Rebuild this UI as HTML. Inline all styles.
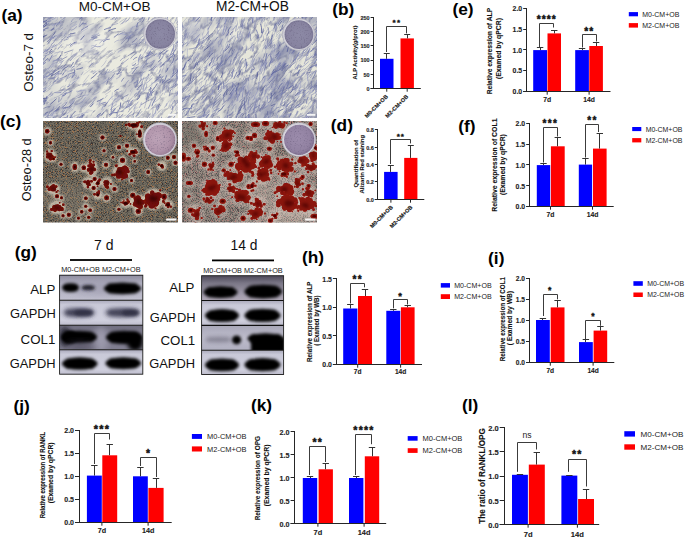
<!DOCTYPE html>
<html><head><meta charset="utf-8"><style>
html,body{margin:0;padding:0;background:#fff;}
svg{display:block;}
text{font-family:"Liberation Sans", sans-serif;}
</style></head><body>
<svg width="685" height="538" viewBox="0 0 685 538">

<rect width="685" height="538" fill="#fff"/>
<defs>
<clipPath id="clip_aL"><rect x="43" y="17" width="135" height="101"/></clipPath>
<clipPath id="clip_aR"><rect x="182" y="17" width="135" height="101"/></clipPath>
<clipPath id="clip_cL"><rect x="43" y="121" width="135" height="101.6"/></clipPath>
<clipPath id="clip_cR"><rect x="182" y="121" width="135" height="101.6"/></clipPath>
<filter id="fibA1" x="0" y="0" width="1" height="1" color-interpolation-filters="sRGB">
<feTurbulence type="turbulence" baseFrequency="0.05 0.11" numOctaves="4" seed="3"/>
<feColorMatrix type="matrix" values="0 0 0 0 0.486 0 0 0 0 0.502 0 0 0 0 0.620 -3.6 0 0 0 0.95"/>
</filter>
<filter id="fibA2" x="0" y="0" width="1" height="1" color-interpolation-filters="sRGB">
<feTurbulence type="turbulence" baseFrequency="0.08 0.16" numOctaves="3" seed="9"/>
<feColorMatrix type="matrix" values="0 0 0 0 0.424 0 0 0 0 0.447 0 0 0 0 0.596 -4 0 0 0 0.75"/>
</filter>
<filter id="fibB1" x="0" y="0" width="1" height="1" color-interpolation-filters="sRGB">
<feTurbulence type="turbulence" baseFrequency="0.05 0.11" numOctaves="4" seed="5"/>
<feColorMatrix type="matrix" values="0 0 0 0 0.486 0 0 0 0 0.502 0 0 0 0 0.620 -3.6 0 0 0 1.1"/>
</filter>
<filter id="fibB2" x="0" y="0" width="1" height="1" color-interpolation-filters="sRGB">
<feTurbulence type="turbulence" baseFrequency="0.08 0.16" numOctaves="3" seed="15"/>
<feColorMatrix type="matrix" values="0 0 0 0 0.424 0 0 0 0 0.447 0 0 0 0 0.596 -4 0 0 0 0.95"/>
</filter>
<filter id="fineA" x="0" y="0" width="1" height="1" color-interpolation-filters="sRGB">
<feTurbulence type="fractalNoise" baseFrequency="0.35" numOctaves="2" seed="41"/>
<feColorMatrix type="matrix" values="0 0 0 0 0.478 0 0 0 0 0.502 0 0 0 0 0.651 2.2 0 0 0 -0.85"/>
</filter>
<filter id="dspk" x="0" y="0" width="1" height="1" color-interpolation-filters="sRGB">
<feTurbulence type="fractalNoise" baseFrequency="0.7" numOctaves="2" seed="77"/>
<feColorMatrix type="matrix" values="0 0 0 0 0.32 0 0 0 0 0.28 0 0 0 0 0.40 1.3 0 0 0 -0.72"/>
<feComposite operator="in" in2="SourceGraphic"/>
</filter>
<filter id="washA" x="0" y="0" width="1" height="1" color-interpolation-filters="sRGB">
<feTurbulence type="fractalNoise" baseFrequency="0.03 0.06" numOctaves="3" seed="4"/>
<feColorMatrix type="matrix" values="0 0 0 0 0.557 0 0 0 0 0.573 0 0 0 0 0.682 2.2 0 0 0 -1.15"/>
</filter>
<filter id="washB" x="0" y="0" width="1" height="1" color-interpolation-filters="sRGB">
<feTurbulence type="fractalNoise" baseFrequency="0.03 0.06" numOctaves="3" seed="6"/>
<feColorMatrix type="matrix" values="0 0 0 0 0.557 0 0 0 0 0.573 0 0 0 0 0.682 2.2 0 0 0 -0.95"/>
</filter>
<filter id="fbl" x="-5%" y="-5%" width="110%" height="110%"><feGaussianBlur stdDeviation="0.4"/></filter>
<filter id="fineB" x="0" y="0" width="1" height="1" color-interpolation-filters="sRGB">
<feTurbulence type="fractalNoise" baseFrequency="0.35" numOctaves="2" seed="43"/>
<feColorMatrix type="matrix" values="0 0 0 0 0.478 0 0 0 0 0.502 0 0 0 0 0.651 2.2 0 0 0 -0.75"/>
</filter>
<filter id="speckL" x="0" y="0" width="1" height="1" color-interpolation-filters="sRGB">
<feTurbulence type="fractalNoise" baseFrequency="1.2" numOctaves="3" seed="21" result="t"/>
<feColorMatrix in="t" type="matrix" values="1 0 0 0 0 1 0 0 0 0 1 0 0 0 0 0 0 0 0 1" result="g"/>
<feComponentTransfer in="g">
<feFuncR type="table" tableValues="0.220 0.222 0.223 0.225 0.227 0.228 0.230 0.290 0.333 0.372 0.410 0.435 0.467 0.520 0.620 0.633 0.647 0.660 0.673 0.687 0.700"/>
<feFuncG type="table" tableValues="0.200 0.202 0.203 0.205 0.207 0.208 0.210 0.270 0.320 0.359 0.390 0.415 0.437 0.450 0.450 0.453 0.457 0.460 0.463 0.467 0.470"/>
<feFuncB type="table" tableValues="0.200 0.200 0.200 0.200 0.200 0.200 0.200 0.250 0.293 0.325 0.350 0.369 0.380 0.367 0.300 0.297 0.293 0.290 0.287 0.283 0.280"/>
</feComponentTransfer>
<feGaussianBlur stdDeviation="0.5"/>
</filter>
<filter id="speckR" x="0" y="0" width="1" height="1" color-interpolation-filters="sRGB">
<feTurbulence type="fractalNoise" baseFrequency="1.2" numOctaves="3" seed="31" result="t"/>
<feColorMatrix in="t" type="matrix" values="1 0 0 0 0 1 0 0 0 0 1 0 0 0 0 0 0 0 0 1" result="g"/>
<feComponentTransfer in="g">
<feFuncR type="table" tableValues="0.300 0.302 0.303 0.305 0.307 0.308 0.310 0.360 0.417 0.470 0.520 0.557 0.600 0.650 0.700 0.703 0.707 0.710 0.713 0.717 0.720"/>
<feFuncG type="table" tableValues="0.270 0.272 0.273 0.275 0.277 0.278 0.280 0.330 0.387 0.440 0.490 0.528 0.553 0.550 0.500 0.492 0.483 0.475 0.467 0.458 0.450"/>
<feFuncB type="table" tableValues="0.280 0.282 0.283 0.285 0.287 0.288 0.290 0.330 0.373 0.416 0.460 0.491 0.517 0.522 0.480 0.473 0.467 0.460 0.453 0.447 0.440"/>
</feComponentTransfer>
<feGaussianBlur stdDeviation="0.5"/>
</filter>
<filter id="blob" x="-50%" y="-50%" width="200%" height="200%"><feGaussianBlur stdDeviation="0.6"/></filter>
<filter id="blobR" x="-50%" y="-50%" width="200%" height="200%"><feMorphology operator="dilate" radius="0.4"/><feGaussianBlur stdDeviation="0.7"/></filter>
<filter id="blob2" x="-50%" y="-50%" width="200%" height="200%"><feGaussianBlur stdDeviation="1.8"/></filter>
<filter id="hal" x="-50%" y="-50%" width="200%" height="200%"><feGaussianBlur stdDeviation="1.0"/></filter>
<filter id="blob3" x="-50%" y="-50%" width="200%" height="200%"><feGaussianBlur stdDeviation="5"/></filter>
<radialGradient id="dishA" cx="0.5" cy="0.5" r="0.5"><stop offset="0" stop-color="#8d8aa6"/><stop offset="0.85" stop-color="#8783a0"/><stop offset="1" stop-color="#7a7694"/></radialGradient>
<radialGradient id="dishC" cx="0.4" cy="0.45" r="0.6"><stop offset="0" stop-color="#bea4b8"/><stop offset="0.7" stop-color="#b094aa"/><stop offset="1" stop-color="#9c8098"/></radialGradient>
<radialGradient id="dishD" cx="0.45" cy="0.45" r="0.6"><stop offset="0" stop-color="#9c8cac"/><stop offset="0.7" stop-color="#9282a2"/><stop offset="1" stop-color="#7e6e8e"/></radialGradient>

</defs>
<g clip-path="url(#clip_aL)">
<rect x="43" y="17" width="135" height="101" fill="#eaeadf"/>
<g transform="rotate(-40 110.5 67.5)"><rect x="0.5" y="-42.5" width="220" height="220" filter="url(#washA)"/>
<rect x="0.5" y="-42.5" width="220" height="220" filter="url(#fibA1)"/>
</g></g>
<g clip-path="url(#clip_aL)">
<ellipse cx="54" cy="28" rx="14" ry="12" fill="#6c7298" opacity="0.35" filter="url(#blob3)"/>
<ellipse cx="48" cy="70" rx="8" ry="25" fill="#7a80a2" opacity="0.25" filter="url(#blob3)"/>
<ellipse cx="88" cy="42" rx="22" ry="14" fill="#f2f2ec" opacity="0.45" filter="url(#blob3)"/>
<ellipse cx="130" cy="86" rx="7" ry="7" fill="#5e6490" opacity="0.4" filter="url(#blob3)"/>
<ellipse cx="66" cy="104" rx="20" ry="12" fill="#7a80a2" opacity="0.2" filter="url(#blob3)"/>
</g>
<g clip-path="url(#clip_aL)"><g fill="none" stroke-linecap="round" filter="url(#fbl)"><path stroke="#505894" stroke-width="0.5" stroke-opacity="0.25" d="M169.0 90.1Q169 88 171.0 87.6M89.1 51.0Q92 51 95.6 48.5M93.2 92.3Q95 91 95.1 89.4M41.8 80.1Q46 79 48.9 75.6M151.0 20.2Q153 20 155.7 18.2M45.4 55.8Q50 55 52.3 53.2M91.2 67.2Q94 66 95.6 66.9M137.1 66.9Q138 66 138.8 63.1"/><path stroke="#505894" stroke-width="0.5" stroke-opacity="0.5" d="M52.3 71.3Q54 71 55.7 69.7M44.4 92.4Q48 91 51.0 88.4M142.8 40.4Q144 39 144.9 38.2M105.6 94.3Q108 93 110.7 90.8M72.5 77.1Q72 75 73.4 72.7M166.6 81.2Q168 80 168.3 78.6M161.8 72.1Q162 70 163.6 67.7M49.7 83.5Q51 82 51.7 80.9M126.4 38.8Q128 39 130.8 37.6M161.2 31.6Q163 27 164.2 24.5M54.5 97.9Q58 97 62.0 94.2M156.0 17.9Q156 17 157.3 13.8M39.4 38.6Q42 38 43.0 37.1M120.4 118.8Q122 116 126.0 114.9M41.5 43.3Q42 42 44.1 40.4M52.2 30.4Q54 27 55.5 23.4M66.3 36.9Q66 37 68.8 34.9M116.8 68.1Q121 67 123.6 63.6M135.4 51.2Q135 48 137.1 43.8M153.0 49.6Q155 47 158.6 43.1M179.8 74.5Q181 73 183.5 70.2M119.8 22.1Q124 19 126.8 17.9M93.9 83.9Q95 84 98.7 80.9M137.9 84.8Q140 82 141.8 78.7M133.8 73.5Q138 73 141.3 72.6M159.2 71.9Q159 71 161.1 68.0M119.4 76.2Q120 75 121.2 73.2M64.2 63.4Q66 62 68.7 58.5M75.2 78.1Q77 78 76.4 75.0M110.6 113.2Q111 110 114.1 108.1M56.5 26.6Q59 26 59.8 22.8M177.0 29.6Q181 28 182.2 27.6M158.3 111.9Q161 110 162.3 109.3M108.9 16.7Q112 15 113.4 14.0M83.6 82.2Q86 79 89.0 75.1M143.9 112.6Q146 110 146.7 108.2M175.6 47.9Q176 46 178.2 43.2M166.9 47.2Q170 44 170.5 41.6M127.3 101.6Q128 99 128.8 97.7M146.1 57.5Q149 55 151.8 52.5M60.4 23.7Q61 21 62.9 21.2M69.6 102.6Q74 101 76.6 98.4M60.0 89.0Q61 87 63.5 86.1M49.7 119.2Q55 118 57.6 115.7M174.6 76.6Q177 75 177.7 72.1M72.5 100.4Q74 100 75.3 97.9"/><path stroke="#505894" stroke-width="0.5" stroke-opacity="0.75" d="M136.6 116.3Q139 115 142.0 111.4M155.0 97.1Q156 94 157.8 92.4M51.3 53.6Q53 52 54.3 51.3M110.4 109.6Q113 106 116.2 104.5M78.7 97.3Q82 96 84.9 94.9M160.3 96.3Q163 94 163.1 93.2M80.8 116.0Q83 115 84.9 113.7M37.7 47.7Q41 47 44.8 45.2M113.8 122.7Q116 120 119.8 116.3M139.2 39.9Q141 37 144.3 35.2M121.3 43.9Q125 39 127.6 37.5M130.0 123.8Q133 121 133.6 116.4M167.2 61.6Q168 61 169.5 58.1M90.6 122.0Q93 122 95.8 119.9M172.4 108.5Q175 106 177.6 102.1M163.7 66.1Q164 65 165.0 63.0M155.6 94.4Q156 92 157.1 90.3M174.2 87.3Q177 86 179.6 83.1M163.1 27.9Q165 26 165.9 23.2M165.1 53.7Q167 52 167.0 50.3M181.1 67.3Q181 65 182.4 62.7M128.2 112.0Q129 111 130.0 109.3M162.6 64.7Q165 62 169.4 59.6M116.0 113.1Q120 111 123.1 111.3M46.5 119.2Q48 114 50.1 111.3M150.2 48.1Q151 45 151.5 40.6M66.5 45.3Q69 46 70.9 43.4M108.3 53.1Q111 51 112.2 50.4M59.3 15.7Q63 14 64.0 11.5M65.6 81.2Q67 78 68.6 75.4M136.8 84.9Q139 83 141.6 79.1M76.7 67.0Q78 65 80.7 64.1M174.9 46.9Q175 45 177.0 43.7M89.4 91.6Q91 90 92.4 87.9"/><path stroke="#505894" stroke-width="1.0" stroke-opacity="0.25" d="M139.2 74.5Q141 70 143.7 67.3M145.6 102.2Q147 101 146.8 98.1M120.0 40.3Q123 39 125.7 36.5M85.0 94.0Q86 91 86.0 90.8M144.5 84.6Q145 83 146.7 80.1M140.2 22.2Q142 20 142.8 16.2M177.1 38.5Q179 37 179.8 33.6M153.4 98.1Q155 97 154.9 93.0M178.7 59.2Q180 55 182.2 51.4M99.5 74.6Q103 72 104.8 67.9M113.4 110.3Q116 107 120.1 104.9M77.4 97.8Q79 98 80.9 96.4M40.5 62.3Q43 59 44.4 58.1M152.8 33.4Q156 32 160.3 28.8M106.8 72.3Q110 72 109.9 69.9"/><path stroke="#505894" stroke-width="1.0" stroke-opacity="0.5" d="M169.8 65.9Q172 63 172.4 61.9M57.8 69.1Q61 67 62.3 65.9M101.7 115.4Q103 114 103.7 112.3M100.8 115.4Q103 113 106.2 110.3M90.8 15.4Q94 15 96.5 13.3M130.0 109.4Q133 106 135.4 104.1M62.1 40.0Q63 39 66.2 36.4M151.0 109.3Q155 106 156.4 104.0M55.1 111.2Q56 110 58.5 109.3M64.2 40.3Q65 40 68.3 38.8M158.4 25.9Q162 26 165.0 23.3M56.4 25.6Q58 23 59.9 22.2M132.3 42.4Q135 41 136.8 38.3M141.3 104.7Q146 102 148.8 100.1M159.5 58.3Q161 55 159.9 53.0M146.7 40.1Q149 35 149.2 31.6M128.1 55.8Q132 53 133.6 52.0M106.7 84.5Q108 80 109.0 77.6M160.0 83.1Q161 78 163.3 76.0M138.5 59.3Q139 57 140.5 54.7M146.2 78.5Q149 76 148.7 74.2M109.4 79.5Q113 77 114.6 73.6M168.1 83.2Q168 82 170.5 81.3M41.9 60.6Q44 59 46.0 55.8M49.8 40.6Q50 39 52.4 37.5M130.9 54.3Q133 53 134.3 52.1M171.5 121.3Q174 121 173.5 118.5M91.6 37.8Q95 37 99.8 35.0M167.3 43.9Q168 41 170.0 40.0M128.6 104.9Q130 104 131.3 103.2M166.4 57.2Q170 56 172.9 53.2M169.3 95.6Q170 93 170.4 90.3M70.0 105.6Q72 103 74.5 100.9M68.9 34.9Q71 34 74.4 33.0M174.0 16.6Q176 15 176.8 13.8M60.6 17.9Q62 16 63.5 14.9M59.4 61.1Q64 58 66.9 56.7M175.0 105.6Q176 103 174.6 100.4M154.9 81.5Q158 79 160.8 76.0M43.8 108.3Q46 107 49.1 106.5M147.0 120.5Q147 117 149.6 114.5M70.4 33.6Q72 34 75.3 33.1M128.0 40.7Q129 37 130.2 36.0M172.8 41.1Q173 38 175.3 36.9M56.2 111.4Q57 109 59.7 106.2M138.4 60.9Q140 59 143.0 57.5M79.5 26.8Q81 25 83.4 22.2M121.3 98.9Q125 96 128.1 94.6M51.8 75.3Q53 73 55.1 70.0M80.8 95.1Q82 93 82.3 92.3M64.5 52.8Q67 52 72.3 50.1M142.2 22.1Q144 21 144.6 17.9M39.4 81.6Q42 79 44.0 75.0M63.3 115.4Q66 114 66.4 112.0M77.2 119.5Q82 118 84.7 115.0M130.8 58.2Q133 55 136.4 53.2"/><path stroke="#505894" stroke-width="1.0" stroke-opacity="0.75" d="M44.9 26.3Q47 25 46.6 22.8M137.0 89.7Q139 86 142.3 84.2M97.3 101.4Q99 101 103.2 98.5M104.8 106.3Q106 104 107.3 102.5M176.7 43.2Q179 40 181.5 36.8M44.0 104.5Q46 100 46.9 96.5M144.8 57.1Q148 55 148.5 55.0M145.4 29.4Q148 26 148.8 21.9M159.6 54.0Q163 51 165.5 49.6M157.6 110.1Q158 107 159.4 104.5M56.9 59.5Q60 58 60.8 55.3M79.2 50.1Q80 49 82.0 48.9M165.7 72.0Q168 71 167.8 68.2M168.6 26.8Q168 24 170.1 21.5M117.7 74.3Q120 71 120.7 69.6M70.3 118.0Q72 114 75.2 111.3M51.3 30.1Q53 28 54.1 28.8M119.6 108.9Q121 106 120.7 102.9M157.9 77.8Q159 77 160.2 74.5M151.0 95.5Q151 93 153.3 91.3M38.8 30.9Q41 28 45.0 25.9M42.2 26.6Q44 25 46.1 23.3M51.7 75.7Q54 75 59.2 71.1M171.6 39.4Q171 36 173.0 32.9M80.7 39.9Q83 37 84.2 35.8M76.8 69.3Q79 69 82.5 67.8M167.4 42.1Q168 40 168.4 38.3M41.4 22.6Q44 22 46.9 20.2M96.9 116.6Q97 115 100.3 113.5M62.7 108.1Q67 108 69.4 106.8M66.4 118.8Q67 118 67.7 115.6M152.0 21.1Q156 19 159.1 17.5M52.9 35.3Q54 35 55.2 32.1M156.2 34.3Q159 32 162.1 31.2M160.5 67.0Q161 66 163.8 64.1M91.1 78.5Q95 76 97.3 73.0M137.3 123.4Q137 120 138.1 118.6M61.8 70.7Q64 68 68.0 66.4M152.4 90.4Q156 86 157.2 83.8M39.8 98.5Q44 99 48.1 97.9M41.0 37.8Q45 36 46.9 35.0M118.5 119.1Q120 117 122.9 114.5M155.8 23.9Q158 20 160.3 18.1M74.2 73.5Q75 72 74.7 69.9M108.3 31.1Q112 29 115.5 28.4M78.2 118.7Q80 117 82.8 115.4M49.4 52.3Q50 50 51.7 49.2M50.5 104.2Q53 102 56.3 98.9M59.9 119.7Q62 118 65.5 117.7M41.8 37.7Q44 37 44.6 35.9M136.7 26.8Q137 24 138.1 22.5M44.8 114.8Q45 113 47.8 112.0"/><path stroke="#5e66a0" stroke-width="0.5" stroke-opacity="0.25" d="M70.6 36.7Q76 35 79.0 33.8M140.8 23.6Q143 20 145.0 17.6M98.3 121.5Q100 120 103.1 119.3M40.4 105.6Q43 106 46.2 105.8M42.4 55.0Q43 55 46.2 52.3M152.6 97.9Q155 96 158.6 93.7M159.3 58.7Q161 57 160.6 55.2M92.3 105.0Q94 105 95.0 102.0M131.0 55.6Q135 53 138.5 51.0M112.7 99.7Q115 97 119.2 93.7M60.6 41.9Q63 40 67.5 37.4M78.3 44.0Q82 42 84.9 41.7M159.0 115.7Q162 113 164.3 108.6M170.9 55.2Q171 50 173.3 47.4M55.1 63.8Q58 60 61.7 58.0M162.1 99.0Q164 98 166.6 96.7"/><path stroke="#5e66a0" stroke-width="0.5" stroke-opacity="0.5" d="M176.8 23.4Q178 23 178.2 20.3M173.9 96.7Q176 92 178.1 90.6M48.1 125.0Q51 123 52.5 118.8M126.1 32.9Q129 33 131.7 31.6M157.9 115.8Q160 113 163.2 110.1M90.9 115.7Q92 113 93.9 110.8M173.9 52.9Q176 49 176.4 45.6M78.7 120.9Q81 116 82.2 113.4M107.2 90.4Q111 88 113.9 86.1M142.4 89.6Q144 85 146.1 82.6M96.3 59.1Q98 56 101.0 53.0M158.8 34.8Q160 31 160.6 29.5M164.4 119.6Q165 119 167.4 118.7M72.4 121.9Q75 121 77.4 118.2M165.6 71.2Q167 67 167.1 64.4M154.9 23.1Q157 23 158.3 20.1M113.5 72.5Q118 71 121.2 68.9M168.9 32.7Q171 32 170.7 29.4M113.7 24.4Q116 22 117.2 21.7M127.3 73.9Q131 73 133.2 69.0M150.0 67.2Q153 64 155.1 60.1M133.4 109.4Q136 108 136.3 107.0M43.6 86.7Q44 84 47.0 83.0M63.6 69.2Q67 66 70.2 64.3M62.9 89.5Q64 88 65.6 85.1M39.2 95.5Q41 93 44.2 91.7M142.8 86.7Q145 84 145.4 78.8M150.9 24.8Q154 20 155.1 17.7M76.0 16.7Q77 16 79.1 16.1M51.8 118.6Q54 117 55.2 116.9M47.1 26.9Q51 25 52.7 22.9M78.0 91.4Q82 92 83.9 90.7M61.6 105.3Q64 103 65.6 102.5M85.5 26.8Q89 25 93.4 23.4M169.4 35.7Q172 33 172.6 29.4"/><path stroke="#5e66a0" stroke-width="0.5" stroke-opacity="0.75" d="M176.9 103.2Q178 99 180.4 96.8M54.7 75.8Q58 73 60.1 71.6M143.2 66.6Q146 64 148.4 63.1M146.2 88.1Q147 86 146.7 84.3M171.2 109.8Q172 109 173.3 106.0M178.5 69.4Q182 66 183.2 62.6M43.6 55.9Q45 56 48.9 54.3M39.0 117.5Q41 117 42.1 115.3M67.4 78.5Q70 78 70.9 75.8M108.9 18.0Q111 16 111.5 15.5M67.8 120.0Q71 117 71.2 114.1M48.6 89.0Q51 86 53.1 84.3M125.4 101.8Q130 101 132.3 97.7M132.0 68.9Q135 66 138.7 63.9M164.9 39.2Q165 36 166.1 32.4M111.2 25.1Q114 25 117.8 23.4M117.5 35.0Q121 34 124.6 31.8M147.8 94.2Q148 93 149.2 90.9M47.6 50.4Q50 49 49.5 47.9M132.4 44.4Q136 44 137.1 42.5M57.8 80.0Q58 76 58.4 73.4M62.0 111.7Q63 108 65.7 106.9M98.7 28.2Q100 26 102.1 25.9M59.1 44.6Q62 43 62.0 39.4M166.0 70.5Q168 70 169.1 67.1M140.9 79.1Q141 76 140.7 74.2M156.1 23.9Q159 20 159.9 15.9M44.5 26.7Q46 26 49.2 23.3M114.9 94.9Q118 92 121.5 90.9M160.9 66.0Q164 63 166.7 60.4M91.3 106.3Q93 104 93.3 102.1M147.3 55.7Q150 53 151.5 49.0M163.8 90.0Q164 87 164.4 85.0M105.0 97.8Q107 96 107.1 95.6M140.8 84.2Q143 81 144.0 77.1M97.9 16.6Q101 16 103.3 12.9M81.3 74.7Q83 73 83.1 72.0M120.8 24.1Q125 21 126.5 18.3M167.6 43.3Q170 40 170.7 38.1M159.4 65.0Q161 64 161.4 62.6M76.6 104.7Q81 103 82.6 101.6M153.4 83.1Q156 81 158.0 76.5M95.0 40.7Q99 39 102.8 40.1M132.6 116.1Q134 114 134.9 110.2M74.7 64.9Q76 61 78.4 58.9"/><path stroke="#5e66a0" stroke-width="1.0" stroke-opacity="0.25" d="M43.7 17.8Q48 18 50.2 15.2M142.7 79.2Q147 77 149.9 74.2M70.0 24.6Q73 22 75.3 21.7M123.1 93.5Q126 92 126.3 88.9M76.8 60.5Q79 58 80.6 56.1M167.2 45.0Q169 42 170.2 36.5M135.2 119.5Q137 115 138.8 113.0M118.7 35.0Q120 34 122.4 32.7M61.6 96.7Q63 94 65.9 92.5M99.8 72.3Q103 70 103.4 69.3"/><path stroke="#5e66a0" stroke-width="1.0" stroke-opacity="0.5" d="M172.0 120.3Q172 119 174.4 118.4M89.2 106.3Q93 102 94.9 99.6M58.6 101.9Q59 100 59.1 97.3M149.0 70.8Q153 69 154.8 66.2M168.8 59.7Q169 58 170.8 56.8M62.8 92.9Q67 90 69.4 88.6M139.1 20.2Q142 19 143.3 16.6M53.2 61.2Q56 61 61.5 58.4M170.5 90.4Q173 89 176.9 84.7M151.8 19.5Q154 18 155.8 16.8M142.0 19.1Q145 16 147.6 14.6M171.6 87.5Q174 87 176.0 84.4M151.0 45.4Q154 45 154.7 43.0M44.9 21.8Q47 19 51.7 16.9M42.1 92.7Q45 91 45.8 87.7M147.8 24.8Q150 23 152.7 18.9M49.6 94.6Q50 94 51.8 91.8M47.4 44.2Q49 42 51.5 39.3M135.7 116.4Q139 114 140.5 109.7M105.3 74.2Q106 71 107.7 69.3M68.1 87.0Q72 84 74.4 81.6M158.8 26.1Q158 25 160.2 21.2M148.4 90.1Q150 89 151.5 88.4M121.6 111.2Q124 111 124.5 108.6M53.2 82.6Q56 81 58.4 77.8M156.0 38.0Q158 37 158.4 34.4M158.4 61.7Q160 60 160.8 59.2M94.0 54.3Q97 54 98.4 52.8M174.6 62.3Q174 60 176.6 59.6M60.1 118.0Q62 116 64.7 113.2M40.2 66.2Q43 64 45.3 62.8M136.2 17.0Q139 14 141.5 10.8M138.0 96.8Q140 95 142.5 91.0M158.6 108.5Q159 107 161.0 105.0M139.3 43.6Q141 42 143.3 39.5M158.5 62.2Q161 60 163.4 55.8M60.3 78.7Q63 78 67.0 75.4M50.7 30.4Q53 30 54.1 27.8M135.1 97.4Q138 95 139.1 91.6M89.5 66.7Q91 64 93.4 62.8M168.1 117.7Q171 114 172.1 111.3M126.9 122.3Q130 120 130.9 119.8M67.5 86.8Q69 87 69.6 84.7M165.6 45.5Q169 44 170.5 41.9M131.5 68.9Q136 68 138.5 66.8M93.1 73.7Q94 74 95.9 71.5M63.3 18.4Q66 16 70.9 14.7"/><path stroke="#5e66a0" stroke-width="1.0" stroke-opacity="0.75" d="M43.2 30.1Q46 28 48.1 27.7M151.9 105.9Q152 104 155.1 99.2M66.2 15.9Q68 15 71.7 14.3M70.5 67.2Q72 65 73.4 62.3M109.2 114.6Q112 112 116.7 112.4M132.3 73.5Q134 71 136.9 67.5M70.4 45.4Q72 44 74.8 42.3M150.8 93.1Q149 90 150.5 87.3M165.8 36.0Q167 34 167.7 32.2M62.5 75.0Q64 72 66.1 70.3M173.0 54.6Q173 52 175.2 49.8M148.2 97.4Q150 93 152.4 90.4M171.5 77.2Q174 75 177.3 71.6M69.5 106.5Q71 105 73.5 102.8M114.2 37.2Q116 36 118.2 33.7M81.2 119.4Q83 116 83.3 114.6M162.6 82.5Q166 80 166.6 75.7M52.8 38.7Q54 37 54.9 35.8M146.7 56.5Q148 56 149.2 54.1M36.6 107.0Q40 106 42.1 103.0M114.6 91.2Q117 89 118.2 89.1M79.4 19.2Q83 17 85.5 13.6M39.3 103.6Q42 101 46.1 100.5M71.8 77.9Q74 75 74.8 73.8M97.3 123.5Q101 120 103.8 117.6M42.8 91.5Q45 92 46.0 89.9M132.6 65.4Q135 66 135.6 63.6M172.8 62.5Q174 57 174.7 54.6M62.5 96.0Q65 95 65.6 94.4M163.6 83.8Q166 81 170.2 79.1M104.4 29.5Q108 28 110.6 27.5M90.4 106.8Q92 105 93.1 103.9M170.9 36.7Q171 34 173.3 30.5M167.9 60.0Q172 57 173.4 54.7M137.3 99.7Q140 98 140.0 95.4"/><path stroke="#6e74aa" stroke-width="0.5" stroke-opacity="0.25" d="M136.6 32.4Q140 32 142.7 29.1M161.8 83.2Q165 82 165.9 80.3M135.7 32.9Q138 30 139.0 27.7M175.9 33.6Q178 31 179.7 28.3M147.1 48.3Q148 45 148.6 41.0M73.0 80.3Q74 80 75.5 77.7M40.7 54.1Q43 53 45.0 49.3M59.1 102.0Q61 101 62.3 97.9M47.1 118.1Q49 116 51.5 114.4M61.0 121.6Q63 122 63.9 120.0M153.5 92.2Q155 92 154.6 88.7"/><path stroke="#6e74aa" stroke-width="0.5" stroke-opacity="0.5" d="M181.1 66.2Q182 64 181.9 61.1M178.9 17.0Q179 13 181.4 9.5M69.0 101.4Q71 100 73.9 97.8M45.6 40.4Q50 38 53.1 35.7M169.3 43.6Q172 41 175.1 37.2M52.3 114.6Q55 112 58.2 108.3M162.4 58.4Q163 54 165.8 50.8M43.0 102.9Q45 101 47.7 99.2M62.1 109.3Q65 108 66.0 106.9M77.4 92.4Q78 92 80.6 90.2M122.0 31.5Q124 31 124.5 29.6M46.3 113.7Q51 111 53.3 109.7M138.2 33.6Q141 29 144.5 27.3M55.9 21.1Q58 20 57.6 17.1M43.5 29.8Q47 28 48.5 28.6M46.6 83.3Q47 82 49.0 80.1M118.2 71.8Q119 69 121.7 67.7M51.0 67.6Q53 66 53.3 64.7M117.9 99.9Q121 96 122.4 94.2M89.1 66.3Q91 66 91.9 62.8M119.0 76.3Q121 75 121.0 73.5M155.3 115.4Q157 113 160.1 111.2M143.2 31.6Q145 28 145.9 26.3M121.8 23.8Q122 23 125.1 21.2M75.1 56.3Q77 56 77.1 53.2M159.7 41.0Q163 41 166.1 38.4M130.5 102.0Q134 101 135.1 98.9M158.7 42.6Q160 39 160.9 37.8M170.9 95.0Q172 92 173.1 89.1M157.5 67.3Q160 64 161.0 60.3M142.1 56.4Q144 54 145.3 50.8M66.1 114.1Q69 112 73.0 109.3M170.1 78.9Q170 77 171.3 74.4M82.7 86.7Q83 86 84.8 83.0M144.8 52.4Q147 49 149.6 45.1M83.7 74.6Q88 71 90.3 69.5M153.8 73.8Q157 72 157.7 68.9M135.7 112.6Q137 110 138.3 109.8M122.0 106.4Q123 106 123.4 103.4M62.4 112.4Q64 111 64.8 110.3M83.5 109.2Q86 106 88.4 104.3M39.4 23.4Q44 21 47.1 18.7M134.4 95.0Q138 92 140.8 89.1M152.0 70.2Q153 68 156.3 64.4M67.9 60.2Q71 56 74.3 53.8M64.9 55.9Q67 53 67.6 53.2M130.0 105.6Q132 103 132.0 100.5M42.9 60.4Q45 59 46.2 56.9M95.3 64.3Q99 63 100.3 59.8M130.3 91.5Q130 90 132.3 88.4M103.2 43.2Q104 42 105.8 39.6M92.1 123.8Q94 121 97.1 119.2M58.4 63.6Q61 61 63.3 58.4M48.0 17.7Q50 15 52.3 14.9M142.8 50.1Q143 48 145.3 45.9M142.8 92.1Q145 91 147.8 87.2M110.9 80.9Q112 78 112.6 75.6M96.4 119.1Q99 117 102.2 113.9M149.9 91.5Q152 90 151.2 87.8M176.0 84.7Q176 81 178.0 79.2"/><path stroke="#6e74aa" stroke-width="0.5" stroke-opacity="0.75" d="M102.5 74.8Q104 75 106.6 72.4M46.6 25.0Q49 24 49.1 22.0M70.7 57.4Q73 55 76.0 53.5M110.6 19.4Q115 19 117.7 18.4M53.0 64.2Q55 63 57.1 61.9M152.5 115.3Q153 110 153.1 107.3M165.7 92.6Q166 90 166.9 84.8M72.1 117.4Q76 115 79.6 114.3M56.2 119.5Q60 118 60.7 117.2M45.8 121.1Q47 119 49.6 117.1M83.5 104.7Q87 102 89.6 98.6M173.2 24.3Q175 21 176.5 19.9M94.6 18.8Q97 17 97.0 16.9M178.9 72.4Q182 69 183.4 64.8M60.7 94.3Q64 94 65.4 93.7M178.0 93.5Q178 91 179.0 89.1M69.9 47.1Q72 46 73.2 44.8M113.9 100.7Q117 99 119.4 95.9M76.1 96.8Q80 95 81.9 93.0M77.0 61.6Q80 62 80.6 60.0M46.0 98.2Q48 95 51.5 93.8M116.3 101.9Q118 101 120.5 98.4M153.6 102.6Q157 101 160.2 97.8M114.8 119.6Q117 116 119.9 114.8M91.8 35.8Q95 35 96.4 34.0M87.7 86.7Q90 83 93.8 80.4M102.3 103.9Q103 102 105.9 102.2M146.0 64.2Q146 59 147.9 56.7M144.5 107.9Q145 106 146.1 102.3M79.3 25.3Q81 21 82.1 18.5M129.5 83.0Q133 82 133.4 78.9M73.5 107.0Q75 106 77.1 103.5M54.7 53.1Q58 52 62.1 51.6M171.6 58.2Q172 57 173.7 53.9M161.9 92.3Q163 90 163.5 86.4M172.9 36.5Q173 35 175.7 32.6M176.7 27.5Q182 27 184.4 23.3M131.8 81.2Q133 80 133.9 77.6M179.4 104.0Q179 101 179.5 99.1M50.9 58.3Q53 56 55.9 55.4M39.9 74.7Q42 71 45.3 69.5M49.7 72.3Q52 71 52.7 69.6M105.4 18.9Q108 18 109.4 16.1"/><path stroke="#6e74aa" stroke-width="1.0" stroke-opacity="0.25" d="M154.7 25.8Q156 23 154.6 20.6M59.9 36.5Q63 35 66.8 31.1M61.0 115.4Q63 113 63.3 112.2M154.7 82.6Q157 80 160.1 78.9M173.8 73.2Q176 72 176.8 68.6M166.9 24.3Q168 21 170.8 19.5M151.1 64.5Q152 62 153.0 61.1M41.2 54.1Q42 51 44.1 49.2M100.8 58.2Q104 56 107.1 54.3M154.1 34.5Q157 33 157.9 32.2M175.9 50.7Q177 49 177.9 48.4"/><path stroke="#6e74aa" stroke-width="1.0" stroke-opacity="0.5" d="M150.2 67.5Q152 65 154.3 60.6M173.8 36.1Q175 33 175.4 29.2M61.4 91.0Q63 89 65.3 88.2M71.3 21.8Q72 20 73.6 18.7M127.8 116.4Q131 115 133.8 113.8M176.6 60.2Q178 59 178.3 56.4M134.9 30.7Q135 30 138.0 29.1M41.7 88.8Q43 84 45.6 81.3M97.8 76.6Q99 75 100.2 74.2M62.0 114.3Q63 112 64.7 110.0M164.7 107.3Q166 106 166.8 103.6M147.0 21.7Q148 21 149.5 17.7M157.8 73.9Q160 72 160.7 69.7M48.1 69.3Q51 65 53.8 62.5M120.3 60.7Q122 58 124.5 57.4M51.2 111.4Q54 108 54.0 106.7M64.0 36.0Q65 33 66.5 32.7M121.9 63.7Q126 61 128.4 58.8M65.2 119.0Q68 119 72.6 117.2M156.7 108.0Q157 107 158.7 105.6M71.2 30.3Q74 30 76.7 26.7M144.9 90.0Q145 87 146.4 86.9M125.4 84.7Q126 83 128.4 80.5M148.2 54.9Q149 52 150.7 51.5M125.8 21.9Q129 20 130.0 17.5M168.1 90.8Q168 89 168.7 87.4M148.3 19.5Q150 16 150.1 11.0M175.5 43.2Q178 42 180.0 41.1M57.7 68.0Q61 65 62.4 61.4M145.7 61.3Q148 58 149.6 57.5M64.9 109.0Q67 108 67.2 106.7M141.5 88.3Q142 86 142.4 81.8M40.2 67.5Q43 64 45.6 62.3M162.9 35.0Q165 32 165.3 31.4M37.9 74.5Q39 72 43.2 69.6M46.2 52.3Q48 48 51.5 45.3M147.5 121.4Q149 119 150.0 116.7M37.4 98.1Q39 94 41.9 91.3M172.8 86.3Q174 84 176.1 81.0M145.7 95.9Q148 94 148.4 92.7M126.5 119.8Q128 118 128.4 116.9M48.4 50.0Q52 46 54.5 44.6M175.5 85.2Q176 81 177.5 76.5"/><path stroke="#6e74aa" stroke-width="1.0" stroke-opacity="0.75" d="M155.7 122.7Q157 120 156.6 118.1M37.7 19.0Q41 18 43.4 15.4M45.7 22.5Q49 21 50.9 20.8M37.0 25.1Q40 24 43.7 21.4M41.7 64.6Q45 61 47.6 58.4M116.8 116.2Q117 112 118.3 110.5M148.5 56.0Q151 54 152.8 53.3M66.9 37.8Q70 36 70.5 35.8M155.7 80.7Q158 78 162.1 76.8M39.2 53.9Q42 50 42.7 47.1M47.1 41.9Q50 39 52.3 36.3M121.6 81.2Q122 80 123.8 78.0M116.5 74.1Q118 74 121.5 72.3M172.7 119.2Q174 117 175.2 115.7M133.4 59.5Q134 58 136.9 57.2M126.0 107.9Q130 106 131.8 104.7M111.7 122.9Q114 120 115.0 117.5M172.5 50.1Q174 48 174.0 44.3M173.0 73.6Q174 73 173.7 69.8M110.7 114.2Q112 112 115.1 108.6M135.5 87.4Q137 85 138.0 80.5M176.4 77.0Q177 74 177.6 69.8M103.3 41.5Q106 39 109.4 39.1M163.1 54.5Q165 52 168.1 50.5M61.9 68.3Q64 67 65.5 64.7M46.4 119.1Q48 117 48.7 116.8M81.4 30.1Q84 28 87.7 26.5M71.6 68.1Q72 67 74.4 66.0M134.5 95.3Q135 95 136.6 92.9M49.1 61.2Q51 57 52.3 55.1M39.2 48.3Q39 46 41.3 45.8M148.2 108.5Q149 107 150.1 104.7M81.5 56.7Q83 55 84.6 53.7M82.2 23.7Q85 23 86.4 23.9M96.7 119.3Q99 116 100.4 113.6M61.4 122.1Q65 122 66.6 118.7M49.4 75.0Q53 73 56.6 70.3M42.6 119.7Q45 118 48.7 115.1M49.8 121.7Q53 118 54.7 115.7M65.1 93.7Q69 93 72.1 90.7M112.1 18.9Q116 16 119.5 14.2M175.1 34.7Q176 33 176.7 32.1M61.9 107.7Q66 105 67.1 102.1M146.3 100.3Q147 98 147.9 94.1M172.1 77.1Q173 75 173.5 72.8M49.7 53.1Q50 51 53.1 50.9M68.6 74.3Q72 73 74.4 72.2M92.7 39.7Q95 38 96.5 37.1M162.3 83.2Q163 81 162.9 79.3M44.0 77.7Q49 76 51.6 73.4M159.7 119.8Q161 118 161.6 117.4M49.9 18.3Q51 15 53.9 14.8M83.2 122.4Q85 121 90.0 120.6M37.1 102.3Q40 100 44.5 99.9M172.7 110.2Q173 108 172.8 106.1M180.0 34.3Q181 33 181.6 30.0M50.1 115.3Q52 113 56.4 109.8"/><path stroke="#8086b4" stroke-width="0.5" stroke-opacity="0.25" d="M97.2 47.3Q101 46 103.8 45.0M177.5 108.7Q179 106 180.7 102.5M172.6 92.7Q174 90 175.1 87.9M62.1 96.8Q65 94 65.8 91.8M141.2 71.9Q144 70 146.0 66.1M177.4 36.6Q178 33 180.6 28.5M71.8 110.5Q73 110 74.5 107.4M48.7 100.8Q51 100 54.6 98.2M152.6 93.3Q155 91 157.4 89.1M89.9 120.8Q93 119 93.5 116.8M169.1 70.5Q173 67 176.2 65.5M39.8 41.5Q42 40 46.0 38.2M142.9 94.6Q145 93 147.2 89.6"/><path stroke="#8086b4" stroke-width="0.5" stroke-opacity="0.5" d="M44.0 16.4Q48 14 50.3 10.1M70.9 55.8Q72 52 73.3 49.2M135.7 122.8Q136 121 139.0 117.9M139.5 22.1Q140 20 142.5 18.1M55.9 56.5Q57 53 60.0 50.8M41.3 62.3Q45 61 47.3 59.1M161.3 116.9Q163 113 163.0 110.7M94.5 91.8Q95 89 98.3 88.5M155.3 113.4Q157 109 156.4 105.6M73.9 59.2Q76 57 79.4 55.4M84.9 61.7Q87 61 89.6 61.3M140.4 80.7Q143 79 146.6 77.6M111.0 73.0Q114 72 117.8 69.6M149.2 86.5Q152 84 152.9 83.2M147.3 79.8Q149 76 151.5 72.4M65.2 79.7Q67 77 69.1 73.4M44.3 51.0Q47 52 47.9 51.1M125.5 100.0Q126 97 127.7 95.1M117.6 97.9Q119 96 119.2 92.8M152.0 41.4Q153 41 154.2 39.4M140.8 80.8Q141 76 142.1 72.9M55.5 111.2Q58 109 60.2 107.5M178.0 105.7Q180 102 181.2 99.9M172.7 18.1Q173 17 173.3 14.9M136.0 114.7Q140 112 141.6 108.8M156.5 107.7Q157 105 157.8 104.3M92.7 37.1Q96 36 98.2 32.5M137.5 48.3Q139 44 140.0 41.2M169.4 82.0Q172 80 174.2 78.6M131.7 63.8Q133 63 136.2 60.7M151.5 83.4Q155 82 160.0 80.8M148.6 87.0Q151 85 154.3 82.1M40.9 27.7Q43 26 47.7 23.5M149.6 58.0Q150 57 151.6 55.2M176.4 38.5Q177 34 177.8 32.5M142.7 71.6Q144 70 144.2 66.3M53.2 84.1Q54 82 55.4 80.5M170.8 87.4Q172 82 174.8 79.9"/><path stroke="#8086b4" stroke-width="0.5" stroke-opacity="0.75" d="M72.8 76.8Q74 75 75.6 75.2M156.7 121.5Q157 120 158.3 116.5M168.9 59.1Q170 57 171.6 54.3M91.3 46.0Q93 45 94.3 45.5M40.1 92.0Q41 89 44.4 87.9M154.5 21.8Q157 20 156.9 19.7M57.2 36.6Q61 34 62.8 31.6M51.8 62.8Q54 60 57.1 59.2M69.4 110.6Q71 109 71.9 108.5M129.0 34.1Q131 30 132.8 26.6M93.0 95.0Q97 94 99.1 92.0M110.4 80.0Q112 79 114.2 76.4M58.4 119.5Q60 117 63.0 114.2M124.3 106.5Q127 105 126.5 102.8M174.4 74.0Q174 72 175.8 71.2M152.6 118.5Q151 117 150.4 113.3M38.3 15.2Q39 14 41.5 11.9M36.1 78.6Q39 77 42.1 76.1M61.4 18.3Q64 15 64.0 13.2M54.5 81.5Q57 80 59.9 78.8M163.5 24.0Q165 22 165.4 18.6M101.6 66.6Q104 65 106.2 60.6M154.8 41.2Q158 38 158.9 36.4M73.7 25.0Q76 23 76.6 21.4M50.4 39.5Q52 38 52.6 37.4M149.2 79.4Q150 77 152.0 74.8M158.2 43.1Q162 40 163.7 36.9M159.8 67.8Q160 66 161.4 62.6M167.5 86.9Q168 84 169.5 83.8M63.7 49.1Q65 47 66.5 46.6M155.6 22.9Q157 21 157.8 20.5M145.0 69.3Q149 68 150.9 64.6M92.9 118.4Q96 118 98.2 115.8M52.1 37.7Q55 37 57.1 35.3M46.1 73.8Q48 73 49.4 70.7M166.3 88.6Q169 86 169.7 85.4"/><path stroke="#8086b4" stroke-width="1.0" stroke-opacity="0.25" d="M162.9 123.0Q164 119 166.5 116.6M55.8 36.4Q58 35 59.3 34.0M148.9 40.0Q150 37 151.4 36.2M59.8 113.0Q63 113 63.4 110.8M97.5 88.0Q100 85 101.9 83.3M151.6 30.6Q153 30 153.4 27.6M55.2 30.5Q57 29 58.3 28.3M78.3 26.3Q80 24 84.9 23.8M48.3 20.6Q51 18 52.6 16.9M68.6 84.7Q70 83 70.9 81.1M71.2 76.7Q73 75 73.8 75.2M166.1 28.9Q168 27 169.4 24.1M109.5 26.7Q111 27 112.6 25.7M38.0 103.9Q40 102 42.5 97.8M45.0 49.7Q47 48 49.2 45.2M47.9 31.3Q50 30 51.4 29.7M56.2 106.3Q57 104 61.1 102.9"/><path stroke="#8086b4" stroke-width="1.0" stroke-opacity="0.5" d="M60.2 62.5Q63 61 63.8 60.5M96.1 83.8Q99 82 99.0 81.3M57.4 81.9Q60 81 62.5 77.9M89.0 40.4Q93 38 96.9 37.8M153.1 115.6Q154 113 155.0 113.1M47.0 77.0Q49 76 49.9 73.1M91.6 37.5Q95 36 98.8 33.6M176.4 48.6Q177 48 178.1 44.2M165.4 30.0Q167 25 166.7 22.7M55.5 47.1Q59 43 60.5 41.5M146.6 58.2Q149 54 150.1 51.3M145.9 98.8Q148 98 148.8 94.6M176.4 22.9Q180 19 182.7 17.4M91.2 48.5Q95 47 96.4 44.3M112.1 112.3Q114 110 115.1 108.6M44.0 71.7Q46 70 48.1 68.0M37.3 24.8Q40 22 44.0 19.1M111.6 104.0Q113 102 115.4 98.4M151.3 118.9Q151 118 153.7 116.1M52.5 78.6Q56 75 58.1 73.5M137.8 18.1Q140 14 141.1 11.7M58.6 101.8Q61 101 62.0 97.6M136.8 27.3Q137 26 137.5 24.2M160.2 24.4Q161 20 161.4 16.1M59.7 29.6Q60 30 62.8 27.6M177.2 95.0Q178 92 179.7 89.3M91.6 72.3Q94 72 95.1 70.6M178.3 50.6Q181 49 185.4 45.5M63.4 96.4Q65 95 66.7 92.3M174.1 72.4Q175 71 177.1 68.1M149.8 63.3Q151 63 153.9 60.3M98.8 105.3Q100 103 100.4 100.0M146.1 80.6Q146 79 148.3 77.9M139.3 21.8Q141 20 140.9 19.1M116.5 78.8Q119 78 121.8 74.7M121.8 71.4Q125 68 127.4 66.1M172.0 51.3Q175 50 176.2 49.1M167.4 33.9Q170 30 173.7 28.1M136.7 118.5Q141 117 142.4 113.8M142.8 42.2Q143 40 144.5 39.3M107.2 73.1Q112 72 114.1 69.5M58.7 22.8Q60 20 63.1 19.1M99.6 43.0Q102 40 106.8 38.2M68.1 110.3Q70 109 70.9 107.1M145.0 59.1Q147 56 148.3 50.9"/><path stroke="#8086b4" stroke-width="1.0" stroke-opacity="0.75" d="M111.2 111.9Q111 108 112.8 103.4M153.9 101.2Q155 100 155.6 97.5M125.6 108.4Q128 105 129.3 100.7M176.1 95.8Q178 92 179.5 89.0M45.0 54.1Q48 54 48.3 51.5M166.5 30.2Q166 30 168.3 27.1M74.4 44.0Q75 42 76.6 41.9M100.0 104.2Q102 103 105.3 102.4M48.2 78.8Q53 79 56.2 76.8M39.9 82.1Q43 78 45.8 75.5M70.4 60.7Q74 56 76.1 54.3M152.2 49.2Q156 48 159.3 44.2M170.3 54.8Q172 51 173.9 48.2M127.7 105.8Q131 103 133.0 100.0M166.6 49.0Q169 46 171.9 44.0M49.4 118.2Q52 116 53.3 113.8M126.2 38.1Q130 36 132.9 34.2M52.0 47.6Q55 46 56.4 44.9M180.2 51.4Q181 51 182.5 48.6M40.4 54.8Q44 53 46.2 49.3M109.6 116.3Q113 114 115.1 109.1M126.4 116.7Q128 115 131.9 111.5M41.0 31.0Q44 31 44.6 30.6M45.0 15.6Q48 14 49.7 12.6M54.9 92.6Q58 93 60.9 92.5M44.8 51.6Q48 50 47.9 49.4M50.0 96.5Q51 95 52.8 94.6M149.9 55.1Q149 55 149.9 51.7M146.6 35.7Q151 35 154.5 31.5M57.4 73.8Q59 74 61.2 73.6M115.1 20.0Q116 18 116.8 17.3M57.9 49.1Q59 47 61.5 45.1M51.1 44.8Q54 43 55.9 38.8M154.1 55.9Q155 54 156.7 53.7M134.2 83.0Q137 83 138.4 79.9M165.4 43.4Q167 40 168.9 39.2M145.1 43.5Q146 40 148.5 36.8M153.1 70.5Q154 68 156.3 66.6M166.9 19.8Q168 15 169.3 11.3M162.7 31.8Q163 27 163.0 24.9"/><path stroke="#969bc2" stroke-width="0.5" stroke-opacity="0.25" d="M57.0 116.6Q58 116 60.0 115.1M165.8 34.4Q167 33 166.8 31.4M138.1 42.6Q139 41 139.2 39.2M174.4 107.9Q176 106 178.3 104.5M139.3 97.1Q141 95 143.7 93.5M47.6 63.7Q48 60 51.0 58.4M92.5 100.4Q95 98 95.8 96.0M170.8 80.9Q174 79 173.9 77.2M51.7 19.4Q54 18 54.2 14.7M159.7 18.4Q159 16 159.2 14.3M59.7 92.1Q61 92 63.9 90.0"/><path stroke="#969bc2" stroke-width="0.5" stroke-opacity="0.5" d="M57.9 28.7Q61 27 62.5 23.5M133.6 44.1Q136 43 138.0 41.2M175.2 44.1Q177 41 179.1 36.8M93.2 73.8Q96 71 100.0 69.4M175.7 42.4Q176 41 177.2 36.8M68.2 15.5Q69 14 70.0 12.8M131.5 22.9Q134 20 135.9 19.0M65.5 109.6Q67 108 71.0 107.7M178.5 22.5Q180 21 179.9 19.3M118.8 120.8Q120 119 121.2 116.5M47.1 106.8Q48 104 51.2 102.8M90.5 50.0Q93 49 93.6 47.7M86.1 42.4Q89 42 91.9 40.6M150.6 57.5Q150 56 152.2 53.6M177.2 34.0Q177 30 177.4 28.7M149.5 96.2Q151 95 151.0 93.3M170.1 116.7Q171 115 174.3 114.0M72.9 76.0Q75 74 74.7 72.2M155.0 66.6Q156 65 157.2 64.2M114.4 99.7Q119 97 121.0 94.4M169.3 82.7Q171 81 171.4 77.3M172.1 112.9Q174 111 177.6 107.2M142.7 34.1Q146 33 148.2 30.1M115.7 105.2Q116 102 118.0 97.3M145.3 72.1Q146 71 146.9 68.4M152.3 50.4Q155 47 155.7 44.2M37.9 17.0Q41 16 43.4 13.7M96.7 122.3Q99 120 101.0 118.0M127.1 38.6Q128 37 128.5 35.0M129.9 96.0Q131 94 132.6 89.8M58.0 119.8Q60 118 60.4 117.3M45.8 101.2Q47 98 48.4 95.3M156.8 56.2Q158 53 158.6 51.8M74.2 118.5Q75 116 74.7 114.8M158.9 58.3Q160 56 161.4 53.2M155.7 84.4Q157 82 159.1 78.8M60.2 45.5Q62 44 63.2 43.7M41.1 89.3Q44 90 48.3 88.3M122.8 98.3Q123 97 125.0 95.5M65.5 114.8Q69 113 69.8 111.6M56.7 41.1Q59 40 62.9 37.3M54.4 61.1Q57 60 59.4 60.5M65.1 101.8Q67 101 69.2 97.7M167.3 29.8Q169 26 169.8 23.4"/><path stroke="#969bc2" stroke-width="0.5" stroke-opacity="0.75" d="M177.1 110.3Q179 108 178.0 106.6M122.3 23.5Q125 21 128.3 19.9M133.9 86.7Q135 85 137.2 84.8M98.5 16.6Q103 16 105.9 15.9M86.1 111.3Q89 111 92.1 110.7M151.7 86.6Q152 86 152.0 82.1M46.9 17.8Q47 17 50.4 14.4M39.6 71.1Q43 69 43.9 66.7M109.7 53.9Q112 52 112.5 52.3M93.4 66.5Q95 63 98.2 62.3M164.3 94.6Q164 92 165.9 91.4M81.4 32.0Q85 30 87.8 28.3M119.7 109.7Q120 107 122.5 105.9M160.5 93.1Q160 91 160.7 89.0M96.8 104.8Q99 102 101.7 100.3M41.9 61.4Q42 61 44.9 58.9M43.6 75.6Q46 72 49.7 70.2M100.0 113.6Q102 112 104.0 109.0M133.7 110.5Q136 108 137.5 107.7M103.3 79.5Q106 79 106.9 77.0M118.4 110.8Q122 108 123.2 104.7M50.8 70.8Q52 71 53.5 68.9M55.8 107.9Q57 105 61.3 103.1M39.8 55.4Q44 54 46.2 49.9M137.3 123.1Q139 122 139.2 118.7M168.9 106.5Q170 102 171.9 99.2M177.9 80.6Q178 78 176.7 75.7M57.0 73.6Q60 71 63.0 67.9M82.3 85.7Q84 83 87.3 80.5M112.1 99.4Q112 95 112.4 92.7M85.8 111.7Q88 109 89.1 109.5M83.6 85.9Q85 84 85.8 82.9M178.3 30.5Q177 27 178.5 22.8M156.1 66.9Q158 65 160.9 62.2M177.2 88.2Q178 85 181.3 82.7M167.3 70.4Q171 66 173.3 63.8M121.8 125.3Q124 122 125.7 117.3M153.5 117.2Q154 115 156.3 112.0"/><path stroke="#969bc2" stroke-width="1.0" stroke-opacity="0.25" d="M40.1 29.7Q41 28 43.2 25.5M147.7 40.7Q149 40 149.8 38.1M58.8 34.2Q61 34 62.8 33.3M51.4 86.0Q55 84 58.6 81.2M175.0 47.4Q176 43 178.0 40.2M75.5 96.5Q77 94 80.2 92.7M168.7 64.4Q169 64 170.9 61.6M43.8 102.9Q45 101 47.6 101.4M156.8 87.4Q158 87 157.8 84.4M148.0 54.3Q148 51 150.8 47.9M43.9 76.8Q46 74 48.6 69.2M54.6 38.2Q55 37 57.2 36.2M172.4 97.1Q175 95 175.8 90.9M149.7 45.9Q152 45 153.6 43.5M121.4 42.5Q121 41 122.8 39.7"/><path stroke="#969bc2" stroke-width="1.0" stroke-opacity="0.5" d="M129.1 108.6Q129 107 130.0 104.2M67.2 72.0Q70 71 74.8 68.6M169.3 79.3Q171 78 171.5 76.1M47.6 19.7Q50 18 50.6 17.2M173.0 98.7Q174 98 175.4 94.8M163.9 49.2Q165 47 166.9 47.5M70.1 27.8Q73 26 76.4 24.5M74.0 79.9Q76 78 79.1 77.8M141.5 40.9Q144 38 145.4 36.4M72.5 83.1Q77 81 79.0 77.4M130.6 118.8Q132 118 133.6 115.9M130.3 29.0Q133 27 136.9 25.2M51.1 67.6Q54 65 57.5 63.0M166.2 63.2Q168 60 168.9 59.2M178.6 30.6Q181 29 184.1 24.9M108.3 106.3Q113 104 115.7 101.3M165.3 18.1Q169 15 169.8 12.6M174.6 80.5Q177 76 179.6 74.0M51.5 117.4Q54 115 55.7 112.0M172.7 81.4Q175 79 175.1 79.0M82.4 96.6Q84 95 88.7 94.7M39.2 117.5Q43 116 47.0 114.1M46.0 14.3Q50 14 53.8 14.4M76.4 91.4Q78 92 81.4 90.0M98.5 17.3Q102 17 106.5 14.4M171.7 88.2Q174 86 173.9 82.9M64.0 122.3Q66 118 67.5 115.2M77.5 120.3Q81 117 82.9 113.3M148.9 94.7Q152 91 154.1 87.5M115.6 119.3Q116 117 119.6 114.3M80.6 114.0Q85 112 88.0 112.3M156.8 88.0Q159 85 160.3 80.5M114.5 42.2Q117 40 118.6 40.1M158.1 34.0Q160 32 159.8 29.5M152.0 116.9Q153 115 154.2 114.1M60.4 17.6Q63 16 65.3 12.9M137.4 93.9Q139 93 139.8 91.4M166.3 105.8Q167 103 169.2 100.9M151.8 40.7Q154 37 154.6 32.5M43.1 88.8Q48 88 50.6 84.5M80.4 106.8Q82 106 83.1 105.0M48.9 44.0Q49 42 51.7 38.4M176.3 111.4Q175 109 176.4 106.0M166.7 56.7Q168 56 168.6 53.9M60.0 81.2Q61 80 63.2 78.3M44.9 114.9Q50 116 52.7 115.5"/><path stroke="#969bc2" stroke-width="1.0" stroke-opacity="0.75" d="M150.1 95.4Q152 95 151.6 91.8M52.3 25.2Q57 23 60.9 23.8M102.8 83.3Q105 82 108.0 79.6M150.1 103.9Q151 101 152.9 99.3M101.7 109.5Q102 106 104.8 105.3M139.3 107.7Q141 106 141.4 102.8M170.1 108.1Q172 104 173.7 101.4M106.7 103.6Q108 101 112.1 96.5M140.8 67.5Q143 66 143.6 63.9M141.1 76.0Q142 73 144.2 71.8M160.1 48.3Q160 47 160.6 45.0M83.3 100.5Q84 99 85.5 97.2M52.3 19.7Q56 19 57.0 16.0M55.1 75.5Q57 74 60.2 71.0M155.2 112.8Q156 109 157.8 105.2M80.5 90.6Q83 90 85.3 90.0M49.7 16.6Q51 18 54.0 16.6M120.4 33.6Q124 34 126.2 34.6M166.5 122.9Q167 120 169.1 117.7M70.1 103.9Q72 101 74.2 101.0M93.0 99.0Q93 99 96.2 96.6M146.5 83.1Q148 82 152.2 78.2M138.1 90.0Q139 89 140.6 86.1M138.3 60.4Q140 58 142.3 55.9M94.9 46.4Q98 47 100.2 46.5M175.7 20.4Q177 17 177.1 16.3M77.4 119.2Q78 117 79.6 116.1M158.0 56.5Q159 53 160.5 51.5M44.9 79.5Q48 77 49.7 74.5M134.0 108.8Q135 105 138.1 102.0M143.7 91.2Q143 88 144.1 85.0M138.2 62.4Q138 59 140.7 54.8M118.0 52.3Q119 51 122.1 49.6"/></g></g>
<g clip-path="url(#clip_aR)">
<rect x="182" y="17" width="135" height="101" fill="#e6e6da"/>
<g transform="rotate(-55 249.5 67.5)"><rect x="139.5" y="-42.5" width="220" height="220" filter="url(#washB)"/>
<rect x="139.5" y="-42.5" width="220" height="220" filter="url(#fibB1)"/>
</g></g>
<g clip-path="url(#clip_aR)">
<ellipse cx="192" cy="30" rx="12" ry="12" fill="#f0f0ea" opacity="0.35" filter="url(#blob3)"/>
<ellipse cx="228" cy="30" rx="14" ry="10" fill="#f0f0ea" opacity="0.3" filter="url(#blob3)"/>
<ellipse cx="248" cy="98" rx="12" ry="18" fill="#62689a" opacity="0.3" filter="url(#blob3)"/>
<ellipse cx="278" cy="84" rx="12" ry="14" fill="#666c9a" opacity="0.25" filter="url(#blob3)"/>
</g>
<g clip-path="url(#clip_aR)"><g fill="none" stroke-linecap="round" filter="url(#fbl)"><path stroke="#505894" stroke-width="0.5" stroke-opacity="0.25" d="M275.5 32.4Q276 32 277.3 30.0M271.8 95.9Q273 93 275.0 89.4M221.5 67.9Q222 67 223.0 64.6M216.3 111.2Q218 109 219.5 106.2M178.0 108.2Q180 104 183.2 101.6M218.3 27.5Q220 25 219.5 23.4M273.7 78.7Q274 74 275.2 70.8M302.4 46.4Q304 45 304.5 43.6M288.7 109.5Q291 109 291.0 107.0M237.6 76.8Q238 74 238.3 73.2M186.4 118.4Q189 117 189.9 115.2M309.8 50.6Q312 47 312.3 45.4M201.2 45.7Q204 42 203.7 41.1M187.9 42.6Q191 40 194.7 40.3M275.9 71.6Q278 68 280.5 64.6"/><path stroke="#505894" stroke-width="0.5" stroke-opacity="0.5" d="M271.9 34.8Q272 33 274.4 29.4M292.4 83.9Q293 81 291.9 80.0M266.5 119.0Q269 118 272.8 115.8M193.5 69.0Q196 66 198.9 64.2M271.6 44.1Q272 41 274.3 39.1M272.2 115.9Q274 115 273.8 112.7M214.6 63.3Q216 61 217.9 57.8M215.9 111.1Q218 107 219.2 102.9M262.1 21.3Q264 18 265.4 14.2M231.8 39.3Q232 37 233.4 35.8M311.3 44.2Q312 43 312.7 40.8M287.5 22.2Q288 19 290.4 16.3M202.1 79.1Q203 76 203.7 74.2M187.7 16.2Q191 15 192.8 12.8M189.3 43.3Q191 40 192.6 36.7M251.3 111.2Q253 109 256.8 106.6M203.6 51.6Q205 48 206.7 45.6M265.7 26.8Q269 24 270.8 21.5M184.8 36.6Q185 34 186.0 30.1M187.9 94.8Q191 94 191.3 90.6M240.6 31.9Q241 30 241.3 26.0M255.2 81.1Q257 78 257.9 73.5M223.8 97.0Q227 95 228.0 93.5M304.9 109.0Q305 108 308.0 105.9M198.8 31.0Q201 29 201.1 25.5M279.8 38.3Q282 35 282.8 31.1M260.7 24.6Q261 21 263.9 17.3M268.5 46.9Q271 43 272.3 38.7M274.6 102.0Q276 101 277.6 98.0M220.9 83.8Q223 80 222.5 75.8M264.5 116.5Q267 114 269.8 110.6M231.8 32.9Q233 30 235.1 26.7M313.5 54.4Q316 52 318.0 48.4M288.0 89.1Q288 86 288.8 84.1M225.3 64.5Q226 63 227.2 59.6M178.1 72.7Q181 69 181.7 65.7M302.8 87.7Q305 87 305.3 83.8M259.8 90.1Q261 86 263.3 83.3M206.9 52.2Q209 52 210.1 51.0M266.6 48.9Q270 48 271.7 45.9M319.4 28.2Q320 27 321.9 25.0M295.2 15.4Q296 12 295.7 11.3M195.9 91.4Q197 89 197.1 87.5M211.3 120.4Q213 117 214.3 113.1M299.1 88.7Q303 87 305.5 82.6M239.1 80.8Q240 79 240.8 77.9M257.0 80.0Q258 76 257.9 71.5M196.4 82.3Q199 80 201.4 78.0M287.0 106.8Q291 106 293.5 103.7M262.1 61.4Q264 57 264.4 53.5M271.3 54.7Q273 53 272.3 51.5M183.9 109.0Q186 107 188.1 107.3M314.3 48.1Q317 47 317.5 45.3M209.9 124.0Q211 122 213.6 119.2M237.8 56.5Q238 55 240.7 53.4M280.9 105.7Q285 106 288.4 104.0M192.1 63.4Q193 60 193.8 57.2M204.4 113.4Q207 113 209.0 109.6M182.0 68.8Q185 69 185.7 66.5M262.4 109.7Q263 106 266.0 103.7M217.6 87.2Q220 84 220.0 80.1M242.2 115.9Q245 113 246.8 109.7M252.8 99.9Q256 98 258.5 95.1M219.0 88.2Q222 86 226.3 85.0M309.7 115.6Q311 115 312.3 112.1M290.2 110.7Q291 107 292.5 104.5M313.3 90.7Q315 89 318.5 85.9M248.4 19.8Q251 18 250.5 15.4"/><path stroke="#505894" stroke-width="0.5" stroke-opacity="0.75" d="M290.0 102.6Q292 101 294.6 100.0M244.9 81.4Q245 79 246.7 74.9M279.9 108.2Q282 105 282.4 101.7M245.7 102.1Q247 99 248.4 96.3M282.3 37.5Q282 35 284.4 33.7M259.5 95.5Q259 93 260.2 92.4M254.4 54.2Q257 53 257.2 50.0M272.4 92.1Q274 89 277.3 87.7M231.5 110.3Q233 106 235.3 104.2M284.7 121.7Q286 120 288.4 119.1M296.3 25.1Q298 24 300.3 21.3M261.0 66.5Q262 63 263.5 60.4M286.9 85.3Q287 84 287.9 80.1M178.5 71.8Q179 69 180.8 67.0M297.4 59.5Q301 57 302.3 54.7M209.2 47.0Q211 45 213.6 40.9M222.5 56.6Q223 54 223.8 50.4M224.0 64.7Q225 63 225.6 59.7M310.5 77.7Q313 73 315.5 70.2M284.4 39.0Q286 36 286.5 32.8M313.7 40.6Q316 38 316.9 32.8M256.5 78.6Q257 76 257.3 72.3M238.0 97.4Q240 96 239.5 92.3M275.1 71.8Q274 69 275.6 66.2M242.4 82.8Q245 80 246.2 78.4M196.1 77.8Q199 76 200.8 71.6M184.5 44.6Q186 42 187.2 42.5M260.7 91.4Q263 88 265.5 85.5M275.6 69.6Q277 67 279.6 62.7M239.0 71.7Q239 69 240.8 66.9M313.6 25.7Q315 25 317.3 23.7M193.5 19.1Q194 15 194.7 12.3M316.2 107.7Q317 104 319.2 102.4M205.1 44.7Q208 41 209.2 37.0M180.2 63.6Q183 62 182.9 61.7M248.1 49.8Q250 48 253.7 44.3M207.7 79.9Q209 79 210.2 75.4M177.5 92.7Q180 92 181.7 88.6M296.0 124.8Q297 122 299.5 119.1M205.0 86.7Q206 85 207.7 84.6M278.1 49.2Q279 48 279.2 45.7M215.3 71.0Q217 67 218.2 64.8M263.0 57.8Q265 57 264.8 54.3M232.5 45.3Q234 41 236.1 37.1M279.3 45.8Q278 41 278.9 38.0M201.1 108.6Q201 106 204.0 104.4M183.3 122.4Q185 120 188.0 119.1"/><path stroke="#505894" stroke-width="1.0" stroke-opacity="0.25" d="M265.3 54.2Q266 50 266.2 45.9M220.5 84.5Q223 84 223.9 81.2M210.6 60.5Q213 59 214.0 56.8M225.5 31.0Q226 28 228.2 27.1M271.7 89.3Q272 87 273.7 86.8M235.7 57.9Q238 56 240.0 51.1M208.0 80.8Q209 77 211.0 74.5M215.2 65.5Q216 64 217.5 63.4M203.9 115.5Q207 113 209.7 110.3M315.3 95.6Q317 92 319.0 90.1M221.4 58.4Q222 56 221.8 54.5M294.6 67.4Q296 64 297.4 60.9M207.1 47.8Q210 46 212.2 43.3M314.2 86.3Q316 82 317.5 79.0M254.0 59.4Q256 56 258.9 52.6M210.3 76.1Q212 71 212.6 67.9M190.7 76.7Q191 75 192.3 73.0M225.7 44.8Q228 40 227.8 37.7M277.8 61.9Q280 58 280.6 53.6"/><path stroke="#505894" stroke-width="1.0" stroke-opacity="0.5" d="M303.4 102.4Q304 100 304.9 99.2M235.6 58.0Q236 55 238.2 52.0M296.1 108.1Q299 106 299.9 106.4M302.3 18.6Q302 16 304.4 15.2M300.2 77.4Q302 75 304.8 72.9M305.9 115.6Q306 115 309.1 112.3M250.2 72.8Q251 72 252.7 69.3M307.3 113.8Q310 113 312.7 111.6M291.4 54.0Q293 52 294.0 50.9M255.8 112.7Q258 110 259.8 104.9M280.8 95.3Q283 93 285.3 92.1M218.7 23.7Q220 19 221.5 15.3M295.4 107.6Q299 104 300.9 101.9M281.8 70.3Q282 68 284.6 64.0M295.0 74.3Q298 73 300.2 69.4M312.5 92.1Q314 89 316.6 85.3M178.0 39.5Q181 37 181.8 35.7M238.1 77.4Q239 74 241.5 69.5M306.9 72.9Q310 72 314.4 71.8M186.3 46.1Q187 45 188.3 43.3M267.6 114.9Q267 114 267.6 111.4M261.0 37.4Q262 34 263.8 30.6M263.8 48.3Q264 47 265.7 45.4M287.4 25.7Q288 24 290.5 20.8M275.4 57.6Q277 56 278.3 53.8M271.1 87.9Q272 84 274.2 80.7M189.0 49.1Q192 49 196.2 47.6M231.0 95.9Q232 94 232.0 93.1M248.5 80.8Q248 79 249.7 75.3M241.4 50.3Q243 48 242.5 46.8M176.9 48.5Q180 47 183.3 44.9M245.6 70.7Q247 66 246.9 62.3M207.2 48.2Q208 46 210.4 44.0M226.5 94.6Q227 90 227.2 86.3M180.5 115.4Q183 113 184.7 109.9M241.9 26.3Q243 23 244.3 19.7M273.9 20.1Q274 16 274.3 11.3M188.4 85.6Q191 83 194.7 79.3M229.0 115.5Q232 115 233.4 113.0M259.6 83.1Q262 81 264.4 76.0M232.1 54.1Q231 52 232.5 50.2M301.2 25.2Q303 23 302.8 22.1M308.3 74.6Q310 72 310.9 69.8M260.0 91.3Q264 89 265.4 85.1M231.2 72.9Q233 72 233.4 69.6M194.6 75.2Q197 72 199.9 69.2M227.1 113.6Q227 113 228.6 109.8M250.9 40.7Q250 37 250.4 34.7M279.1 69.5Q282 67 284.8 63.4M228.8 52.9Q230 50 232.4 46.7M248.2 29.8Q248 26 247.6 22.9M248.6 112.4Q251 108 253.4 104.8M267.1 35.4Q268 33 269.0 31.7M239.0 108.0Q241 105 242.2 103.3M301.7 21.0Q303 17 303.9 12.9M244.5 120.6Q246 117 246.0 112.9M264.0 21.3Q265 19 265.0 14.6M188.2 60.7Q191 58 192.4 55.7M211.0 20.4Q212 18 212.3 14.4M207.2 46.1Q209 43 210.6 40.3M222.2 104.5Q225 102 226.3 100.4M220.5 65.2Q222 61 222.1 57.6M248.0 104.2Q248 101 249.4 97.4M268.8 33.5Q269 30 267.9 27.3M305.3 122.9Q306 121 309.0 116.5M270.8 62.6Q272 59 270.7 56.1M290.2 31.1Q293 30 294.6 29.7"/><path stroke="#505894" stroke-width="1.0" stroke-opacity="0.75" d="M209.7 65.9Q209 63 210.6 62.5M224.9 51.2Q227 49 229.4 46.7M286.5 46.8Q287 44 289.0 39.8M271.1 99.1Q271 97 271.5 93.3M236.1 117.9Q237 115 239.2 110.4M190.3 80.9Q191 76 191.0 73.7M232.0 14.9Q232 12 231.8 11.5M257.2 76.3Q257 73 258.1 71.8M218.1 89.7Q219 88 218.7 86.0M278.6 25.4Q280 24 281.7 21.0M218.1 111.5Q222 110 223.7 105.8M281.2 95.1Q283 90 284.1 86.6M271.3 105.8Q273 105 274.9 104.1M287.2 51.6Q288 48 289.0 44.6M204.2 50.4Q206 49 208.2 46.9M223.3 95.6Q225 91 228.2 89.0M271.0 40.2Q272 38 272.2 35.1M295.3 95.8Q297 93 299.7 91.0M193.7 68.2Q195 67 196.1 64.3M245.3 109.9Q244 105 244.8 101.6M178.1 77.2Q182 76 186.0 75.4M308.7 40.4Q310 39 310.7 37.6M269.8 98.5Q272 97 274.8 92.8M314.8 55.0Q319 56 321.7 53.9M253.7 69.8Q255 69 253.8 66.6M239.6 111.1Q241 106 244.6 103.7M261.5 32.8Q262 27 260.8 24.1M203.6 116.3Q204 113 204.8 111.5M206.0 38.8Q209 36 212.5 33.2M182.9 69.9Q185 67 185.4 64.0M206.3 117.3Q207 115 209.1 114.1M228.1 31.5Q228 29 230.8 26.5M237.6 114.4Q238 113 240.1 112.5M187.7 61.1Q189 61 190.7 58.6M181.2 103.0Q184 100 186.5 96.0M175.2 97.5Q177 97 180.8 94.8M278.0 111.9Q279 111 283.0 109.1M280.4 30.7Q282 29 282.8 25.1M235.6 91.1Q238 88 238.8 83.0M209.2 56.7Q211 54 213.1 52.8M229.8 94.7Q232 91 234.0 88.4M256.8 121.5Q256 118 255.8 114.2M230.3 34.6Q231 32 232.9 31.6M290.2 93.2Q293 91 293.5 86.7M186.2 118.3Q190 117 194.8 116.7M221.0 77.8Q223 74 222.9 71.8M213.8 84.1Q215 81 217.3 76.9"/><path stroke="#5e66a0" stroke-width="0.5" stroke-opacity="0.25" d="M273.0 106.6Q277 103 278.7 99.9M283.8 42.7Q284 41 283.9 37.7M315.3 46.8Q319 43 321.2 40.0M285.3 100.4Q288 98 288.7 96.0M189.9 86.8Q192 82 193.2 79.2M278.8 102.2Q279 100 282.4 98.7M224.3 104.5Q228 100 229.4 98.4M219.0 68.8Q219 64 221.1 60.5M248.7 124.4Q251 121 252.1 119.0M311.0 94.6Q314 93 317.5 90.5M250.3 79.8Q251 77 253.3 75.9M276.3 52.7Q276 50 277.2 49.0M204.9 70.4Q205 69 204.9 65.5M195.8 122.5Q198 121 200.2 117.7M299.0 83.6Q302 82 305.7 78.6M199.4 67.0Q202 65 201.7 64.0M285.2 28.0Q285 25 286.9 23.9"/><path stroke="#5e66a0" stroke-width="0.5" stroke-opacity="0.5" d="M191.5 36.4Q194 34 196.3 32.8M250.1 112.1Q251 108 250.6 103.8M196.8 122.9Q198 123 199.4 121.1M229.6 87.1Q233 85 236.9 82.5M223.4 74.3Q225 72 227.7 68.3M209.2 94.7Q210 93 212.3 91.3M195.6 43.3Q197 40 198.3 36.0M203.7 44.1Q204 42 205.2 39.7M271.9 36.6Q274 34 274.5 33.2M315.0 54.2Q317 51 317.0 49.6M241.9 114.2Q245 112 245.2 110.0M271.0 109.3Q273 107 275.3 104.5M297.9 46.4Q300 45 302.1 41.2M294.2 75.3Q297 73 298.3 72.4M186.2 115.6Q191 115 195.0 114.4M212.8 89.9Q214 87 214.1 84.0M295.6 24.5Q297 21 299.0 16.6M303.3 99.5Q304 100 306.8 99.5M250.5 50.7Q250 49 250.8 47.2M235.5 55.3Q238 52 238.7 49.3M212.2 43.9Q215 43 214.8 40.8M230.4 21.7Q231 18 231.6 13.1M262.6 74.5Q264 72 266.8 67.1M178.6 42.7Q182 40 182.5 36.8M299.5 70.5Q301 69 301.4 65.5M263.9 80.4Q266 79 265.2 76.2M293.8 97.4Q294 95 295.4 92.5M238.5 52.5Q240 48 240.0 44.5M318.9 59.8Q321 58 321.2 57.8M206.1 101.2Q209 98 209.5 97.4M199.1 40.5Q202 39 204.6 36.2M183.4 22.0Q187 18 188.3 15.3M213.5 106.4Q215 102 216.3 98.4M316.3 57.4Q318 56 321.2 53.9M222.4 62.2Q223 59 225.9 55.0M192.3 120.7Q195 120 195.8 118.9M233.5 102.2Q235 100 234.8 96.4M319.4 36.4Q322 34 322.4 31.9M290.6 120.9Q293 118 294.8 116.2M302.8 30.3Q307 27 308.4 25.1M199.4 45.6Q199 44 201.4 43.4M183.0 33.1Q186 30 188.3 26.9M300.7 109.4Q304 107 305.6 105.5M193.8 67.0Q196 65 196.2 64.7M277.2 86.9Q280 85 281.8 83.8M307.7 33.1Q310 29 310.8 27.0M202.1 62.6Q204 60 207.2 56.6M269.9 113.2Q271 110 273.6 108.5M266.2 64.5Q268 61 271.5 58.0M278.9 38.3Q280 37 279.8 34.2M304.7 26.9Q306 25 307.5 24.5M203.5 110.2Q205 107 207.2 103.0M298.6 54.4Q300 52 299.9 51.6M220.1 85.4Q221 84 223.2 81.0M183.4 117.1Q185 114 189.0 113.6M232.9 90.4Q234 87 237.5 84.2M188.6 90.8Q191 90 192.4 86.2M257.1 44.3Q258 41 258.7 39.8M284.8 39.3Q285 36 288.4 31.3M306.2 88.2Q309 84 309.0 79.8M265.0 90.9Q267 90 267.7 87.5M235.4 111.8Q236 109 236.1 106.1M181.7 90.5Q185 87 187.5 84.8M281.1 116.9Q285 116 288.8 113.6"/><path stroke="#5e66a0" stroke-width="0.5" stroke-opacity="0.75" d="M278.6 92.6Q281 90 281.9 87.8M286.8 18.7Q289 16 289.6 15.7M239.5 112.1Q240 109 242.2 105.1M190.3 75.5Q192 73 194.3 70.6M212.0 65.3Q213 63 214.0 61.4M186.1 112.3Q189 109 191.3 107.1M201.2 61.6Q202 59 205.4 57.1M228.1 74.4Q230 73 229.4 71.1M303.0 38.7Q305 37 304.8 34.7M178.9 64.9Q181 61 181.6 57.5M217.2 32.6Q217 27 218.2 23.8M278.3 47.6Q280 44 280.6 42.4M247.5 95.9Q248 93 248.4 90.8M265.5 40.9Q267 37 267.3 33.7M261.7 105.9Q262 105 263.9 103.6M228.1 107.6Q230 105 232.5 100.6M265.3 68.2Q266 65 266.2 63.3M303.5 109.1Q305 107 305.6 106.5M257.1 38.5Q258 36 259.1 35.0M180.5 40.1Q183 37 185.9 33.7M217.8 95.1Q218 93 221.3 91.0M297.2 38.3Q299 35 300.4 31.4M248.7 25.4Q249 23 248.6 20.0M268.5 55.7Q271 54 271.7 50.8M244.1 104.4Q245 101 244.4 97.6M282.9 43.5Q286 42 289.1 38.9M298.4 107.4Q301 106 301.1 103.9M216.9 100.7Q220 99 220.3 96.9M239.5 91.5Q240 91 242.4 88.8M208.7 93.3Q210 90 213.5 86.2M280.6 104.4Q283 103 286.6 100.0M282.7 51.3Q284 48 285.1 45.8M245.7 68.2Q246 67 248.1 64.3M243.9 44.9Q244 42 244.1 40.7M252.8 33.1Q254 30 254.3 28.1M265.8 48.8Q265 45 264.9 42.8M235.4 64.9Q237 60 238.3 57.5M300.8 98.8Q302 95 305.5 92.7M195.7 113.2Q197 110 199.9 109.2M260.7 62.3Q260 60 258.9 57.8M262.6 65.6Q264 63 265.6 59.5M302.3 44.8Q304 42 307.6 39.2M304.1 69.8Q308 67 310.2 63.6M277.0 48.0Q277 44 279.3 41.6M307.3 78.1Q309 76 310.8 75.1M293.2 51.8Q295 50 295.7 45.1M294.3 102.9Q296 101 296.4 100.4M305.5 70.2Q308 68 311.8 66.9M267.2 44.3Q267 40 268.7 36.6M270.2 116.0Q270 113 271.8 108.5M297.4 46.4Q297 44 299.3 44.0M246.4 50.4Q246 48 246.2 45.9M181.9 41.3Q182 40 184.5 37.8M266.6 59.2Q268 56 269.3 54.3M208.9 106.2Q213 104 216.1 101.2M248.9 75.7Q251 74 252.4 70.8M289.7 53.4Q293 52 295.0 50.7M240.0 42.1Q242 39 241.3 33.7M235.0 57.4Q237 55 237.3 53.8M288.5 110.2Q292 107 294.2 106.1M316.2 39.9Q316 38 317.7 35.6M298.6 25.9Q300 23 302.5 22.6M244.3 40.2Q245 38 246.2 36.0M293.8 87.6Q296 87 296.1 83.7M196.2 84.5Q199 80 202.2 78.1M202.5 102.9Q206 100 207.6 95.6M271.2 113.2Q275 111 276.6 107.7M283.3 112.5Q285 109 289.5 107.3M246.2 102.4Q247 100 246.5 95.9"/><path stroke="#5e66a0" stroke-width="1.0" stroke-opacity="0.25" d="M179.4 98.2Q180 95 181.0 92.1M277.0 43.5Q278 42 278.0 40.6M255.2 88.1Q257 87 258.4 85.5M287.9 35.2Q291 34 291.8 30.2M253.0 119.5Q253 115 255.6 113.4M299.2 26.9Q301 25 304.4 22.6M293.3 73.3Q294 70 297.3 68.5M195.2 65.3Q196 63 197.1 60.3M285.2 109.3Q285 106 287.3 102.2M214.3 58.4Q214 55 214.7 51.4M260.2 108.9Q263 108 263.2 106.9M221.7 90.6Q222 86 221.1 83.0M177.2 57.4Q179 54 182.7 51.1M269.8 105.9Q273 102 273.9 98.6M278.9 48.8Q281 47 281.1 44.0M292.8 106.8Q293 105 294.2 103.4M193.3 77.9Q194 75 194.1 73.9M206.3 45.1Q209 41 209.5 37.5M197.8 23.0Q200 19 202.6 16.4M248.7 116.4Q250 116 250.2 113.1M284.9 49.1Q286 47 286.0 45.9M225.9 93.2Q227 93 228.6 90.1M202.1 92.8Q202 92 203.6 89.9"/><path stroke="#5e66a0" stroke-width="1.0" stroke-opacity="0.5" d="M314.4 97.8Q316 95 317.9 93.1M302.7 97.1Q304 95 305.2 94.6M239.2 74.2Q239 72 240.1 71.0M312.5 103.2Q315 102 315.5 100.4M275.8 108.5Q276 108 279.2 107.1M291.2 107.9Q291 106 292.7 104.5M271.7 73.2Q273 70 275.2 68.8M230.6 79.0Q232 78 231.9 75.6M293.9 102.1Q298 99 299.2 96.1M285.6 112.8Q286 110 287.4 104.7M316.7 49.6Q317 47 318.6 45.6M292.6 121.2Q294 119 294.5 118.5M317.3 41.5Q320 39 322.8 38.3M315.2 90.1Q319 87 321.4 85.4M306.4 43.2Q309 40 310.6 38.2M305.8 37.5Q307 35 307.6 30.3M209.7 19.9Q212 19 212.3 16.8M196.5 119.2Q199 119 199.8 117.1M231.2 56.3Q233 53 234.7 49.1M317.3 45.4Q318 41 319.3 36.8M219.9 44.8Q221 42 222.4 39.1M256.7 19.5Q256 18 258.0 15.1M207.4 56.7Q209 56 209.8 52.7M239.0 95.3Q240 93 241.9 88.2M213.8 105.9Q217 104 219.5 100.5M243.8 67.4Q246 66 245.1 62.8M196.2 92.1Q197 90 197.4 87.0M316.2 22.4Q317 21 319.7 18.0M212.4 108.0Q213 105 215.0 101.5M253.4 109.2Q257 107 259.4 105.4M275.3 72.5Q278 69 280.6 65.3M297.7 56.3Q302 54 304.1 50.1M297.9 14.6Q300 15 301.2 13.8M183.1 101.2Q186 97 190.1 95.5M194.8 101.0Q197 100 198.4 99.0M179.0 94.2Q183 93 184.3 90.9M235.6 31.1Q236 27 237.4 23.7M288.3 90.5Q290 87 292.0 83.1M233.6 61.1Q234 58 235.3 57.1M299.0 46.8Q302 45 303.9 43.6M255.3 121.1Q257 120 258.3 118.9M204.0 62.9Q207 61 209.8 56.5M282.1 80.9Q284 78 285.1 78.1M288.1 28.9Q288 27 289.1 24.1M216.7 60.6Q218 57 220.6 55.3M195.3 94.8Q199 93 202.4 91.0M236.9 120.2Q239 116 242.0 113.5M192.0 56.0Q193 54 194.9 52.4M204.4 67.9Q206 67 207.2 66.1M221.2 63.3Q223 63 223.0 60.5M224.8 50.3Q227 47 227.8 44.9M270.7 41.0Q272 38 272.9 34.8M289.1 41.3Q292 40 293.6 36.6M237.5 37.9Q237 35 238.1 31.3M230.5 39.4Q234 37 234.9 35.7M274.0 98.7Q275 97 277.8 95.6M177.0 46.3Q179 45 181.7 42.3M227.8 101.0Q229 99 230.6 97.3"/><path stroke="#5e66a0" stroke-width="1.0" stroke-opacity="0.75" d="M182.0 59.5Q184 57 184.1 55.2M262.4 32.9Q263 31 263.3 29.0M185.7 115.2Q188 113 189.8 108.9M283.2 67.3Q284 66 286.2 63.1M297.5 75.5Q299 72 299.2 70.2M233.9 78.5Q236 74 236.8 72.2M267.6 119.5Q268 117 269.1 116.1M247.6 122.7Q249 119 249.0 114.7M195.9 21.0Q198 19 199.9 17.2M278.0 89.2Q280 85 282.2 83.1M225.6 61.2Q227 60 230.2 55.8M211.2 20.6Q211 19 211.9 16.2M282.1 70.5Q284 67 288.1 65.0M303.0 15.3Q304 14 303.6 11.1M182.7 70.0Q185 66 186.4 62.1M288.7 118.2Q290 116 290.9 113.4M312.5 79.1Q315 75 316.2 71.1M191.4 106.7Q191 105 193.1 103.5M183.3 108.3Q187 109 191.6 108.7M226.7 35.8Q228 34 228.7 32.2M273.3 72.8Q276 72 281.2 68.8M244.8 118.7Q247 117 248.9 114.2M317.4 82.6Q320 81 321.2 81.6M271.6 75.0Q273 73 273.7 69.7M253.8 112.5Q254 109 255.4 104.0M261.1 17.9Q263 15 264.2 10.4M318.1 86.4Q320 86 322.9 84.9M246.8 65.7Q246 62 245.5 59.1M287.5 88.9Q290 87 292.9 85.4M271.5 74.6Q273 73 274.6 71.3M216.9 69.2Q220 66 221.2 62.9M265.5 61.0Q266 58 266.8 53.6M310.8 51.4Q312 51 313.5 48.6M311.1 18.7Q313 17 315.1 14.3M236.4 93.9Q236 91 237.1 89.1M239.5 64.0Q241 60 242.7 58.4M236.8 90.4Q237 87 234.7 84.8M202.0 43.4Q202 42 204.2 39.9M294.3 26.4Q294 23 295.4 21.2M190.9 108.0Q192 105 193.9 103.7M278.1 23.9Q279 21 280.9 19.7M196.6 47.1Q199 44 199.5 38.9M178.4 111.7Q181 110 183.7 109.4M274.0 28.6Q275 25 276.5 22.9M228.1 17.2Q229 16 230.2 12.4M275.9 55.3Q278 54 279.3 51.7M218.2 90.0Q219 85 220.7 82.6M310.6 67.4Q314 65 318.7 64.1M209.5 64.9Q212 62 212.4 57.9M197.2 64.8Q197 63 199.1 61.2M227.8 47.2Q230 45 229.8 44.0M198.8 91.8Q200 88 203.9 85.5M272.9 121.1Q276 120 278.9 118.4M177.0 59.0Q180 56 180.9 53.6M232.9 22.3Q233 20 233.9 16.4M236.8 76.2Q238 75 239.8 73.6M178.2 49.2Q180 44 182.9 41.7M269.1 66.3Q269 65 270.4 62.0M283.7 105.8Q285 103 285.1 101.8M312.1 44.7Q314 42 317.9 39.3M210.9 99.7Q213 99 212.9 97.0M252.6 22.4Q253 19 251.6 16.1M297.4 93.5Q300 93 301.3 91.0M250.8 122.6Q254 122 257.3 119.3M286.6 88.4Q288 85 289.1 80.8M314.4 63.5Q316 61 316.7 59.2"/><path stroke="#6e74aa" stroke-width="0.5" stroke-opacity="0.25" d="M307.0 61.2Q308 61 309.7 58.3M223.6 64.8Q224 63 226.7 60.4M234.8 103.2Q236 100 237.0 98.6M237.9 77.7Q236 75 236.7 72.0M188.2 16.2Q190 13 194.0 10.5M260.3 23.1Q262 23 261.8 20.6M294.2 101.4Q297 98 298.0 95.0M212.6 64.5Q213 62 215.3 60.2M265.3 29.1Q265 28 264.8 26.0M244.9 82.7Q247 81 247.8 78.1M241.5 123.8Q242 121 241.5 119.4M315.5 124.4Q319 122 322.7 119.0M219.6 72.3Q222 71 226.6 68.8M316.8 107.8Q320 105 321.4 103.3M280.0 37.0Q283 32 285.1 30.1M312.2 15.8Q316 14 316.9 11.3M241.3 25.6Q241 24 241.8 22.3M243.6 24.8Q244 24 245.5 21.9M263.3 87.0Q264 86 266.3 83.2M316.7 42.4Q318 42 320.5 40.0"/><path stroke="#6e74aa" stroke-width="0.5" stroke-opacity="0.5" d="M212.5 116.7Q215 115 217.4 114.1M266.3 45.5Q266 42 268.2 39.5M205.5 110.9Q207 109 208.3 106.5M255.4 107.2Q256 105 256.9 104.1M295.4 90.5Q296 88 297.2 86.4M314.8 81.9Q318 80 319.1 77.9M258.9 74.6Q260 71 261.7 68.3M293.4 95.0Q294 90 294.9 87.7M302.2 115.7Q306 113 308.1 111.0M230.0 92.7Q229 92 229.3 88.7M273.2 122.2Q275 120 277.3 116.0M247.2 38.6Q249 35 250.3 32.2M270.2 56.6Q271 52 274.1 49.8M232.2 64.1Q232 62 234.1 59.4M210.5 24.3Q214 21 215.0 16.8M191.8 84.2Q191 81 192.7 80.5M310.8 60.8Q313 60 315.7 59.0M202.4 34.5Q204 32 204.2 29.9M279.7 121.6Q280 119 282.3 118.5M294.9 62.7Q298 59 300.7 57.6M208.0 66.4Q210 63 213.8 60.1M263.0 46.0Q265 43 266.1 38.9M302.0 73.8Q306 72 309.3 69.9M244.4 111.6Q244 108 243.2 103.4M177.7 35.4Q182 32 184.0 29.0M214.9 118.0Q217 117 217.2 115.1M205.3 123.1Q209 121 211.5 117.9M204.4 114.6Q205 112 206.3 107.9M279.0 30.2Q279 28 280.2 26.1M225.5 37.8Q227 34 227.9 30.3M282.3 65.8Q282 65 284.3 61.6M238.3 70.8Q237 67 235.2 62.5M239.0 37.4Q241 34 240.4 32.1M255.3 27.9Q254 26 255.7 24.5M266.3 63.5Q267 60 266.0 55.9M216.4 27.9Q217 28 219.2 26.5M211.6 50.1Q212 49 213.4 46.4M228.9 65.4Q230 64 231.9 60.9M185.9 87.2Q187 86 187.7 83.9M196.2 74.4Q199 74 199.9 72.2M184.9 62.9Q187 60 189.6 58.8M288.0 46.4Q290 43 291.5 41.5M276.7 17.9Q279 16 280.5 12.0M272.5 39.2Q275 35 275.2 31.6M276.5 80.6Q278 79 277.7 76.9M297.7 105.6Q302 104 305.6 102.5M185.9 71.0Q186 68 186.5 66.4M283.4 29.4Q284 27 286.2 24.9M184.3 93.9Q187 92 189.9 89.8"/><path stroke="#6e74aa" stroke-width="0.5" stroke-opacity="0.75" d="M264.5 103.0Q265 99 266.9 95.8M303.0 93.4Q305 90 308.9 88.1M281.6 100.1Q283 97 285.5 94.7M249.2 100.4Q252 98 253.6 95.3M254.2 102.7Q256 99 257.8 97.6M238.2 40.4Q240 38 240.9 36.1M214.9 114.8Q217 113 220.0 110.1M270.6 100.8Q271 98 272.5 96.4M275.8 86.4Q276 86 278.4 83.7M307.5 88.4Q310 86 311.6 84.7M218.7 46.8Q219 44 218.8 41.4M255.3 64.3Q256 62 256.6 59.7M195.0 78.6Q199 76 201.4 72.7M282.7 87.2Q282 86 284.4 82.4M271.7 108.5Q272 107 274.2 106.2M245.2 117.9Q247 118 249.9 117.2M292.9 107.5Q294 106 295.1 104.6M218.0 92.2Q220 91 221.3 87.9M304.7 43.4Q308 41 311.3 38.0M206.0 66.4Q207 64 209.0 61.5M259.7 74.0Q260 72 260.8 69.2M299.0 56.9Q302 53 305.2 52.2M314.9 29.9Q316 29 316.3 27.2M289.1 54.0Q289 52 290.6 50.3M187.9 24.0Q189 21 188.7 19.6M291.9 49.0Q294 47 298.0 42.6M188.6 66.7Q190 64 191.5 59.4M227.5 42.4Q228 41 230.4 39.4M179.7 42.4Q181 40 182.8 38.3M315.3 58.4Q319 56 320.8 52.1M242.4 36.7Q243 35 242.7 32.2M305.5 55.9Q308 53 309.4 49.6M218.8 64.1Q219 63 221.7 61.3M258.7 83.5Q260 80 259.8 75.8M258.8 105.3Q260 101 262.6 98.5M263.2 40.3Q264 38 263.2 35.8M209.2 51.6Q211 49 210.6 47.3M246.3 93.3Q250 91 253.0 87.3M187.2 37.6Q188 36 189.1 32.5M306.2 123.9Q309 120 312.7 118.7M294.5 118.8Q297 114 297.3 110.9M314.3 99.7Q317 99 321.0 95.8M214.2 80.6Q215 79 216.1 74.7M289.5 80.2Q290 77 290.8 73.1M236.9 30.0Q239 29 238.6 26.9M304.2 21.7Q305 19 305.9 16.3M289.9 22.0Q293 21 293.8 19.2M315.7 40.0Q318 38 319.4 34.9M287.9 34.4Q291 31 293.0 29.2M313.1 57.9Q315 55 316.0 52.9M208.5 102.2Q211 101 211.3 100.8M211.9 37.1Q213 35 213.2 33.7M279.2 91.8Q280 91 282.3 90.3M202.7 105.8Q205 104 204.8 102.9M257.3 90.8Q259 86 258.3 82.4M304.5 18.9Q307 17 309.4 15.4M218.2 91.8Q221 90 224.0 86.4M265.0 34.3Q266 31 268.8 28.1M252.6 67.0Q252 62 254.2 58.5M303.8 24.6Q305 23 307.6 19.8M273.2 99.0Q275 96 276.1 92.3M284.2 109.2Q287 106 288.3 104.1M315.7 106.0Q316 104 317.8 101.4M269.7 87.6Q272 83 272.9 79.9"/><path stroke="#6e74aa" stroke-width="1.0" stroke-opacity="0.25" d="M241.9 75.4Q243 73 242.7 68.7M199.3 108.3Q201 107 201.9 105.7M308.2 95.6Q310 93 311.1 87.6M305.6 112.3Q309 108 310.8 106.6M210.1 80.0Q213 77 215.2 73.2M203.3 28.7Q204 27 205.2 23.3M213.7 105.2Q216 102 216.8 100.3M200.5 18.8Q201 16 202.6 14.4M246.8 37.8Q246 36 248.2 33.4M310.0 118.4Q312 116 313.0 112.6M223.4 53.2Q222 50 223.1 45.9M204.9 120.7Q208 118 208.3 116.3M259.9 75.0Q261 73 262.7 70.5M210.3 107.6Q211 105 213.0 103.1M239.9 34.2Q240 30 239.2 26.6M229.0 83.8Q231 83 235.1 81.1M268.4 89.9Q269 87 271.0 83.5M317.4 113.6Q321 111 324.4 109.9M210.6 69.2Q212 67 214.3 64.9M213.3 74.3Q216 70 216.6 67.0M317.9 38.8Q319 35 322.8 31.8M266.1 93.4Q267 91 267.6 89.7M259.9 84.8Q262 82 264.6 77.2M203.9 102.7Q208 99 209.9 96.9"/><path stroke="#6e74aa" stroke-width="1.0" stroke-opacity="0.5" d="M283.7 88.6Q285 86 287.0 82.1M227.1 100.4Q229 97 232.9 93.7M196.6 31.0Q197 30 198.9 28.4M197.4 58.9Q198 56 199.5 53.6M310.9 88.5Q312 85 311.4 81.1M194.4 114.0Q197 110 200.8 107.8M295.9 95.4Q299 93 303.8 92.4M254.1 27.4Q255 24 255.1 23.2M183.8 72.7Q184 71 185.0 68.6M195.7 47.5Q198 45 201.0 41.0M198.3 45.2Q200 44 198.9 39.9M196.6 114.8Q200 113 204.0 110.4M184.6 91.7Q187 90 188.0 87.5M293.4 82.4Q295 80 299.4 76.4M266.3 86.2Q269 84 269.3 83.6M194.1 39.9Q197 37 199.9 34.4M312.0 95.0Q315 93 317.4 90.9M243.2 109.0Q244 108 245.9 105.1M232.5 87.6Q232 85 232.6 82.5M253.4 50.8Q253 49 253.2 46.8M249.5 95.1Q250 93 250.4 92.1M290.4 22.9Q292 20 295.4 17.3M212.8 62.2Q215 57 217.6 54.8M223.1 84.6Q227 83 229.1 79.5M243.3 79.4Q243 79 244.5 76.6M179.5 40.1Q181 39 182.5 35.6M214.3 100.4Q218 97 220.7 94.4M260.0 69.8Q263 66 264.4 62.0M223.4 35.1Q226 32 226.5 26.8M260.2 111.5Q261 109 259.4 107.6M311.4 100.4Q311 98 311.2 94.7M270.9 62.6Q273 62 274.7 59.8M207.1 108.2Q210 106 210.5 103.4M241.8 103.4Q242 101 242.7 100.1M194.2 61.5Q195 59 198.5 53.7M248.4 35.9Q250 31 250.2 29.3M290.9 23.8Q293 24 293.3 21.3M228.1 21.8Q230 19 231.8 14.3M251.9 61.9Q252 58 254.5 55.4M264.6 95.2Q265 93 266.2 88.9M273.6 47.9Q275 47 274.6 44.4M204.1 88.1Q206 83 206.5 80.3M221.4 20.1Q223 18 223.5 16.4M203.7 121.9Q206 120 206.0 117.5M244.8 84.3Q247 81 247.1 78.5M284.0 122.0Q286 121 288.0 119.2M203.4 103.0Q206 100 207.4 98.1M239.4 102.0Q240 100 242.5 98.7M262.2 63.0Q263 61 261.2 58.6M276.3 78.9Q277 78 277.5 74.6M179.1 41.2Q179 38 181.1 37.0M194.2 105.0Q196 103 197.6 102.5M303.7 26.9Q306 25 307.5 24.9M211.6 67.2Q214 65 216.4 64.5M267.0 47.8Q270 45 271.7 42.0M246.3 96.0Q248 93 248.4 92.6M304.3 63.6Q305 60 308.4 56.9M210.7 75.5Q212 73 214.9 68.4M224.9 87.3Q227 85 228.0 83.6M201.2 123.6Q203 123 203.3 119.5M272.4 62.1Q272 59 270.2 53.8M313.8 87.1Q316 85 317.0 81.9M313.6 103.9Q315 103 317.7 99.6"/><path stroke="#6e74aa" stroke-width="1.0" stroke-opacity="0.75" d="M270.1 62.4Q271 60 273.0 58.6M310.0 88.9Q313 87 313.1 86.1M204.7 70.5Q206 69 206.5 67.6M276.8 123.6Q278 121 281.6 120.1M224.5 24.1Q227 20 227.2 18.8M258.4 37.9Q258 33 256.5 30.0M315.2 31.4Q317 29 320.6 28.7M177.2 101.2Q179 100 179.4 97.1M208.2 29.2Q209 26 211.5 23.7M215.2 40.4Q216 39 217.6 37.2M226.2 125.0Q227 122 230.2 117.3M314.5 38.2Q317 36 316.8 34.5M295.0 87.1Q296 86 296.8 84.6M191.4 101.0Q194 98 196.5 94.8M185.7 100.1Q189 98 189.9 96.2M264.4 70.1Q265 67 266.3 62.8M269.3 82.8Q272 80 275.1 76.2M217.5 71.0Q220 67 222.9 63.9M295.5 68.6Q296 67 299.0 64.5M182.9 27.4Q182 25 181.8 22.5M304.6 43.1Q307 41 307.6 39.5M309.3 15.9Q311 14 311.6 11.5M295.2 60.0Q297 56 298.9 52.6M262.9 77.8Q264 77 265.5 76.1M297.1 69.1Q297 67 299.2 65.2M318.0 23.7Q319 22 321.8 21.7M306.5 103.3Q306 101 308.1 97.2M259.4 110.6Q263 106 263.6 103.9M289.2 111.4Q292 110 293.7 109.3M182.1 99.0Q185 98 189.7 95.4M229.3 115.1Q232 114 233.0 111.7M213.9 111.0Q216 109 219.1 108.6M289.7 67.7Q292 64 295.0 62.5M182.7 91.2Q185 89 186.3 87.6M286.2 106.6Q287 105 290.4 102.1M302.5 54.0Q303 51 305.7 49.0M296.8 21.1Q300 16 299.9 13.0M284.5 99.4Q286 98 288.1 94.5M312.8 57.7Q315 56 315.7 53.3M261.5 95.0Q262 92 263.1 88.0M263.4 119.6Q266 117 266.3 116.1M194.8 65.7Q195 63 196.6 62.4M198.5 49.0Q200 48 202.2 45.2M293.4 61.6Q294 59 295.5 58.7M298.6 31.2Q301 27 301.9 24.7M301.8 44.9Q303 41 304.3 37.1M295.4 115.3Q297 114 297.8 111.5M294.6 27.3Q297 25 297.6 22.8M241.0 91.7Q243 90 244.4 86.5M268.2 103.0Q269 102 270.7 100.7M224.0 102.0Q223 97 224.3 93.9M225.0 120.1Q228 118 227.9 115.3M223.9 88.7Q224 86 223.4 82.1M189.3 83.7Q193 80 193.8 77.3M294.0 108.5Q296 105 299.1 104.3M181.3 54.1Q183 54 183.0 51.4M279.7 94.2Q284 93 286.7 90.3M201.5 100.0Q204 97 204.3 95.9M292.2 90.0Q294 90 295.8 87.9M232.2 76.7Q232 72 234.3 67.9M276.9 69.0Q279 65 280.6 63.0M251.1 72.2Q251 70 252.0 68.7M214.7 84.9Q217 84 220.7 81.1M230.2 90.7Q232 88 233.6 83.6M274.5 17.8Q275 14 277.3 9.5M307.6 55.6Q308 52 309.5 48.7M303.0 18.6Q304 17 306.5 14.9M277.3 58.6Q278 57 279.3 55.0M230.0 64.7Q230 63 231.2 59.8"/><path stroke="#8086b4" stroke-width="0.5" stroke-opacity="0.25" d="M294.1 121.2Q296 117 297.6 113.5M180.0 31.3Q183 29 186.2 28.1M238.9 111.6Q239 109 241.0 106.3M289.3 56.9Q292 56 292.6 53.0M291.6 89.6Q295 89 297.7 86.9M237.0 100.7Q238 99 241.0 96.5M184.4 75.0Q189 74 191.2 72.3M244.9 115.7Q247 113 248.2 107.9M317.5 61.5Q320 58 322.6 56.4M191.9 77.2Q194 73 197.6 71.4"/><path stroke="#8086b4" stroke-width="0.5" stroke-opacity="0.5" d="M209.0 83.4Q211 81 214.9 79.9M217.7 69.1Q222 66 224.3 64.1M220.0 55.9Q223 53 224.6 49.7M267.6 93.0Q269 90 269.8 88.8M193.0 110.3Q195 109 198.2 108.0M225.1 56.9Q225 55 226.8 50.9M216.5 22.7Q217 20 220.0 18.6M280.0 89.5Q282 87 281.8 86.4M244.7 100.7Q245 99 247.0 98.6M226.3 91.1Q227 90 226.5 85.8M259.3 70.8Q258 66 259.3 62.8M275.7 114.1Q275 111 276.3 108.6M265.9 87.2Q267 84 269.9 80.5M260.8 23.2Q261 21 261.5 20.0M225.6 15.6Q226 12 227.5 10.4M273.3 91.3Q275 89 276.3 84.7M282.4 93.9Q284 91 283.3 87.3M258.6 24.1Q262 21 262.7 18.7M176.3 21.4Q178 19 180.1 15.9M300.4 103.6Q302 100 305.8 96.5M209.6 44.4Q212 43 212.2 40.5M181.7 48.7Q183 47 183.8 46.2M195.8 116.4Q199 116 204.0 116.0M282.8 118.3Q285 115 287.0 113.6M249.2 94.3Q249 90 247.9 86.3M295.6 117.1Q297 115 298.7 111.3M281.0 95.0Q281 92 281.8 89.6M275.7 36.9Q279 36 280.5 33.2M179.2 104.2Q181 101 184.4 100.5M195.9 21.6Q198 20 198.3 17.4M216.8 19.6Q218 17 218.6 15.1M316.1 96.7Q318 96 320.8 96.5M273.4 76.5Q275 73 275.4 67.9M231.9 55.7Q234 52 236.9 49.7M209.0 45.6Q212 42 213.9 39.8M233.3 108.6Q234 105 234.0 101.4M277.1 41.1Q279 39 280.5 34.7M227.1 122.0Q229 119 229.5 117.8M237.3 77.0Q238 74 238.3 71.4M225.6 36.8Q227 36 227.5 34.1M197.6 17.3Q199 14 200.7 12.3M252.0 82.7Q253 79 252.2 75.5M199.3 120.2Q204 117 206.2 115.3M280.8 81.2Q284 79 287.1 74.8M221.6 63.3Q221 61 220.2 56.8M262.1 51.9Q263 48 265.1 43.9M230.7 109.4Q231 108 232.6 105.1M254.9 20.4Q259 19 260.3 15.0M246.4 47.6Q246 44 245.5 39.6M279.3 66.4Q283 64 285.3 60.4M204.7 39.9Q205 37 207.8 35.2M286.8 27.8Q287 26 288.8 24.5M215.4 115.6Q217 113 217.5 112.0M276.6 36.0Q277 33 275.6 27.6M245.0 86.5Q246 84 247.9 80.5M268.9 48.9Q271 45 273.8 42.2M268.2 117.2Q270 114 270.5 112.5M215.4 52.4Q216 52 217.6 50.0M283.3 108.9Q285 106 287.1 101.5M268.9 82.7Q268 80 266.3 75.1M216.0 20.4Q220 17 223.0 14.8M253.2 51.1Q253 50 254.4 47.1M316.2 56.7Q319 54 320.5 50.2M293.5 108.1Q296 107 296.6 105.3M209.2 105.5Q211 103 213.2 101.7"/><path stroke="#8086b4" stroke-width="0.5" stroke-opacity="0.75" d="M265.8 87.7Q266 86 267.3 82.9M232.3 93.5Q236 92 237.5 89.1M211.3 75.0Q212 72 215.4 71.8M192.7 16.5Q193 15 193.6 12.6M312.6 48.6Q314 46 315.5 44.1M242.9 63.6Q244 62 244.7 59.9M251.3 46.7Q252 44 253.3 42.0M262.7 76.0Q265 73 264.2 69.0M229.3 73.3Q229 72 229.7 69.8M180.0 19.4Q183 17 186.8 15.3M212.4 112.5Q213 110 213.9 108.7M299.7 39.5Q303 36 305.1 32.4M197.6 84.9Q201 82 202.3 81.3M308.9 89.4Q314 87 317.1 86.4M305.8 118.3Q306 117 308.1 113.9M271.4 94.6Q272 93 273.8 91.9M220.2 53.7Q221 51 222.6 48.4M266.2 25.6Q268 22 269.7 18.0M216.3 97.6Q218 93 221.4 91.0M181.7 115.6Q182 114 184.5 113.2M297.5 93.8Q300 93 300.8 91.1M237.6 116.5Q239 114 240.2 112.4M288.5 72.8Q292 70 296.0 68.7M257.8 41.8Q260 40 261.1 35.8M209.1 97.2Q213 93 214.7 90.4M299.6 89.9Q300 87 300.8 82.2M250.6 34.1Q252 33 252.5 30.8M214.6 121.5Q216 120 218.0 118.4M313.4 87.5Q317 88 319.1 86.5M187.4 85.8Q189 83 190.7 81.7M308.9 112.8Q312 109 314.0 105.8M317.1 31.2Q321 30 324.5 28.1M299.7 39.7Q301 36 300.8 33.2M248.8 38.1Q249 36 249.9 35.0M240.2 27.1Q241 23 242.6 19.7M256.1 107.4Q257 104 258.3 99.7M204.3 117.1Q206 115 207.1 115.2M198.5 66.3Q200 62 201.4 59.3M283.3 107.6Q287 105 289.1 103.9M261.0 20.3Q261 19 262.3 16.8M257.2 100.4Q261 98 265.0 96.1M269.1 124.2Q269 121 270.4 119.3M288.5 58.4Q289 56 288.6 54.7M175.9 81.5Q178 78 181.1 75.4M184.1 114.1Q185 111 186.2 107.6M294.5 59.7Q297 57 296.9 54.6M197.3 42.7Q199 41 201.6 39.6M282.6 83.2Q283 82 284.3 80.2M198.0 63.4Q200 61 203.9 59.5M317.5 16.9Q320 14 322.4 9.7M189.1 78.1Q192 77 194.8 73.8M317.9 63.3Q320 59 322.7 57.0M238.6 67.1Q239 65 240.3 63.6M228.3 50.5Q230 49 229.0 46.8"/><path stroke="#8086b4" stroke-width="1.0" stroke-opacity="0.25" d="M310.3 111.6Q314 109 316.3 106.0M282.9 64.1Q285 62 288.4 59.4M268.1 17.5Q269 16 268.8 12.4M273.0 81.5Q274 79 275.3 76.7M176.6 22.3Q178 20 179.5 16.8M297.7 51.9Q299 50 303.2 46.0M206.7 24.5Q211 21 213.4 20.0M241.8 36.4Q242 33 241.7 28.2M230.6 115.2Q231 114 232.8 112.2M182.0 26.6Q187 25 189.2 24.4M316.4 83.4Q318 82 321.0 79.6M250.6 79.2Q250 78 250.8 75.7M197.2 60.7Q199 59 199.8 59.1M252.1 117.4Q252 115 252.0 113.1M199.6 74.7Q201 71 203.2 67.4M243.2 74.5Q245 73 245.8 70.3M188.0 87.5Q188 85 188.8 80.5M269.5 32.9Q271 30 272.2 29.7M210.5 49.0Q213 48 214.0 46.6M277.5 46.5Q278 45 280.0 42.0M254.0 109.1Q256 109 256.6 106.6M235.4 43.4Q236 41 237.2 40.5M206.8 112.9Q208 112 209.1 109.8M280.2 27.2Q284 24 285.8 22.3"/><path stroke="#8086b4" stroke-width="1.0" stroke-opacity="0.5" d="M269.4 16.2Q271 16 271.9 13.4M200.4 49.2Q201 47 201.7 42.9M265.3 48.9Q268 46 267.9 43.1M277.4 24.5Q277 21 279.5 18.6M216.9 34.3Q218 33 218.5 30.4M238.0 35.3Q240 35 240.9 31.7M267.6 18.5Q271 17 271.5 15.2M175.9 113.0Q180 109 181.7 108.0M270.2 49.3Q272 48 272.8 44.7M214.9 113.4Q217 109 217.4 106.1M298.1 105.6Q301 105 302.7 103.4M272.0 92.2Q274 88 276.9 85.3M204.5 110.0Q206 110 207.0 107.6M272.9 30.6Q275 27 274.8 23.9M299.4 80.3Q301 76 304.1 73.3M249.1 121.9Q251 121 251.9 117.4M317.1 59.3Q317 56 318.3 52.3M178.1 104.6Q178 104 180.2 100.9M237.8 123.4Q238 122 239.3 120.5M269.5 90.3Q272 87 273.7 84.4M202.9 74.1Q205 72 207.5 68.1M275.9 115.9Q277 113 279.1 109.4M274.2 51.8Q274 51 274.6 48.8M265.0 94.2Q266 91 269.0 86.6M315.6 109.1Q319 107 320.8 101.9M258.3 61.6Q259 59 259.9 57.5M234.7 118.5Q236 115 236.9 114.0M277.3 100.6Q279 98 279.4 95.4M216.6 23.9Q219 22 219.0 20.3M232.8 122.5Q233 121 233.4 118.8M313.3 90.2Q316 87 319.1 84.6M263.0 108.4Q264 105 265.2 102.3M248.7 17.0Q250 15 249.6 13.8M243.0 21.2Q243 19 244.5 18.3M195.6 69.1Q197 67 197.6 65.7M225.1 50.2Q227 46 228.2 43.0M245.2 52.9Q245 51 247.1 46.9M202.9 43.1Q206 40 207.7 37.1M261.0 73.7Q262 70 264.4 65.9M294.9 41.9Q296 41 296.5 39.3M276.7 67.5Q280 65 280.3 62.6M299.8 71.7Q302 71 303.3 68.9M220.5 110.2Q222 107 225.0 104.8M230.0 66.4Q233 64 235.0 60.1M240.5 52.1Q242 49 241.0 45.6M299.6 77.0Q302 75 305.3 71.1M274.0 51.1Q275 49 277.7 48.1M218.7 31.3Q221 28 221.7 25.4M219.2 85.8Q220 84 220.9 83.3M221.2 120.5Q225 118 226.1 116.1M214.5 18.6Q217 15 219.0 12.5M299.3 61.0Q302 58 305.0 55.4M315.4 66.8Q317 65 320.7 60.2M295.3 42.0Q296 39 297.1 38.2M196.4 46.0Q199 44 202.0 41.4M314.4 73.3Q316 71 316.1 70.5M262.8 121.8Q262 121 263.8 118.8M290.5 35.4Q292 34 295.9 33.6M264.4 82.0Q265 79 265.7 78.6M187.7 118.1Q188 114 188.5 111.0M267.6 115.9Q269 113 272.3 108.3M308.0 41.6Q309 40 309.2 38.7"/><path stroke="#8086b4" stroke-width="1.0" stroke-opacity="0.75" d="M197.8 120.9Q200 119 203.6 114.1M282.5 65.3Q284 65 284.4 62.5M275.4 31.4Q276 29 276.5 26.0M203.7 122.0Q205 119 208.7 114.9M204.5 79.7Q205 78 207.9 74.6M229.5 76.4Q231 74 234.0 70.3M292.9 53.9Q292 53 294.3 51.1M283.1 22.7Q283 19 283.8 16.6M239.0 119.1Q241 115 242.5 113.2M242.3 97.3Q243 92 243.5 89.0M291.2 50.5Q292 47 294.7 42.3M211.3 94.6Q213 94 213.0 90.2M311.3 14.1Q312 14 313.9 12.5M286.3 44.1Q290 42 292.4 38.3M264.3 65.4Q265 63 266.3 60.8M180.5 54.0Q181 54 182.5 51.2M304.1 121.9Q305 118 308.1 115.8M222.9 33.8Q223 31 224.7 25.7M237.0 101.1Q238 97 238.0 94.4M295.2 23.9Q297 22 297.3 20.1M252.4 51.1Q252 49 251.7 47.0M310.1 75.0Q311 74 313.2 72.8M208.1 120.8Q210 117 212.8 114.1M259.1 19.5Q260 17 263.0 13.1M267.0 102.5Q268 99 267.7 96.4M219.2 65.5Q220 64 221.2 63.1M256.0 102.6Q257 101 256.2 98.7M271.4 43.8Q271 41 271.8 40.4M216.6 27.9Q218 26 218.9 23.2M264.5 108.1Q268 106 268.5 105.2M177.5 103.3Q180 103 181.4 101.1M315.7 32.8Q318 30 319.2 28.6M247.9 118.9Q249 116 249.1 116.0M268.9 78.8Q270 76 272.7 74.6M203.1 38.7Q207 35 208.4 31.8M306.1 60.7Q310 58 312.3 56.1M199.2 117.7Q203 117 205.5 114.7M209.3 76.1Q210 72 211.4 70.7M248.4 37.2Q248 34 249.4 32.0M280.2 105.1Q281 102 282.9 99.1M202.4 97.4Q205 97 207.0 93.7M235.8 98.0Q237 96 238.0 94.3M242.7 28.6Q242 25 242.1 20.5M265.2 48.9Q267 46 270.1 41.5M230.6 98.3Q232 94 234.0 90.1M232.1 104.9Q232 103 232.4 101.8M204.9 115.8Q208 113 209.6 111.7M315.4 65.6Q318 64 320.5 61.2M298.0 118.3Q300 116 303.1 115.6M181.3 47.5Q184 46 184.1 42.5M267.6 80.3Q271 77 273.3 73.8M298.7 90.4Q303 89 305.7 90.7M183.8 40.2Q186 36 187.1 32.7"/><path stroke="#969bc2" stroke-width="0.5" stroke-opacity="0.25" d="M179.0 57.9Q180 57 181.3 53.9M218.1 93.7Q221 91 223.6 87.4M308.6 114.8Q313 112 315.2 110.6M249.8 47.6Q251 44 249.9 40.4M227.2 45.0Q228 41 230.5 37.5M193.3 44.3Q195 42 195.0 40.5M244.8 88.5Q246 85 246.6 80.1M233.3 96.7Q235 95 235.5 93.0M180.7 34.5Q183 33 184.7 30.0M293.5 104.6Q295 103 295.9 101.8M221.9 95.9Q222 95 223.8 93.0M186.7 21.0Q188 20 188.9 17.8M234.8 54.6Q235 54 235.0 51.4M203.2 114.9Q206 114 207.5 110.1M279.7 19.2Q280 17 280.0 14.7M259.4 109.9Q261 106 262.5 101.8M185.3 80.4Q188 77 189.4 74.9M283.0 117.3Q285 114 284.7 111.0M254.2 82.5Q256 78 256.4 74.4M289.0 79.4Q291 77 293.1 76.7"/><path stroke="#969bc2" stroke-width="0.5" stroke-opacity="0.5" d="M284.2 86.5Q287 84 290.3 80.1M244.0 20.7Q244 17 245.7 13.2M180.0 70.6Q181 69 182.2 68.4M251.5 94.4Q253 89 253.5 86.3M309.1 60.1Q311 58 310.8 53.2M248.2 92.9Q249 90 249.4 88.0M261.3 21.3Q262 19 263.2 17.7M290.0 61.7Q292 58 292.3 54.4M207.9 94.6Q212 94 215.5 94.9M218.9 73.9Q220 71 223.4 69.7M198.4 98.0Q202 96 206.3 93.9M188.7 31.1Q189 29 191.3 24.7M305.7 120.1Q307 118 311.1 114.2M274.0 119.2Q275 117 276.1 116.8M185.6 64.9Q186 62 186.3 59.4M177.9 105.9Q182 104 185.5 101.9M222.5 53.3Q226 51 229.2 47.3M301.0 115.3Q301 113 302.9 112.4M273.5 65.1Q277 62 279.8 59.4M223.1 71.2Q224 69 227.3 64.8M249.9 26.0Q250 22 252.2 18.6M271.8 85.8Q273 85 273.3 83.2M204.8 73.3Q206 72 207.5 70.9M298.8 46.1Q302 43 302.7 40.5M224.7 49.9Q225 49 225.6 45.7M301.6 37.0Q306 34 308.2 31.5M197.2 89.8Q200 87 199.9 82.9M274.6 51.1Q276 48 275.4 47.7M289.8 97.4Q290 96 291.2 94.4M203.2 81.0Q205 80 206.9 76.8M282.9 88.3Q285 85 285.3 81.0M252.3 48.6Q253 46 252.1 43.7M218.2 113.8Q220 112 218.8 109.6M195.5 58.3Q197 54 198.1 51.5M250.9 40.5Q253 37 254.7 36.2M272.5 66.2Q275 65 275.4 62.6M310.9 23.4Q312 23 315.4 20.4M259.8 69.0Q260 66 260.0 62.3M308.9 96.9Q309 94 310.4 92.0M193.3 67.9Q193 64 195.2 59.7M262.1 100.8Q262 100 263.6 97.0M217.1 63.0Q218 61 219.5 60.7M183.8 40.3Q186 38 186.7 37.2M289.0 68.6Q291 65 291.8 62.0M207.3 67.2Q211 64 213.3 63.0M178.3 50.3Q179 49 180.7 46.0M193.8 56.8Q197 54 197.8 52.7M312.7 62.6Q315 61 315.5 60.3M294.9 92.6Q297 91 299.4 88.2M319.4 24.3Q321 21 321.5 18.7M197.9 73.3Q200 71 203.6 70.0M273.1 20.8Q275 19 277.0 16.0M223.5 102.4Q226 98 225.5 94.8M184.1 28.7Q185 26 186.0 24.8M268.7 79.0Q271 76 273.0 74.8M239.8 23.6Q239 21 239.8 19.4"/><path stroke="#969bc2" stroke-width="0.5" stroke-opacity="0.75" d="M231.5 93.3Q232 91 233.4 87.0M290.1 102.6Q291 100 292.6 97.3M181.0 34.3Q182 31 183.3 27.1M307.1 75.9Q311 74 313.3 73.1M226.1 115.1Q228 112 230.3 111.4M207.6 22.5Q208 19 207.1 16.9M178.3 60.5Q181 59 183.8 56.5M271.8 61.3Q273 57 274.8 54.7M290.4 62.5Q290 62 291.6 59.5M317.9 100.3Q317 97 317.2 95.6M251.5 68.4Q251 65 251.0 60.1M319.6 74.4Q320 72 321.6 72.2M179.2 17.3Q181 14 181.8 11.4M263.2 123.2Q263 120 266.0 117.6M247.0 90.6Q248 88 247.2 85.7M182.7 52.0Q185 52 185.8 49.0M176.3 39.9Q180 37 181.8 33.1M307.6 121.4Q310 120 310.0 119.6M200.4 89.8Q201 85 201.8 81.4M243.1 32.3Q243 27 244.3 23.4M265.8 42.3Q267 41 267.8 39.3M248.3 85.4Q249 82 249.2 77.3M273.3 77.2Q274 76 274.9 73.7M254.8 105.6Q257 102 258.4 98.1M286.4 103.0Q290 102 292.8 98.0M184.7 102.4Q187 98 189.5 95.5M277.6 58.5Q278 56 279.5 54.8M237.4 98.6Q237 96 238.0 94.5M308.9 52.7Q310 48 311.0 44.4M300.8 42.3Q303 41 304.8 38.2M176.5 72.4Q179 71 180.0 69.4M230.5 44.5Q234 41 235.0 36.9M194.9 26.8Q197 24 197.9 23.0M231.2 75.7Q234 72 236.4 69.3M250.2 97.9Q252 96 252.0 95.0M244.4 66.0Q245 64 245.0 62.8M253.7 113.7Q255 112 256.6 108.8M242.1 87.7Q242 83 242.4 79.9M285.0 88.6Q287 84 289.6 81.6M200.3 103.9Q203 101 204.6 100.2M184.7 34.3Q186 31 186.8 30.3M216.2 68.1Q216 65 217.5 62.8M276.0 107.5Q277 105 277.7 103.3M278.9 63.2Q281 60 284.1 57.0M188.7 63.4Q190 60 190.9 58.3M201.2 58.8Q202 55 205.2 51.8M207.6 85.9Q211 83 211.8 78.5M249.0 113.5Q249 111 251.2 107.5M211.1 115.4Q213 112 216.0 110.3M281.9 82.0Q283 82 285.0 79.5M200.8 68.3Q203 67 203.1 65.6M203.4 40.0Q203 37 202.2 32.8M276.8 57.1Q279 56 280.6 51.7M189.4 35.8Q192 34 193.2 31.4M219.8 91.5Q222 89 221.9 85.8M235.2 23.5Q235 19 234.5 15.4M276.5 38.8Q279 36 280.2 34.6M229.1 40.3Q232 38 232.4 33.6M298.8 89.6Q300 88 301.1 85.1M299.4 51.3Q302 48 305.2 46.8M311.2 122.9Q313 122 315.2 119.5M315.3 83.0Q318 80 321.7 77.4M195.3 25.9Q197 24 198.5 21.3"/><path stroke="#969bc2" stroke-width="1.0" stroke-opacity="0.25" d="M293.4 44.5Q295 41 296.5 39.0M240.7 54.8Q241 53 241.6 49.0M246.4 112.9Q247 109 248.7 107.5M191.9 92.4Q195 89 195.7 87.3M232.7 65.1Q232 63 233.3 61.4M228.9 64.3Q229 60 229.0 55.7M298.1 46.9Q301 46 302.3 42.8M249.5 65.9Q252 61 253.0 57.8M250.0 50.0Q251 47 251.9 42.7M227.3 81.9Q229 79 231.1 75.2M202.1 98.5Q203 96 205.3 94.3M262.7 65.8Q265 64 268.4 59.8M231.6 98.6Q233 95 232.8 92.9M202.0 43.3Q202 41 203.4 38.0M232.1 97.3Q233 95 235.0 90.1M180.5 103.9Q182 101 185.2 99.0M190.8 107.7Q194 108 198.0 105.9M191.9 61.9Q194 58 195.2 56.1M286.8 116.9Q288 115 289.8 114.7M310.2 36.9Q312 35 314.5 33.1M252.0 51.2Q253 49 253.6 47.4M273.3 95.0Q273 91 273.2 88.0M318.3 36.5Q319 35 319.6 33.1M261.4 114.6Q262 113 262.1 110.0M312.0 27.1Q313 26 315.3 23.4M295.7 99.1Q297 98 297.3 96.0M251.0 103.7Q253 101 254.0 99.5"/><path stroke="#969bc2" stroke-width="1.0" stroke-opacity="0.5" d="M260.7 71.2Q263 68 265.4 63.6M237.4 41.4Q238 39 239.5 36.5M251.7 18.7Q253 16 254.2 13.1M251.5 79.9Q253 78 253.7 74.7M264.7 26.0Q265 24 265.1 22.7M239.1 93.8Q241 90 242.7 86.9M187.8 45.5Q188 43 188.1 38.6M268.9 25.0Q272 22 274.0 19.2M238.6 62.3Q239 58 239.7 55.2M297.4 121.2Q299 120 302.8 117.4M293.9 44.5Q297 44 297.4 41.8M184.8 44.1Q186 44 188.2 41.4M238.5 50.4Q240 48 238.5 46.4M178.3 81.7Q182 79 184.0 75.4M269.8 63.8Q271 63 272.8 60.3M238.9 71.5Q240 68 241.7 64.6M246.2 67.4Q246 65 245.5 63.8M176.1 99.2Q178 98 180.4 96.1M308.1 52.8Q311 51 315.4 47.7M264.3 121.3Q265 119 266.3 115.4M256.3 19.3Q256 15 257.8 13.7M222.2 58.9Q225 56 227.4 55.1M237.4 22.6Q236 20 237.0 16.3M233.1 90.3Q236 88 238.8 84.7M293.5 86.5Q293 84 294.8 81.5M206.2 109.1Q208 106 211.8 102.5M184.4 99.5Q188 95 190.0 93.2M268.4 99.1Q270 97 270.9 92.8M238.1 39.3Q238 37 239.7 34.4M238.1 100.5Q238 97 237.5 95.2M295.3 61.9Q295 60 296.8 56.6M283.1 73.6Q285 71 287.6 66.7M273.1 56.1Q274 52 272.0 48.6M277.3 34.7Q279 33 282.5 29.7M295.3 90.6Q297 88 298.7 83.1M221.7 46.5Q221 43 220.8 38.3M187.4 57.4Q187 52 187.5 48.9M204.6 69.3Q207 65 210.3 62.6M210.4 45.8Q212 44 213.0 44.0M262.3 23.3Q263 22 262.7 19.4M303.8 118.2Q308 115 311.5 113.9M269.9 117.2Q270 114 273.0 112.7M178.5 69.1Q180 68 181.4 67.9M272.7 48.7Q275 46 277.1 44.2M187.0 112.6Q190 108 193.0 106.2M243.2 87.4Q243 86 244.5 83.2M260.9 85.9Q263 85 262.8 81.7M279.7 99.6Q281 97 282.3 91.1M274.7 69.5Q278 66 278.8 64.4M209.3 86.3Q211 82 212.4 78.2M193.6 50.5Q195 48 197.8 45.9M189.1 61.7Q190 60 190.8 58.8M282.5 29.4Q284 27 285.4 26.7M195.6 20.4Q198 18 199.6 16.3M308.3 70.6Q311 68 313.7 65.8M195.0 59.1Q195 58 198.0 55.6M254.2 110.2Q255 107 254.3 102.9M254.9 23.7Q257 20 258.9 18.1M245.4 71.8Q247 70 248.9 67.8"/><path stroke="#969bc2" stroke-width="1.0" stroke-opacity="0.75" d="M311.6 63.0Q314 62 317.5 59.5M303.4 95.7Q306 94 308.8 91.4M217.7 42.9Q220 41 220.4 39.9M304.3 52.9Q307 50 309.3 46.8M300.3 32.5Q302 30 303.8 26.0M250.3 66.5Q253 63 254.7 59.4M181.6 83.1Q182 80 185.4 75.7M207.9 17.9Q210 15 209.4 15.1M298.6 95.2Q300 93 302.8 89.2M296.7 95.6Q298 94 299.8 93.7M296.7 89.1Q298 86 300.8 81.2M191.2 21.2Q195 20 196.9 16.6M194.4 41.4Q195 40 196.4 37.9M210.9 89.7Q211 87 213.4 85.6M248.9 109.7Q249 105 248.5 101.2M263.4 82.9Q265 79 265.2 76.9M253.2 22.3Q253 19 254.3 14.1M215.2 122.0Q218 119 219.8 117.2M309.1 31.4Q310 30 312.1 28.9M307.8 80.7Q308 76 306.8 72.7M282.6 116.3Q286 115 289.8 114.2M308.4 104.3Q309 104 310.6 101.5M183.6 76.7Q186 74 188.6 71.8M206.6 16.0Q207 15 209.2 11.7M225.6 24.1Q225 21 225.7 15.6M193.8 17.9Q197 14 198.7 11.6M279.4 117.6Q282 115 284.8 111.0M221.3 35.5Q223 33 224.4 29.0M258.4 89.7Q259 86 259.2 82.6M294.1 20.9Q295 18 295.6 14.3M297.0 22.8Q298 20 299.2 18.9M320.1 76.3Q320 75 321.3 72.4M208.3 35.6Q208 31 207.9 28.2M210.9 68.0Q214 65 215.1 63.4M252.5 79.2Q254 78 255.5 76.9M239.5 122.6Q242 119 244.0 117.9M276.9 120.8Q278 117 277.5 115.3M231.8 29.9Q235 28 236.2 25.4M290.6 85.5Q292 82 295.5 79.8M184.7 105.1Q186 103 188.7 101.9M258.8 71.7Q261 69 261.6 64.0M253.8 99.5Q255 95 257.3 91.4M239.5 93.3Q240 91 240.3 88.2M226.3 57.1Q227 54 229.4 52.1M235.3 59.8Q237 59 236.5 57.0M304.8 117.7Q305 116 306.8 115.0M315.5 93.3Q315 90 317.3 87.0M314.9 123.8Q318 120 320.0 117.6M309.7 108.7Q312 105 313.7 103.5M300.5 58.1Q302 57 302.4 55.0M301.9 67.2Q305 65 308.5 61.8M209.3 55.1Q211 53 212.4 50.1M309.9 93.5Q313 92 313.1 89.8M211.0 94.0Q213 93 213.8 90.8M275.7 101.1Q278 99 280.7 95.6M297.5 121.8Q301 121 304.1 117.8M318.1 88.2Q319 84 322.0 81.9M305.7 59.6Q307 57 306.6 54.4"/></g></g>
<circle cx="160" cy="33.8" r="16.4" fill="#dcdce2" stroke="#a9a7b4" stroke-width="0.7"/>
<circle cx="160" cy="33.8" r="15.5" fill="none" stroke="#c4c2cc" stroke-width="0.6"/>
<circle cx="160.3" cy="34.0" r="14.7" fill="url(#dishA)"/>
<circle cx="160.3" cy="34.0" r="14.7" filter="url(#dspk)"/>
<circle cx="298.6" cy="34.4" r="16.099999999999998" fill="#dcdce2" stroke="#a9a7b4" stroke-width="0.7"/>
<circle cx="298.6" cy="34.4" r="15.2" fill="none" stroke="#c4c2cc" stroke-width="0.6"/>
<circle cx="298.90000000000003" cy="34.6" r="14.399999999999999" fill="url(#dishA)"/>
<circle cx="298.90000000000003" cy="34.6" r="14.399999999999999" filter="url(#dspk)"/>
<rect x="168" y="113.9" width="8.3" height="1.9" fill="#f4f4f4"/>
<rect x="307" y="113.9" width="8.3" height="1.9" fill="#f4f4f4"/>
<g clip-path="url(#clip_cL)">
<rect x="43" y="121" width="135" height="101.6" filter="url(#speckL)"/>
<ellipse cx="70" cy="200" rx="30" ry="15" fill="#9a9284" opacity="0.25" filter="url(#blob3)"/>
<ellipse cx="47.2" cy="131.2" rx="4.2" ry="4.2" fill="#e4dac8" opacity="0.7" filter="url(#hal)"/>
<ellipse cx="50.5" cy="142.8" rx="3.1" ry="3.4" fill="#e4dac8" opacity="0.7" filter="url(#hal)"/>
<ellipse cx="50.0" cy="155.5" rx="6.2" ry="6.7" fill="#e4dac8" opacity="0.7" filter="url(#hal)"/>
<ellipse cx="53.5" cy="158.8" rx="2.9" ry="2.9" fill="#e4dac8" opacity="0.7" filter="url(#hal)"/>
<ellipse cx="61.0" cy="164.2" rx="2.9" ry="2.9" fill="#e4dac8" opacity="0.7" filter="url(#hal)"/>
<ellipse cx="74.8" cy="167.0" rx="4.4" ry="5.2" fill="#e4dac8" opacity="0.7" filter="url(#hal)"/>
<ellipse cx="83.8" cy="167.8" rx="4.4" ry="4.4" fill="#e4dac8" opacity="0.7" filter="url(#hal)"/>
<ellipse cx="91.7" cy="168.3" rx="6.1" ry="8.8" fill="#e4dac8" opacity="0.7" filter="url(#hal)"/>
<ellipse cx="102.5" cy="137.5" rx="3.6" ry="3.6" fill="#e4dac8" opacity="0.7" filter="url(#hal)"/>
<ellipse cx="104.0" cy="150.8" rx="2.9" ry="2.9" fill="#e4dac8" opacity="0.7" filter="url(#hal)"/>
<ellipse cx="106.0" cy="164.7" rx="3.9" ry="3.9" fill="#e4dac8" opacity="0.7" filter="url(#hal)"/>
<ellipse cx="133.8" cy="125.2" rx="7.7" ry="4.7" fill="#e4dac8" opacity="0.7" filter="url(#hal)"/>
<ellipse cx="139.8" cy="133.5" rx="4.2" ry="7.9" fill="#e4dac8" opacity="0.7" filter="url(#hal)"/>
<ellipse cx="119.0" cy="147.3" rx="3.4" ry="3.4" fill="#e4dac8" opacity="0.7" filter="url(#hal)"/>
<ellipse cx="127.0" cy="145.8" rx="3.4" ry="3.4" fill="#e4dac8" opacity="0.7" filter="url(#hal)"/>
<ellipse cx="133.1" cy="151.9" rx="6.4" ry="4.7" fill="#e4dac8" opacity="0.7" filter="url(#hal)"/>
<ellipse cx="113.0" cy="157.2" rx="2.6" ry="2.6" fill="#e4dac8" opacity="0.7" filter="url(#hal)"/>
<ellipse cx="122.5" cy="160.2" rx="4.7" ry="4.7" fill="#e4dac8" opacity="0.7" filter="url(#hal)"/>
<ellipse cx="134.8" cy="161.2" rx="2.6" ry="2.6" fill="#e4dac8" opacity="0.7" filter="url(#hal)"/>
<ellipse cx="121.5" cy="171.8" rx="9.4" ry="8.2" fill="#e4dac8" opacity="0.7" filter="url(#hal)"/>
<ellipse cx="161.8" cy="165.8" rx="5.2" ry="5.2" fill="#e4dac8" opacity="0.7" filter="url(#hal)"/>
<ellipse cx="167.8" cy="157.7" rx="3.4" ry="3.6" fill="#e4dac8" opacity="0.7" filter="url(#hal)"/>
<ellipse cx="174.0" cy="157.0" rx="3.4" ry="3.4" fill="#e4dac8" opacity="0.7" filter="url(#hal)"/>
<ellipse cx="175.5" cy="162.7" rx="3.4" ry="3.4" fill="#e4dac8" opacity="0.7" filter="url(#hal)"/>
<ellipse cx="53.2" cy="188.9" rx="6.9" ry="6.1" fill="#e4dac8" opacity="0.7" filter="url(#hal)"/>
<ellipse cx="57.0" cy="196.3" rx="3.4" ry="3.4" fill="#e4dac8" opacity="0.7" filter="url(#hal)"/>
<ellipse cx="61.5" cy="197.8" rx="2.9" ry="2.9" fill="#e4dac8" opacity="0.7" filter="url(#hal)"/>
<ellipse cx="57.0" cy="207.4" rx="8.4" ry="7.0" fill="#e4dac8" opacity="0.7" filter="url(#hal)"/>
<ellipse cx="68.8" cy="214.7" rx="3.6" ry="3.6" fill="#e4dac8" opacity="0.7" filter="url(#hal)"/>
<ellipse cx="63.0" cy="215.7" rx="2.9" ry="2.9" fill="#e4dac8" opacity="0.7" filter="url(#hal)"/>
<ellipse cx="78.4" cy="218.2" rx="2.8" ry="2.8" fill="#e4dac8" opacity="0.7" filter="url(#hal)"/>
<ellipse cx="88.0" cy="183.0" rx="5.9" ry="6.2" fill="#e4dac8" opacity="0.7" filter="url(#hal)"/>
<ellipse cx="94.6" cy="179.0" rx="3.4" ry="3.4" fill="#e4dac8" opacity="0.7" filter="url(#hal)"/>
<ellipse cx="97.8" cy="183.0" rx="4.2" ry="4.4" fill="#e4dac8" opacity="0.7" filter="url(#hal)"/>
<ellipse cx="93.6" cy="188.0" rx="3.4" ry="3.4" fill="#e4dac8" opacity="0.7" filter="url(#hal)"/>
<ellipse cx="107.0" cy="182.8" rx="5.9" ry="6.2" fill="#e4dac8" opacity="0.7" filter="url(#hal)"/>
<ellipse cx="97.8" cy="194.8" rx="4.9" ry="4.9" fill="#e4dac8" opacity="0.7" filter="url(#hal)"/>
<ellipse cx="106.6" cy="197.8" rx="4.3" ry="4.4" fill="#e4dac8" opacity="0.7" filter="url(#hal)"/>
<ellipse cx="85.8" cy="198.2" rx="3.1" ry="3.1" fill="#e4dac8" opacity="0.7" filter="url(#hal)"/>
<ellipse cx="85.7" cy="206.3" rx="3.4" ry="3.4" fill="#e4dac8" opacity="0.7" filter="url(#hal)"/>
<ellipse cx="81.7" cy="211.7" rx="3.1" ry="3.1" fill="#e4dac8" opacity="0.7" filter="url(#hal)"/>
<ellipse cx="90.2" cy="210.2" rx="3.2" ry="3.2" fill="#e4dac8" opacity="0.7" filter="url(#hal)"/>
<ellipse cx="88.7" cy="217.2" rx="2.9" ry="2.9" fill="#e4dac8" opacity="0.7" filter="url(#hal)"/>
<ellipse cx="114.5" cy="188.9" rx="3.6" ry="3.6" fill="#e4dac8" opacity="0.7" filter="url(#hal)"/>
<ellipse cx="131.5" cy="180.4" rx="3.1" ry="3.1" fill="#e4dac8" opacity="0.7" filter="url(#hal)"/>
<ellipse cx="148.2" cy="172.0" rx="3.2" ry="3.4" fill="#e4dac8" opacity="0.7" filter="url(#hal)"/>
<ellipse cx="132.8" cy="195.3" rx="4.2" ry="4.2" fill="#e4dac8" opacity="0.7" filter="url(#hal)"/>
<ellipse cx="125.9" cy="203.3" rx="5.9" ry="4.9" fill="#e4dac8" opacity="0.7" filter="url(#hal)"/>
<ellipse cx="138.3" cy="202.0" rx="9.3" ry="7.6" fill="#e4dac8" opacity="0.7" filter="url(#hal)"/>
<ellipse cx="153.6" cy="199.3" rx="10.4" ry="10.8" fill="#e4dac8" opacity="0.7" filter="url(#hal)"/>
<ellipse cx="164.1" cy="196.8" rx="4.2" ry="4.7" fill="#e4dac8" opacity="0.7" filter="url(#hal)"/>
<ellipse cx="168.1" cy="204.8" rx="5.7" ry="5.1" fill="#e4dac8" opacity="0.7" filter="url(#hal)"/>
<ellipse cx="138.3" cy="211.2" rx="4.7" ry="4.7" fill="#e4dac8" opacity="0.7" filter="url(#hal)"/>
<ellipse cx="118.9" cy="209.2" rx="2.9" ry="2.9" fill="#e4dac8" opacity="0.7" filter="url(#hal)"/>
<defs><g id="q1"><ellipse cx="47.2" cy="131.2" rx="2.2" ry="2.2"/></g></defs>
<use href="#q1" filter="url(#blobR)" fill="#962412"/>
<use href="#q1" filter="url(#blob)" fill="#700c08"/>
<ellipse cx="47.2" cy="131.2" rx="1.1" ry="1.1" fill="#2a0202" opacity="0.85" filter="url(#blob)"/>
<defs><g id="q2"><ellipse cx="50.5" cy="142.8" rx="1.5" ry="1.8"/></g></defs>
<use href="#q2" filter="url(#blobR)" fill="#962412"/>
<use href="#q2" filter="url(#blob)" fill="#700c08"/>
<ellipse cx="50.5" cy="142.8" rx="0.8" ry="0.9" fill="#2a0202" opacity="0.85" filter="url(#blob)"/>
<defs><g id="q3"><ellipse cx="50.0" cy="155.5" rx="2.4" ry="2.7"/><circle cx="49.4" cy="156.8" r="1.7"/><circle cx="52.2" cy="156.7" r="1.5"/><circle cx="52.3" cy="156.5" r="1.2"/><circle cx="49.2" cy="155.9" r="1.2"/><circle cx="47.2" cy="157.1" r="1.3"/><circle cx="50.5" cy="158.5" r="1.9"/><circle cx="48.1" cy="154.4" r="1.9"/><circle cx="55.0" cy="157.2" r="0.9"/><circle cx="52.6" cy="159.2" r="0.9"/><circle cx="51.7" cy="151.1" r="1.1"/><circle cx="47.1" cy="151.6" r="1.1"/></g></defs>
<use href="#q3" filter="url(#blobR)" fill="#962412"/>
<use href="#q3" filter="url(#blob)" fill="#700c08"/>
<g fill="#2a0202" opacity="0.7" filter="url(#blob2)"><ellipse cx="50.1" cy="155.5" rx="1.0" ry="1.1"/><ellipse cx="50.3" cy="156.8" rx="1.0" ry="1.1"/><ellipse cx="49.5" cy="155.8" rx="1.0" ry="1.1"/><ellipse cx="49.3" cy="155.0" rx="1.0" ry="1.1"/></g>
<defs><g id="q4"><ellipse cx="53.5" cy="158.8" rx="1.5" ry="1.5"/></g></defs>
<use href="#q4" filter="url(#blobR)" fill="#962412"/>
<use href="#q4" filter="url(#blob)" fill="#700c08"/>
<ellipse cx="53.5" cy="158.8" rx="0.8" ry="0.8" fill="#2a0202" opacity="0.85" filter="url(#blob)"/>
<defs><g id="q5"><ellipse cx="61.0" cy="164.2" rx="1.5" ry="1.5"/></g></defs>
<use href="#q5" filter="url(#blobR)" fill="#962412"/>
<use href="#q5" filter="url(#blob)" fill="#700c08"/>
<ellipse cx="61.0" cy="164.2" rx="0.8" ry="0.8" fill="#2a0202" opacity="0.85" filter="url(#blob)"/>
<defs><g id="q6"><ellipse cx="74.8" cy="167.0" rx="2.2" ry="3.0"/></g></defs>
<use href="#q6" filter="url(#blobR)" fill="#962412"/>
<use href="#q6" filter="url(#blob)" fill="#700c08"/>
<ellipse cx="74.8" cy="167.0" rx="1.1" ry="1.5" fill="#2a0202" opacity="0.85" filter="url(#blob)"/>
<defs><g id="q7"><ellipse cx="83.8" cy="167.8" rx="2.2" ry="2.2"/></g></defs>
<use href="#q7" filter="url(#blobR)" fill="#962412"/>
<use href="#q7" filter="url(#blob)" fill="#700c08"/>
<ellipse cx="83.8" cy="167.8" rx="1.1" ry="1.1" fill="#2a0202" opacity="0.85" filter="url(#blob)"/>
<defs><g id="q8"><ellipse cx="91.7" cy="168.3" rx="2.4" ry="4.0"/><circle cx="90.7" cy="173.1" r="1.7"/><circle cx="91.7" cy="172.6" r="1.6"/><circle cx="93.7" cy="164.9" r="1.4"/><circle cx="92.8" cy="168.1" r="1.5"/><circle cx="91.7" cy="166.1" r="1.5"/><circle cx="94.3" cy="169.5" r="1.8"/><circle cx="88.8" cy="166.0" r="1.4"/><circle cx="90.8" cy="164.2" r="1.6"/><circle cx="88.7" cy="169.8" r="1.9"/><circle cx="88.9" cy="169.1" r="1.2"/><circle cx="90.2" cy="160.6" r="1.4"/><circle cx="93.5" cy="161.8" r="1.0"/><circle cx="89.7" cy="162.5" r="1.0"/></g></defs>
<use href="#q8" filter="url(#blobR)" fill="#962412"/>
<use href="#q8" filter="url(#blob)" fill="#700c08"/>
<g fill="#2a0202" opacity="0.7" filter="url(#blob2)"><ellipse cx="91.8" cy="168.7" rx="1.0" ry="1.7"/><ellipse cx="92.9" cy="169.2" rx="1.0" ry="1.7"/><ellipse cx="92.0" cy="168.9" rx="1.0" ry="1.7"/><ellipse cx="90.5" cy="170.0" rx="1.0" ry="1.7"/></g>
<defs><g id="q9"><ellipse cx="102.5" cy="137.5" rx="2.0" ry="2.0"/></g></defs>
<use href="#q9" filter="url(#blobR)" fill="#962412"/>
<use href="#q9" filter="url(#blob)" fill="#700c08"/>
<ellipse cx="102.5" cy="137.5" rx="1.0" ry="1.0" fill="#2a0202" opacity="0.85" filter="url(#blob)"/>
<defs><g id="q10"><ellipse cx="104.0" cy="150.8" rx="1.5" ry="1.5"/></g></defs>
<use href="#q10" filter="url(#blobR)" fill="#962412"/>
<use href="#q10" filter="url(#blob)" fill="#700c08"/>
<ellipse cx="104.0" cy="150.8" rx="0.8" ry="0.8" fill="#2a0202" opacity="0.85" filter="url(#blob)"/>
<defs><g id="q11"><ellipse cx="106.0" cy="164.7" rx="2.0" ry="2.0"/></g></defs>
<use href="#q11" filter="url(#blobR)" fill="#962412"/>
<use href="#q11" filter="url(#blob)" fill="#700c08"/>
<ellipse cx="106.0" cy="164.7" rx="1.0" ry="1.0" fill="#2a0202" opacity="0.85" filter="url(#blob)"/>
<defs><g id="q12"><ellipse cx="133.8" cy="125.2" rx="3.8" ry="1.9"/><circle cx="136.9" cy="126.1" r="1.4"/><circle cx="137.3" cy="123.6" r="1.6"/><circle cx="133.1" cy="127.0" r="1.3"/><circle cx="137.6" cy="123.5" r="1.2"/><circle cx="134.9" cy="126.4" r="1.2"/><circle cx="129.7" cy="125.5" r="1.2"/><circle cx="137.2" cy="125.3" r="1.3"/><circle cx="129.0" cy="124.2" r="1.5"/><circle cx="126.2" cy="124.9" r="1.2"/><circle cx="141.5" cy="126.7" r="1.2"/><circle cx="139.4" cy="122.3" r="1.0"/></g></defs>
<use href="#q12" filter="url(#blobR)" fill="#962412"/>
<use href="#q12" filter="url(#blob)" fill="#700c08"/>
<ellipse cx="133.8" cy="125.2" rx="3.1" ry="1.6" fill="#2a0202" opacity="0.85" filter="url(#blob)"/>
<defs><g id="q13"><ellipse cx="139.8" cy="133.5" rx="1.6" ry="3.9"/><circle cx="139.1" cy="134.6" r="1.3"/><circle cx="140.3" cy="134.0" r="1.1"/><circle cx="140.5" cy="136.2" r="1.0"/><circle cx="140.7" cy="133.5" r="1.0"/><circle cx="139.5" cy="134.2" r="1.5"/><circle cx="139.1" cy="132.1" r="1.1"/><circle cx="138.9" cy="136.2" r="1.1"/><circle cx="141.9" cy="126.4" r="1.0"/><circle cx="136.9" cy="134.2" r="0.8"/></g></defs>
<use href="#q13" filter="url(#blobR)" fill="#962412"/>
<use href="#q13" filter="url(#blob)" fill="#700c08"/>
<ellipse cx="139.8" cy="133.5" rx="1.4" ry="3.2" fill="#2a0202" opacity="0.85" filter="url(#blob)"/>
<defs><g id="q14"><ellipse cx="120.5" cy="135.9" rx="1.0" ry="1.0"/></g></defs>
<use href="#q14" filter="url(#blobR)" fill="#962412"/>
<use href="#q14" filter="url(#blob)" fill="#700c08"/>
<ellipse cx="120.5" cy="135.9" rx="0.5" ry="0.5" fill="#2a0202" opacity="0.85" filter="url(#blob)"/>
<defs><g id="q15"><ellipse cx="119.0" cy="147.3" rx="2.0" ry="2.0"/></g></defs>
<use href="#q15" filter="url(#blobR)" fill="#962412"/>
<use href="#q15" filter="url(#blob)" fill="#700c08"/>
<ellipse cx="119.0" cy="147.3" rx="1.0" ry="1.0" fill="#2a0202" opacity="0.85" filter="url(#blob)"/>
<defs><g id="q16"><ellipse cx="127.0" cy="145.8" rx="2.0" ry="2.0"/></g></defs>
<use href="#q16" filter="url(#blobR)" fill="#962412"/>
<use href="#q16" filter="url(#blob)" fill="#700c08"/>
<ellipse cx="127.0" cy="145.8" rx="1.0" ry="1.0" fill="#2a0202" opacity="0.85" filter="url(#blob)"/>
<defs><g id="q17"><ellipse cx="133.1" cy="151.9" rx="2.8" ry="1.9"/><circle cx="132.0" cy="153.0" r="1.5"/><circle cx="133.4" cy="152.2" r="1.6"/><circle cx="131.6" cy="151.7" r="1.4"/><circle cx="136.0" cy="152.2" r="1.6"/><circle cx="135.3" cy="150.2" r="1.2"/><circle cx="129.8" cy="154.3" r="1.2"/><circle cx="127.2" cy="151.1" r="0.9"/><circle cx="134.1" cy="155.8" r="1.4"/></g></defs>
<use href="#q17" filter="url(#blobR)" fill="#962412"/>
<use href="#q17" filter="url(#blob)" fill="#700c08"/>
<ellipse cx="133.1" cy="151.9" rx="2.4" ry="1.5" fill="#2a0202" opacity="0.85" filter="url(#blob)"/>
<defs><g id="q18"><ellipse cx="113.0" cy="157.2" rx="1.2" ry="1.2"/></g></defs>
<use href="#q18" filter="url(#blobR)" fill="#962412"/>
<use href="#q18" filter="url(#blob)" fill="#700c08"/>
<ellipse cx="113.0" cy="157.2" rx="0.6" ry="0.6" fill="#2a0202" opacity="0.85" filter="url(#blob)"/>
<defs><g id="q19"><ellipse cx="122.5" cy="160.2" rx="2.5" ry="2.5"/></g></defs>
<use href="#q19" filter="url(#blobR)" fill="#962412"/>
<use href="#q19" filter="url(#blob)" fill="#700c08"/>
<ellipse cx="122.5" cy="160.2" rx="1.2" ry="1.2" fill="#2a0202" opacity="0.85" filter="url(#blob)"/>
<defs><g id="q20"><ellipse cx="134.8" cy="161.2" rx="1.2" ry="1.2"/></g></defs>
<use href="#q20" filter="url(#blobR)" fill="#962412"/>
<use href="#q20" filter="url(#blob)" fill="#700c08"/>
<ellipse cx="134.8" cy="161.2" rx="0.6" ry="0.6" fill="#2a0202" opacity="0.85" filter="url(#blob)"/>
<defs><g id="q21"><ellipse cx="121.5" cy="171.8" rx="4.5" ry="3.8"/><circle cx="124.9" cy="167.9" r="2.5"/><circle cx="121.3" cy="169.2" r="2.1"/><circle cx="120.8" cy="172.5" r="1.5"/><circle cx="120.9" cy="174.4" r="2.3"/><circle cx="125.6" cy="170.8" r="2.6"/><circle cx="127.7" cy="171.4" r="1.9"/><circle cx="122.1" cy="174.2" r="1.7"/><circle cx="122.9" cy="175.8" r="2.6"/><circle cx="123.9" cy="168.6" r="2.3"/><circle cx="122.1" cy="170.3" r="2.3"/><circle cx="126.3" cy="169.2" r="2.4"/><circle cx="118.8" cy="172.1" r="2.5"/><circle cx="118.7" cy="175.9" r="2.7"/><circle cx="118.3" cy="173.8" r="2.7"/><circle cx="121.1" cy="169.6" r="1.6"/><circle cx="125.0" cy="175.9" r="2.5"/><circle cx="125.0" cy="175.6" r="2.7"/><circle cx="119.4" cy="169.1" r="2.2"/><circle cx="126.6" cy="176.4" r="1.4"/><circle cx="116.3" cy="165.8" r="1.4"/><circle cx="112.5" cy="175.0" r="1.3"/><circle cx="123.5" cy="178.3" r="0.9"/><circle cx="122.0" cy="179.3" r="0.9"/><circle cx="114.6" cy="174.9" r="1.3"/></g></defs>
<use href="#q21" filter="url(#blobR)" fill="#962412"/>
<use href="#q21" filter="url(#blob)" fill="#700c08"/>
<g fill="#2a0202" opacity="0.7" filter="url(#blob2)"><ellipse cx="120.6" cy="172.8" rx="1.9" ry="1.6"/><ellipse cx="118.9" cy="170.5" rx="1.9" ry="1.6"/><ellipse cx="118.8" cy="173.0" rx="1.9" ry="1.6"/><ellipse cx="119.7" cy="171.7" rx="1.9" ry="1.6"/></g>
<defs><g id="q22"><ellipse cx="161.8" cy="165.8" rx="1.6" ry="1.6"/><circle cx="161.4" cy="165.7" r="1.2"/><circle cx="161.8" cy="165.9" r="1.4"/><circle cx="162.5" cy="167.2" r="1.4"/><circle cx="158.9" cy="164.7" r="1.1"/><circle cx="158.5" cy="164.6" r="0.8"/></g></defs>
<use href="#q22" filter="url(#blobR)" fill="#962412"/>
<use href="#q22" filter="url(#blob)" fill="#700c08"/>
<ellipse cx="161.8" cy="165.8" rx="1.4" ry="1.4" fill="#2a0202" opacity="0.85" filter="url(#blob)"/>
<defs><g id="q23"><ellipse cx="167.8" cy="157.7" rx="1.8" ry="2.0"/></g></defs>
<use href="#q23" filter="url(#blobR)" fill="#962412"/>
<use href="#q23" filter="url(#blob)" fill="#700c08"/>
<ellipse cx="167.8" cy="157.7" rx="0.9" ry="1.0" fill="#2a0202" opacity="0.85" filter="url(#blob)"/>
<defs><g id="q24"><ellipse cx="174.0" cy="157.0" rx="2.0" ry="2.0"/></g></defs>
<use href="#q24" filter="url(#blobR)" fill="#962412"/>
<use href="#q24" filter="url(#blob)" fill="#700c08"/>
<ellipse cx="174.0" cy="157.0" rx="1.0" ry="1.0" fill="#2a0202" opacity="0.85" filter="url(#blob)"/>
<defs><g id="q25"><ellipse cx="175.5" cy="162.7" rx="2.0" ry="2.0"/></g></defs>
<use href="#q25" filter="url(#blobR)" fill="#962412"/>
<use href="#q25" filter="url(#blob)" fill="#700c08"/>
<ellipse cx="175.5" cy="162.7" rx="1.0" ry="1.0" fill="#2a0202" opacity="0.85" filter="url(#blob)"/>
<defs><g id="q26"><ellipse cx="53.2" cy="188.9" rx="2.9" ry="2.4"/><circle cx="51.4" cy="188.2" r="1.4"/><circle cx="53.7" cy="186.5" r="1.6"/><circle cx="53.5" cy="185.6" r="1.5"/><circle cx="51.1" cy="187.3" r="1.6"/><circle cx="52.3" cy="186.7" r="1.6"/><circle cx="49.4" cy="189.3" r="1.7"/><circle cx="56.0" cy="186.6" r="1.4"/><circle cx="47.4" cy="186.9" r="1.3"/><circle cx="56.5" cy="192.0" r="1.0"/><circle cx="57.9" cy="190.7" r="0.8"/></g></defs>
<use href="#q26" filter="url(#blobR)" fill="#962412"/>
<use href="#q26" filter="url(#blob)" fill="#700c08"/>
<g fill="#2a0202" opacity="0.7" filter="url(#blob2)"><ellipse cx="52.4" cy="187.6" rx="1.2" ry="1.0"/><ellipse cx="53.5" cy="188.7" rx="1.2" ry="1.0"/><ellipse cx="53.0" cy="187.7" rx="1.2" ry="1.0"/><ellipse cx="54.4" cy="190.1" rx="1.2" ry="1.0"/></g>
<defs><g id="q27"><ellipse cx="57.0" cy="196.3" rx="2.0" ry="2.0"/></g></defs>
<use href="#q27" filter="url(#blobR)" fill="#962412"/>
<use href="#q27" filter="url(#blob)" fill="#700c08"/>
<ellipse cx="57.0" cy="196.3" rx="1.0" ry="1.0" fill="#2a0202" opacity="0.85" filter="url(#blob)"/>
<defs><g id="q28"><ellipse cx="61.5" cy="197.8" rx="1.5" ry="1.5"/></g></defs>
<use href="#q28" filter="url(#blobR)" fill="#962412"/>
<use href="#q28" filter="url(#blob)" fill="#700c08"/>
<ellipse cx="61.5" cy="197.8" rx="0.8" ry="0.8" fill="#2a0202" opacity="0.85" filter="url(#blob)"/>
<defs><g id="q29"><ellipse cx="57.0" cy="207.4" rx="3.6" ry="2.8"/><circle cx="59.3" cy="207.0" r="2.1"/><circle cx="54.1" cy="209.0" r="2.2"/><circle cx="58.0" cy="206.0" r="1.6"/><circle cx="54.0" cy="207.2" r="1.4"/><circle cx="55.2" cy="210.4" r="1.3"/><circle cx="53.8" cy="206.5" r="1.3"/><circle cx="55.0" cy="210.1" r="1.7"/><circle cx="61.7" cy="208.9" r="2.0"/><circle cx="58.6" cy="207.2" r="1.5"/><circle cx="61.4" cy="208.2" r="1.5"/><circle cx="59.3" cy="209.2" r="2.1"/><circle cx="59.7" cy="202.8" r="0.8"/><circle cx="63.3" cy="204.7" r="1.2"/><circle cx="62.2" cy="209.9" r="1.2"/><circle cx="51.5" cy="209.5" r="1.4"/></g></defs>
<use href="#q29" filter="url(#blobR)" fill="#962412"/>
<use href="#q29" filter="url(#blob)" fill="#700c08"/>
<g fill="#2a0202" opacity="0.7" filter="url(#blob2)"><ellipse cx="55.6" cy="206.2" rx="1.5" ry="1.1"/><ellipse cx="59.0" cy="208.3" rx="1.5" ry="1.1"/><ellipse cx="59.1" cy="208.1" rx="1.5" ry="1.1"/><ellipse cx="56.1" cy="207.6" rx="1.5" ry="1.1"/></g>
<defs><g id="q30"><ellipse cx="68.8" cy="214.7" rx="2.0" ry="2.0"/></g></defs>
<use href="#q30" filter="url(#blobR)" fill="#962412"/>
<use href="#q30" filter="url(#blob)" fill="#700c08"/>
<ellipse cx="68.8" cy="214.7" rx="1.0" ry="1.0" fill="#2a0202" opacity="0.85" filter="url(#blob)"/>
<defs><g id="q31"><ellipse cx="63.0" cy="215.7" rx="1.5" ry="1.5"/></g></defs>
<use href="#q31" filter="url(#blobR)" fill="#962412"/>
<use href="#q31" filter="url(#blob)" fill="#700c08"/>
<ellipse cx="63.0" cy="215.7" rx="0.8" ry="0.8" fill="#2a0202" opacity="0.85" filter="url(#blob)"/>
<defs><g id="q32"><ellipse cx="78.4" cy="218.2" rx="1.4" ry="1.4"/></g></defs>
<use href="#q32" filter="url(#blobR)" fill="#962412"/>
<use href="#q32" filter="url(#blob)" fill="#700c08"/>
<ellipse cx="78.4" cy="218.2" rx="0.7" ry="0.7" fill="#2a0202" opacity="0.85" filter="url(#blob)"/>
<defs><g id="q33"><ellipse cx="88.0" cy="183.0" rx="2.2" ry="2.4"/><circle cx="85.1" cy="181.9" r="1.3"/><circle cx="89.5" cy="184.8" r="1.3"/><circle cx="88.9" cy="183.9" r="1.2"/><circle cx="88.5" cy="184.8" r="1.4"/><circle cx="88.1" cy="181.2" r="1.5"/><circle cx="88.8" cy="184.8" r="1.1"/><circle cx="87.9" cy="187.0" r="1.2"/><circle cx="84.2" cy="181.7" r="1.0"/><circle cx="91.5" cy="181.3" r="1.3"/></g></defs>
<use href="#q33" filter="url(#blobR)" fill="#962412"/>
<use href="#q33" filter="url(#blob)" fill="#700c08"/>
<g fill="#2a0202" opacity="0.7" filter="url(#blob2)"><ellipse cx="87.2" cy="183.4" rx="0.9" ry="1.0"/><ellipse cx="88.3" cy="182.4" rx="0.9" ry="1.0"/><ellipse cx="86.8" cy="182.9" rx="0.9" ry="1.0"/><ellipse cx="88.5" cy="182.9" rx="0.9" ry="1.0"/></g>
<defs><g id="q34"><ellipse cx="94.6" cy="179.0" rx="2.0" ry="2.0"/></g></defs>
<use href="#q34" filter="url(#blobR)" fill="#962412"/>
<use href="#q34" filter="url(#blob)" fill="#700c08"/>
<ellipse cx="94.6" cy="179.0" rx="1.0" ry="1.0" fill="#2a0202" opacity="0.85" filter="url(#blob)"/>
<defs><g id="q35"><ellipse cx="97.8" cy="183.0" rx="1.6" ry="1.8"/><circle cx="98.7" cy="181.1" r="1.3"/><circle cx="96.6" cy="183.8" r="1.0"/><circle cx="98.2" cy="183.5" r="1.4"/><circle cx="97.6" cy="186.2" r="0.8"/><circle cx="99.7" cy="179.7" r="1.2"/></g></defs>
<use href="#q35" filter="url(#blobR)" fill="#962412"/>
<use href="#q35" filter="url(#blob)" fill="#700c08"/>
<ellipse cx="97.8" cy="183.0" rx="1.4" ry="1.5" fill="#2a0202" opacity="0.85" filter="url(#blob)"/>
<defs><g id="q36"><ellipse cx="93.6" cy="188.0" rx="2.0" ry="2.0"/></g></defs>
<use href="#q36" filter="url(#blobR)" fill="#962412"/>
<use href="#q36" filter="url(#blob)" fill="#700c08"/>
<ellipse cx="93.6" cy="188.0" rx="1.0" ry="1.0" fill="#2a0202" opacity="0.85" filter="url(#blob)"/>
<defs><g id="q37"><ellipse cx="107.0" cy="182.8" rx="2.4" ry="2.5"/><circle cx="106.7" cy="184.5" r="1.4"/><circle cx="105.7" cy="183.1" r="1.5"/><circle cx="106.7" cy="186.3" r="1.9"/><circle cx="105.4" cy="182.2" r="1.9"/><circle cx="106.3" cy="184.8" r="1.2"/><circle cx="105.3" cy="184.4" r="1.6"/><circle cx="108.4" cy="187.5" r="0.7"/><circle cx="106.6" cy="187.1" r="1.0"/><circle cx="110.9" cy="183.9" r="0.9"/><circle cx="107.5" cy="187.8" r="1.1"/></g></defs>
<use href="#q37" filter="url(#blobR)" fill="#962412"/>
<use href="#q37" filter="url(#blob)" fill="#700c08"/>
<g fill="#2a0202" opacity="0.7" filter="url(#blob2)"><ellipse cx="107.0" cy="181.5" rx="1.0" ry="1.1"/><ellipse cx="106.7" cy="181.1" rx="1.0" ry="1.1"/><ellipse cx="106.5" cy="183.1" rx="1.0" ry="1.1"/><ellipse cx="107.3" cy="182.7" rx="1.0" ry="1.1"/></g>
<defs><g id="q38"><ellipse cx="97.8" cy="194.8" rx="1.6" ry="1.7"/><circle cx="97.4" cy="192.9" r="1.0"/><circle cx="98.9" cy="192.9" r="1.3"/><circle cx="97.5" cy="192.7" r="1.1"/><circle cx="94.6" cy="194.3" r="1.3"/><circle cx="98.9" cy="191.4" r="1.1"/></g></defs>
<use href="#q38" filter="url(#blobR)" fill="#962412"/>
<use href="#q38" filter="url(#blob)" fill="#700c08"/>
<ellipse cx="97.8" cy="194.8" rx="1.4" ry="1.4" fill="#2a0202" opacity="0.85" filter="url(#blob)"/>
<defs><g id="q39"><ellipse cx="106.6" cy="197.8" rx="2.4" ry="2.5"/></g></defs>
<use href="#q39" filter="url(#blobR)" fill="#962412"/>
<use href="#q39" filter="url(#blob)" fill="#700c08"/>
<ellipse cx="106.6" cy="197.8" rx="1.2" ry="1.2" fill="#2a0202" opacity="0.85" filter="url(#blob)"/>
<defs><g id="q40"><ellipse cx="85.8" cy="198.2" rx="1.8" ry="1.8"/></g></defs>
<use href="#q40" filter="url(#blobR)" fill="#962412"/>
<use href="#q40" filter="url(#blob)" fill="#700c08"/>
<ellipse cx="85.8" cy="198.2" rx="0.9" ry="0.9" fill="#2a0202" opacity="0.85" filter="url(#blob)"/>
<defs><g id="q41"><ellipse cx="85.7" cy="206.3" rx="1.5" ry="1.5"/></g></defs>
<use href="#q41" filter="url(#blobR)" fill="#962412"/>
<use href="#q41" filter="url(#blob)" fill="#700c08"/>
<ellipse cx="85.7" cy="206.3" rx="0.8" ry="0.8" fill="#2a0202" opacity="0.85" filter="url(#blob)"/>
<defs><g id="q42"><ellipse cx="81.7" cy="211.7" rx="1.7" ry="1.7"/></g></defs>
<use href="#q42" filter="url(#blobR)" fill="#962412"/>
<use href="#q42" filter="url(#blob)" fill="#700c08"/>
<ellipse cx="81.7" cy="211.7" rx="0.9" ry="0.9" fill="#2a0202" opacity="0.85" filter="url(#blob)"/>
<defs><g id="q43"><ellipse cx="90.2" cy="210.2" rx="1.8" ry="1.8"/></g></defs>
<use href="#q43" filter="url(#blobR)" fill="#962412"/>
<use href="#q43" filter="url(#blob)" fill="#700c08"/>
<ellipse cx="90.2" cy="210.2" rx="0.9" ry="0.9" fill="#2a0202" opacity="0.85" filter="url(#blob)"/>
<defs><g id="q44"><ellipse cx="88.7" cy="217.2" rx="1.5" ry="1.5"/></g></defs>
<use href="#q44" filter="url(#blobR)" fill="#962412"/>
<use href="#q44" filter="url(#blob)" fill="#700c08"/>
<ellipse cx="88.7" cy="217.2" rx="0.8" ry="0.8" fill="#2a0202" opacity="0.85" filter="url(#blob)"/>
<defs><g id="q45"><ellipse cx="114.5" cy="188.9" rx="2.0" ry="2.0"/></g></defs>
<use href="#q45" filter="url(#blobR)" fill="#962412"/>
<use href="#q45" filter="url(#blob)" fill="#700c08"/>
<ellipse cx="114.5" cy="188.9" rx="1.0" ry="1.0" fill="#2a0202" opacity="0.85" filter="url(#blob)"/>
<defs><g id="q46"><ellipse cx="131.5" cy="180.4" rx="1.5" ry="1.5"/></g></defs>
<use href="#q46" filter="url(#blobR)" fill="#962412"/>
<use href="#q46" filter="url(#blob)" fill="#700c08"/>
<ellipse cx="131.5" cy="180.4" rx="0.8" ry="0.8" fill="#2a0202" opacity="0.85" filter="url(#blob)"/>
<defs><g id="q47"><ellipse cx="148.2" cy="172.0" rx="1.8" ry="2.0"/></g></defs>
<use href="#q47" filter="url(#blobR)" fill="#962412"/>
<use href="#q47" filter="url(#blob)" fill="#700c08"/>
<ellipse cx="148.2" cy="172.0" rx="0.9" ry="1.0" fill="#2a0202" opacity="0.85" filter="url(#blob)"/>
<defs><g id="q48"><ellipse cx="132.8" cy="195.3" rx="2.5" ry="2.5"/></g></defs>
<use href="#q48" filter="url(#blobR)" fill="#962412"/>
<use href="#q48" filter="url(#blob)" fill="#700c08"/>
<ellipse cx="132.8" cy="195.3" rx="1.2" ry="1.2" fill="#2a0202" opacity="0.85" filter="url(#blob)"/>
<defs><g id="q49"><ellipse cx="125.9" cy="203.3" rx="2.4" ry="1.8"/><circle cx="128.1" cy="202.0" r="1.4"/><circle cx="126.0" cy="203.7" r="1.1"/><circle cx="125.2" cy="203.9" r="1.5"/><circle cx="123.4" cy="202.6" r="1.4"/><circle cx="123.9" cy="200.1" r="0.7"/><circle cx="127.4" cy="199.7" r="1.1"/><circle cx="121.1" cy="202.5" r="0.7"/></g></defs>
<use href="#q49" filter="url(#blobR)" fill="#962412"/>
<use href="#q49" filter="url(#blob)" fill="#700c08"/>
<ellipse cx="125.9" cy="203.3" rx="2.0" ry="1.5" fill="#2a0202" opacity="0.85" filter="url(#blob)"/>
<defs><g id="q50"><ellipse cx="138.3" cy="202.0" rx="4.4" ry="3.4"/><circle cx="138.0" cy="199.6" r="1.5"/><circle cx="137.8" cy="206.1" r="1.6"/><circle cx="137.9" cy="197.2" r="2.0"/><circle cx="135.1" cy="204.3" r="2.2"/><circle cx="138.8" cy="198.2" r="2.1"/><circle cx="140.4" cy="202.9" r="1.7"/><circle cx="138.2" cy="199.3" r="2.0"/><circle cx="139.8" cy="202.1" r="1.7"/><circle cx="135.8" cy="198.4" r="2.2"/><circle cx="137.2" cy="205.4" r="1.9"/><circle cx="136.2" cy="202.4" r="2.4"/><circle cx="140.3" cy="206.6" r="2.5"/><circle cx="142.5" cy="202.4" r="2.3"/><circle cx="142.4" cy="201.4" r="1.7"/><circle cx="139.8" cy="206.6" r="1.6"/><circle cx="136.2" cy="201.1" r="2.0"/><circle cx="145.7" cy="200.3" r="1.3"/><circle cx="128.6" cy="201.6" r="1.2"/><circle cx="139.4" cy="209.4" r="1.0"/><circle cx="145.6" cy="202.9" r="1.0"/><circle cx="130.5" cy="203.9" r="0.8"/></g></defs>
<use href="#q50" filter="url(#blobR)" fill="#962412"/>
<use href="#q50" filter="url(#blob)" fill="#700c08"/>
<g fill="#2a0202" opacity="0.7" filter="url(#blob2)"><ellipse cx="137.7" cy="202.7" rx="1.8" ry="1.4"/><ellipse cx="138.3" cy="202.0" rx="1.8" ry="1.4"/><ellipse cx="138.3" cy="199.8" rx="1.8" ry="1.4"/><ellipse cx="140.5" cy="203.6" rx="1.8" ry="1.4"/></g>
<defs><g id="q51"><ellipse cx="153.6" cy="199.3" rx="4.8" ry="5.0"/><circle cx="152.2" cy="192.7" r="2.2"/><circle cx="150.7" cy="202.5" r="3.3"/><circle cx="150.2" cy="197.0" r="2.4"/><circle cx="153.4" cy="200.8" r="1.9"/><circle cx="155.5" cy="196.0" r="3.2"/><circle cx="153.7" cy="203.0" r="2.5"/><circle cx="155.2" cy="203.4" r="3.2"/><circle cx="158.2" cy="195.0" r="2.7"/><circle cx="159.3" cy="195.7" r="2.6"/><circle cx="153.4" cy="197.7" r="2.9"/><circle cx="148.1" cy="201.2" r="2.7"/><circle cx="153.3" cy="200.8" r="3.2"/><circle cx="156.9" cy="202.8" r="2.3"/><circle cx="151.9" cy="205.2" r="3.3"/><circle cx="153.3" cy="205.1" r="2.2"/><circle cx="149.7" cy="197.7" r="2.0"/><circle cx="155.3" cy="202.1" r="3.2"/><circle cx="150.5" cy="199.4" r="3.2"/><circle cx="158.2" cy="199.2" r="1.9"/><circle cx="154.4" cy="201.3" r="2.3"/><circle cx="156.4" cy="201.2" r="2.1"/><circle cx="147.9" cy="196.5" r="2.9"/><circle cx="149.9" cy="201.7" r="2.5"/><circle cx="150.8" cy="202.2" r="1.8"/><circle cx="152.5" cy="206.2" r="1.9"/><circle cx="148.3" cy="199.2" r="3.1"/><circle cx="155.5" cy="208.3" r="0.9"/><circle cx="146.2" cy="205.0" r="1.4"/><circle cx="159.7" cy="190.4" r="0.7"/><circle cx="163.4" cy="201.4" r="1.3"/><circle cx="144.2" cy="201.0" r="0.7"/><circle cx="145.5" cy="206.3" r="1.3"/><circle cx="160.2" cy="190.4" r="0.9"/></g></defs>
<use href="#q51" filter="url(#blobR)" fill="#962412"/>
<use href="#q51" filter="url(#blob)" fill="#700c08"/>
<g fill="#2a0202" opacity="0.7" filter="url(#blob2)"><ellipse cx="154.1" cy="199.7" rx="2.0" ry="2.1"/><ellipse cx="151.2" cy="198.9" rx="2.0" ry="2.1"/><ellipse cx="156.1" cy="198.3" rx="2.0" ry="2.1"/><ellipse cx="152.0" cy="197.0" rx="2.0" ry="2.1"/></g>
<defs><g id="q52"><ellipse cx="164.1" cy="196.8" rx="2.5" ry="3.0"/></g></defs>
<use href="#q52" filter="url(#blobR)" fill="#962412"/>
<use href="#q52" filter="url(#blob)" fill="#700c08"/>
<ellipse cx="164.1" cy="196.8" rx="1.2" ry="1.5" fill="#2a0202" opacity="0.85" filter="url(#blob)"/>
<defs><g id="q53"><ellipse cx="168.1" cy="204.8" rx="2.1" ry="1.8"/><circle cx="166.0" cy="205.2" r="1.0"/><circle cx="168.4" cy="203.6" r="1.6"/><circle cx="167.1" cy="203.7" r="1.1"/><circle cx="168.1" cy="206.8" r="1.4"/><circle cx="170.8" cy="206.7" r="1.1"/><circle cx="164.7" cy="203.1" r="0.9"/></g></defs>
<use href="#q53" filter="url(#blobR)" fill="#962412"/>
<use href="#q53" filter="url(#blob)" fill="#700c08"/>
<ellipse cx="168.1" cy="204.8" rx="1.8" ry="1.5" fill="#2a0202" opacity="0.85" filter="url(#blob)"/>
<defs><g id="q54"><ellipse cx="138.3" cy="211.2" rx="2.5" ry="2.5"/></g></defs>
<use href="#q54" filter="url(#blobR)" fill="#962412"/>
<use href="#q54" filter="url(#blob)" fill="#700c08"/>
<ellipse cx="138.3" cy="211.2" rx="1.2" ry="1.2" fill="#2a0202" opacity="0.85" filter="url(#blob)"/>
<defs><g id="q55"><ellipse cx="118.9" cy="209.2" rx="1.5" ry="1.5"/></g></defs>
<use href="#q55" filter="url(#blobR)" fill="#962412"/>
<use href="#q55" filter="url(#blob)" fill="#700c08"/>
<ellipse cx="118.9" cy="209.2" rx="0.8" ry="0.8" fill="#2a0202" opacity="0.85" filter="url(#blob)"/>
</g>
<circle cx="159.9" cy="139.6" r="16.8" fill="#dedce4" stroke="#a9a7b4" stroke-width="0.7"/>
<circle cx="159.9" cy="139.6" r="15.900000000000002" fill="none" stroke="#c4c2cc" stroke-width="0.6"/>
<circle cx="160.20000000000002" cy="139.79999999999998" r="15.100000000000001" fill="url(#dishC)"/>
<circle cx="160.20000000000002" cy="139.79999999999998" r="15.100000000000001" filter="url(#dspk)"/>
<rect x="166.1" y="218.5" width="10.4" height="2.1" fill="#f4f4f4"/>
<g clip-path="url(#clip_cR)">
<rect x="182" y="121" width="135" height="101.6" filter="url(#speckR)"/>
<ellipse cx="290" cy="215" rx="25" ry="10" fill="#e0d2c6" opacity="0.45" filter="url(#blob3)"/>
<ellipse cx="262" cy="190" rx="14" ry="22" fill="#d6c8bc" opacity="0.35" filter="url(#blob3)"/>
<ellipse cx="195" cy="135" rx="14" ry="16" fill="#6c6a62" opacity="0.45" filter="url(#blob3)"/>
<ellipse cx="190" cy="195" rx="9" ry="10" fill="#6c6a62" opacity="0.35" filter="url(#blob3)"/>
<ellipse cx="245" cy="185" rx="10" ry="8" fill="#6c6a62" opacity="0.35" filter="url(#blob3)"/>
<ellipse cx="255" cy="145" rx="12" ry="6" fill="#6c6a62" opacity="0.3" filter="url(#blob3)"/>
<ellipse cx="215" cy="210" rx="10" ry="8" fill="#6c6a62" opacity="0.3" filter="url(#blob3)"/>
<ellipse cx="285" cy="150" rx="8" ry="6" fill="#6c6a62" opacity="0.25" filter="url(#blob3)"/>
<ellipse cx="228" cy="155" rx="8" ry="6" fill="#6c6a62" opacity="0.3" filter="url(#blob3)"/>
<ellipse cx="203.1" cy="125.2" rx="7.2" ry="7.7" fill="#e4d4ca" opacity="0.35" filter="url(#blob2)"/>
<ellipse cx="215.2" cy="123.0" rx="5.9" ry="5.5" fill="#e4d4ca" opacity="0.35" filter="url(#blob2)"/>
<ellipse cx="226.1" cy="135.0" rx="11.0" ry="9.5" fill="#e4d4ca" opacity="0.35" filter="url(#blob2)"/>
<ellipse cx="225.7" cy="145.4" rx="9.5" ry="8.9" fill="#e4d4ca" opacity="0.35" filter="url(#blob2)"/>
<ellipse cx="217.8" cy="138.4" rx="5.4" ry="6.0" fill="#e4d4ca" opacity="0.35" filter="url(#blob2)"/>
<ellipse cx="206.1" cy="133.9" rx="5.2" ry="6.5" fill="#e4d4ca" opacity="0.35" filter="url(#blob2)"/>
<ellipse cx="194.0" cy="145.8" rx="5.5" ry="5.5" fill="#e4d4ca" opacity="0.35" filter="url(#blob2)"/>
<ellipse cx="207.1" cy="148.8" rx="6.2" ry="6.5" fill="#e4d4ca" opacity="0.35" filter="url(#blob2)"/>
<ellipse cx="212.8" cy="147.8" rx="5.5" ry="5.5" fill="#e4d4ca" opacity="0.35" filter="url(#blob2)"/>
<ellipse cx="197.4" cy="152.8" rx="7.0" ry="6.5" fill="#e4d4ca" opacity="0.35" filter="url(#blob2)"/>
<ellipse cx="183.5" cy="157.2" rx="6.0" ry="7.9" fill="#e4d4ca" opacity="0.35" filter="url(#blob2)"/>
<ellipse cx="188.4" cy="158.7" rx="6.0" ry="5.5" fill="#e4d4ca" opacity="0.35" filter="url(#blob2)"/>
<ellipse cx="213.3" cy="155.2" rx="5.0" ry="4.9" fill="#e4d4ca" opacity="0.35" filter="url(#blob2)"/>
<ellipse cx="237.1" cy="152.3" rx="6.5" ry="6.5" fill="#e4d4ca" opacity="0.35" filter="url(#blob2)"/>
<ellipse cx="248.1" cy="137.9" rx="6.0" ry="5.5" fill="#e4d4ca" opacity="0.35" filter="url(#blob2)"/>
<ellipse cx="245.6" cy="162.8" rx="13.5" ry="12.3" fill="#e4d4ca" opacity="0.35" filter="url(#blob2)"/>
<ellipse cx="231.1" cy="164.2" rx="6.0" ry="6.0" fill="#e4d4ca" opacity="0.35" filter="url(#blob2)"/>
<ellipse cx="204.4" cy="164.2" rx="6.0" ry="6.0" fill="#e4d4ca" opacity="0.35" filter="url(#blob2)"/>
<ellipse cx="211.3" cy="166.2" rx="7.0" ry="7.0" fill="#e4d4ca" opacity="0.35" filter="url(#blob2)"/>
<ellipse cx="223.7" cy="170.3" rx="5.5" ry="5.2" fill="#e4d4ca" opacity="0.35" filter="url(#blob2)"/>
<ellipse cx="255.5" cy="124.5" rx="8.0" ry="6.0" fill="#e4d4ca" opacity="0.35" filter="url(#blob2)"/>
<ellipse cx="265.5" cy="123.5" rx="7.0" ry="6.0" fill="#e4d4ca" opacity="0.35" filter="url(#blob2)"/>
<ellipse cx="278.8" cy="125.0" rx="10.4" ry="7.5" fill="#e4d4ca" opacity="0.35" filter="url(#blob2)"/>
<ellipse cx="254.5" cy="135.5" rx="6.0" ry="6.0" fill="#e4d4ca" opacity="0.35" filter="url(#blob2)"/>
<ellipse cx="271.9" cy="137.4" rx="12.5" ry="9.0" fill="#e4d4ca" opacity="0.35" filter="url(#blob2)"/>
<ellipse cx="251.0" cy="138.5" rx="5.5" ry="6.0" fill="#e4d4ca" opacity="0.35" filter="url(#blob2)"/>
<ellipse cx="269.4" cy="148.8" rx="6.0" ry="5.5" fill="#e4d4ca" opacity="0.35" filter="url(#blob2)"/>
<ellipse cx="254.0" cy="155.8" rx="8.5" ry="8.4" fill="#e4d4ca" opacity="0.35" filter="url(#blob2)"/>
<ellipse cx="266.9" cy="162.2" rx="11.5" ry="9.9" fill="#e4d4ca" opacity="0.35" filter="url(#blob2)"/>
<ellipse cx="285.8" cy="165.3" rx="13.4" ry="10.2" fill="#e4d4ca" opacity="0.35" filter="url(#blob2)"/>
<ellipse cx="302.6" cy="160.8" rx="9.5" ry="8.4" fill="#e4d4ca" opacity="0.35" filter="url(#blob2)"/>
<ellipse cx="313.8" cy="155.8" rx="7.7" ry="10.4" fill="#e4d4ca" opacity="0.35" filter="url(#blob2)"/>
<ellipse cx="311.3" cy="167.8" rx="10.2" ry="7.7" fill="#e4d4ca" opacity="0.35" filter="url(#blob2)"/>
<ellipse cx="310.6" cy="124.0" rx="5.5" ry="5.5" fill="#e4d4ca" opacity="0.35" filter="url(#blob2)"/>
<ellipse cx="315.3" cy="147.8" rx="6.2" ry="6.5" fill="#e4d4ca" opacity="0.35" filter="url(#blob2)"/>
<ellipse cx="189.4" cy="182.9" rx="7.0" ry="5.5" fill="#e4d4ca" opacity="0.35" filter="url(#blob2)"/>
<ellipse cx="188.9" cy="196.3" rx="5.0" ry="5.0" fill="#e4d4ca" opacity="0.35" filter="url(#blob2)"/>
<ellipse cx="211.3" cy="188.4" rx="11.9" ry="11.0" fill="#e4d4ca" opacity="0.35" filter="url(#blob2)"/>
<ellipse cx="207.8" cy="200.3" rx="7.5" ry="7.0" fill="#e4d4ca" opacity="0.35" filter="url(#blob2)"/>
<ellipse cx="222.7" cy="201.3" rx="6.5" ry="6.0" fill="#e4d4ca" opacity="0.35" filter="url(#blob2)"/>
<ellipse cx="233.1" cy="176.4" rx="14.0" ry="9.0" fill="#e4d4ca" opacity="0.35" filter="url(#blob2)"/>
<ellipse cx="230.6" cy="188.4" rx="8.5" ry="7.0" fill="#e4d4ca" opacity="0.35" filter="url(#blob2)"/>
<ellipse cx="241.8" cy="196.9" rx="11.7" ry="10.5" fill="#e4d4ca" opacity="0.35" filter="url(#blob2)"/>
<ellipse cx="219.2" cy="210.8" rx="8.9" ry="8.4" fill="#e4d4ca" opacity="0.35" filter="url(#blob2)"/>
<ellipse cx="190.9" cy="210.2" rx="6.5" ry="6.0" fill="#e4d4ca" opacity="0.35" filter="url(#blob2)"/>
<ellipse cx="196.9" cy="214.1" rx="7.5" ry="11.0" fill="#e4d4ca" opacity="0.35" filter="url(#blob2)"/>
<ellipse cx="243.1" cy="218.2" rx="6.0" ry="6.0" fill="#e4d4ca" opacity="0.35" filter="url(#blob2)"/>
<ellipse cx="248.5" cy="186.4" rx="5.5" ry="6.0" fill="#e4d4ca" opacity="0.35" filter="url(#blob2)"/>
<ellipse cx="262.4" cy="175.4" rx="10.9" ry="10.0" fill="#e4d4ca" opacity="0.35" filter="url(#blob2)"/>
<ellipse cx="283.8" cy="174.0" rx="8.4" ry="6.5" fill="#e4d4ca" opacity="0.35" filter="url(#blob2)"/>
<ellipse cx="252.0" cy="185.9" rx="6.5" ry="7.5" fill="#e4d4ca" opacity="0.35" filter="url(#blob2)"/>
<ellipse cx="285.2" cy="189.4" rx="11.9" ry="11.0" fill="#e4d4ca" opacity="0.35" filter="url(#blob2)"/>
<ellipse cx="297.6" cy="182.4" rx="7.5" ry="9.0" fill="#e4d4ca" opacity="0.35" filter="url(#blob2)"/>
<ellipse cx="287.2" cy="202.8" rx="14.9" ry="11.4" fill="#e4d4ca" opacity="0.35" filter="url(#blob2)"/>
<ellipse cx="306.1" cy="204.8" rx="12.9" ry="10.4" fill="#e4d4ca" opacity="0.35" filter="url(#blob2)"/>
<ellipse cx="308.6" cy="193.4" rx="9.4" ry="8.0" fill="#e4d4ca" opacity="0.35" filter="url(#blob2)"/>
<ellipse cx="258.4" cy="203.2" rx="8.9" ry="7.9" fill="#e4d4ca" opacity="0.35" filter="url(#blob2)"/>
<ellipse cx="255.9" cy="213.2" rx="10.4" ry="9.0" fill="#e4d4ca" opacity="0.35" filter="url(#blob2)"/>
<ellipse cx="274.8" cy="215.7" rx="6.5" ry="6.5" fill="#e4d4ca" opacity="0.35" filter="url(#blob2)"/>
<ellipse cx="270.4" cy="220.8" rx="6.0" ry="5.7" fill="#e4d4ca" opacity="0.35" filter="url(#blob2)"/>
<ellipse cx="314.3" cy="216.2" rx="7.2" ry="6.0" fill="#e4d4ca" opacity="0.35" filter="url(#blob2)"/>
<ellipse cx="302.6" cy="177.0" rx="5.5" ry="5.5" fill="#e4d4ca" opacity="0.35" filter="url(#blob2)"/>
<ellipse cx="308.6" cy="185.9" rx="5.5" ry="5.5" fill="#e4d4ca" opacity="0.35" filter="url(#blob2)"/>
<defs><g id="q56"><ellipse cx="203.1" cy="125.2" rx="2.2" ry="2.5"/><circle cx="202.8" cy="125.0" r="1.3"/><circle cx="200.1" cy="126.1" r="1.6"/><circle cx="204.7" cy="123.6" r="1.3"/><circle cx="203.2" cy="128.7" r="1.6"/><circle cx="202.9" cy="125.7" r="1.5"/><circle cx="202.2" cy="123.1" r="1.3"/><circle cx="200.7" cy="120.4" r="0.9"/><circle cx="207.1" cy="126.2" r="1.0"/><circle cx="201.5" cy="121.1" r="1.3"/></g></defs>
<use href="#q56" filter="url(#blobR)" fill="#b02a18"/>
<use href="#q56" filter="url(#blob)" fill="#8a1410"/>
<g fill="#4a0404" opacity="0.7" filter="url(#blob2)"><ellipse cx="203.0" cy="124.2" rx="0.9" ry="1.1"/><ellipse cx="203.5" cy="127.0" rx="0.9" ry="1.1"/><ellipse cx="202.6" cy="126.6" rx="0.9" ry="1.1"/><ellipse cx="203.1" cy="125.6" rx="0.9" ry="1.1"/></g>
<defs><g id="q57"><ellipse cx="215.2" cy="123.0" rx="2.4" ry="2.0"/></g></defs>
<use href="#q57" filter="url(#blobR)" fill="#b02a18"/>
<use href="#q57" filter="url(#blob)" fill="#8a1410"/>
<ellipse cx="215.2" cy="123.0" rx="1.2" ry="1.0" fill="#4a0404" opacity="0.85" filter="url(#blob)"/>
<defs><g id="q58"><ellipse cx="226.1" cy="135.0" rx="4.5" ry="3.6"/><circle cx="226.4" cy="132.2" r="2.6"/><circle cx="223.4" cy="135.1" r="1.7"/><circle cx="221.7" cy="137.1" r="2.6"/><circle cx="228.6" cy="137.5" r="1.7"/><circle cx="228.5" cy="134.7" r="1.5"/><circle cx="229.8" cy="136.2" r="2.5"/><circle cx="230.2" cy="132.1" r="2.6"/><circle cx="229.5" cy="133.8" r="1.7"/><circle cx="231.2" cy="133.3" r="1.5"/><circle cx="224.2" cy="132.3" r="1.9"/><circle cx="224.9" cy="136.8" r="1.4"/><circle cx="225.5" cy="138.0" r="2.6"/><circle cx="230.6" cy="138.5" r="1.7"/><circle cx="222.6" cy="138.6" r="2.4"/><circle cx="224.9" cy="135.5" r="2.0"/><circle cx="221.9" cy="138.5" r="1.7"/><circle cx="222.2" cy="138.6" r="1.5"/><circle cx="218.0" cy="139.1" r="1.2"/><circle cx="233.4" cy="136.5" r="0.7"/><circle cx="233.3" cy="131.9" r="1.2"/><circle cx="232.8" cy="131.0" r="0.9"/><circle cx="234.9" cy="133.1" r="0.9"/><circle cx="224.4" cy="128.5" r="0.9"/></g></defs>
<use href="#q58" filter="url(#blobR)" fill="#b02a18"/>
<use href="#q58" filter="url(#blob)" fill="#8a1410"/>
<g fill="#4a0404" opacity="0.7" filter="url(#blob2)"><ellipse cx="228.7" cy="135.0" rx="1.9" ry="1.5"/><ellipse cx="228.0" cy="134.1" rx="1.9" ry="1.5"/><ellipse cx="226.2" cy="135.0" rx="1.9" ry="1.5"/><ellipse cx="226.3" cy="136.3" rx="1.9" ry="1.5"/></g>
<defs><g id="q59"><ellipse cx="225.7" cy="145.4" rx="3.6" ry="3.2"/><circle cx="230.5" cy="144.2" r="1.8"/><circle cx="225.7" cy="148.4" r="1.9"/><circle cx="227.7" cy="144.5" r="2.2"/><circle cx="225.4" cy="141.2" r="2.2"/><circle cx="223.4" cy="143.8" r="1.7"/><circle cx="222.8" cy="148.5" r="1.4"/><circle cx="227.1" cy="149.2" r="1.6"/><circle cx="226.6" cy="145.7" r="2.0"/><circle cx="223.4" cy="149.4" r="2.3"/><circle cx="228.3" cy="145.2" r="1.4"/><circle cx="228.7" cy="147.2" r="2.1"/><circle cx="223.4" cy="146.1" r="1.8"/><circle cx="220.3" cy="140.8" r="1.2"/><circle cx="229.9" cy="139.9" r="0.8"/><circle cx="229.3" cy="140.4" r="1.1"/><circle cx="220.4" cy="150.3" r="0.8"/><circle cx="225.8" cy="151.3" r="0.8"/></g></defs>
<use href="#q59" filter="url(#blobR)" fill="#b02a18"/>
<use href="#q59" filter="url(#blob)" fill="#8a1410"/>
<g fill="#4a0404" opacity="0.7" filter="url(#blob2)"><ellipse cx="226.9" cy="144.5" rx="1.5" ry="1.4"/><ellipse cx="225.2" cy="146.3" rx="1.5" ry="1.4"/><ellipse cx="227.1" cy="145.3" rx="1.5" ry="1.4"/><ellipse cx="226.0" cy="147.4" rx="1.5" ry="1.4"/></g>
<defs><g id="q60"><ellipse cx="217.8" cy="138.4" rx="1.9" ry="2.5"/></g></defs>
<use href="#q60" filter="url(#blobR)" fill="#b02a18"/>
<use href="#q60" filter="url(#blob)" fill="#8a1410"/>
<ellipse cx="217.8" cy="138.4" rx="1.0" ry="1.2" fill="#4a0404" opacity="0.85" filter="url(#blob)"/>
<defs><g id="q61"><ellipse cx="206.1" cy="133.9" rx="1.8" ry="3.0"/></g></defs>
<use href="#q61" filter="url(#blobR)" fill="#b02a18"/>
<use href="#q61" filter="url(#blob)" fill="#8a1410"/>
<ellipse cx="206.1" cy="133.9" rx="0.9" ry="1.5" fill="#4a0404" opacity="0.85" filter="url(#blob)"/>
<defs><g id="q62"><ellipse cx="194.0" cy="145.8" rx="2.0" ry="2.0"/></g></defs>
<use href="#q62" filter="url(#blobR)" fill="#b02a18"/>
<use href="#q62" filter="url(#blob)" fill="#8a1410"/>
<ellipse cx="194.0" cy="145.8" rx="1.0" ry="1.0" fill="#4a0404" opacity="0.85" filter="url(#blob)"/>
<defs><g id="q63"><ellipse cx="207.1" cy="148.8" rx="1.6" ry="1.8"/><circle cx="205.7" cy="146.7" r="1.0"/><circle cx="205.0" cy="149.2" r="1.4"/><circle cx="207.5" cy="148.5" r="1.1"/><circle cx="209.2" cy="151.0" r="1.4"/><circle cx="203.9" cy="146.8" r="1.0"/></g></defs>
<use href="#q63" filter="url(#blobR)" fill="#b02a18"/>
<use href="#q63" filter="url(#blob)" fill="#8a1410"/>
<ellipse cx="207.1" cy="148.8" rx="1.4" ry="1.5" fill="#4a0404" opacity="0.85" filter="url(#blob)"/>
<defs><g id="q64"><ellipse cx="212.8" cy="147.8" rx="2.0" ry="2.0"/></g></defs>
<use href="#q64" filter="url(#blobR)" fill="#b02a18"/>
<use href="#q64" filter="url(#blob)" fill="#8a1410"/>
<ellipse cx="212.8" cy="147.8" rx="1.0" ry="1.0" fill="#4a0404" opacity="0.85" filter="url(#blob)"/>
<defs><g id="q65"><ellipse cx="197.4" cy="152.8" rx="2.1" ry="1.8"/><circle cx="198.7" cy="151.5" r="1.2"/><circle cx="197.9" cy="150.4" r="1.1"/><circle cx="195.5" cy="151.7" r="1.2"/><circle cx="196.6" cy="153.5" r="1.1"/><circle cx="197.3" cy="156.4" r="1.2"/><circle cx="198.4" cy="155.7" r="0.9"/><circle cx="195.8" cy="149.9" r="0.9"/></g></defs>
<use href="#q65" filter="url(#blobR)" fill="#b02a18"/>
<use href="#q65" filter="url(#blob)" fill="#8a1410"/>
<ellipse cx="197.4" cy="152.8" rx="1.8" ry="1.5" fill="#4a0404" opacity="0.85" filter="url(#blob)"/>
<defs><g id="q66"><ellipse cx="183.5" cy="157.2" rx="2.5" ry="4.4"/></g></defs>
<use href="#q66" filter="url(#blobR)" fill="#b02a18"/>
<use href="#q66" filter="url(#blob)" fill="#8a1410"/>
<ellipse cx="183.5" cy="157.2" rx="1.2" ry="2.2" fill="#4a0404" opacity="0.85" filter="url(#blob)"/>
<defs><g id="q67"><ellipse cx="188.4" cy="158.7" rx="2.5" ry="2.0"/></g></defs>
<use href="#q67" filter="url(#blobR)" fill="#b02a18"/>
<use href="#q67" filter="url(#blob)" fill="#8a1410"/>
<ellipse cx="188.4" cy="158.7" rx="1.2" ry="1.0" fill="#4a0404" opacity="0.85" filter="url(#blob)"/>
<defs><g id="q68"><ellipse cx="213.3" cy="155.2" rx="1.5" ry="1.4"/></g></defs>
<use href="#q68" filter="url(#blobR)" fill="#b02a18"/>
<use href="#q68" filter="url(#blob)" fill="#8a1410"/>
<ellipse cx="213.3" cy="155.2" rx="0.8" ry="0.7" fill="#4a0404" opacity="0.85" filter="url(#blob)"/>
<defs><g id="q69"><ellipse cx="237.1" cy="152.3" rx="1.8" ry="1.8"/><circle cx="237.8" cy="154.5" r="1.3"/><circle cx="237.8" cy="152.6" r="1.3"/><circle cx="235.2" cy="151.7" r="1.1"/><circle cx="239.0" cy="155.5" r="1.0"/><circle cx="236.4" cy="155.6" r="1.4"/><circle cx="235.7" cy="155.6" r="1.0"/></g></defs>
<use href="#q69" filter="url(#blobR)" fill="#b02a18"/>
<use href="#q69" filter="url(#blob)" fill="#8a1410"/>
<ellipse cx="237.1" cy="152.3" rx="1.5" ry="1.5" fill="#4a0404" opacity="0.85" filter="url(#blob)"/>
<defs><g id="q70"><ellipse cx="248.1" cy="137.9" rx="2.5" ry="2.0"/></g></defs>
<use href="#q70" filter="url(#blobR)" fill="#b02a18"/>
<use href="#q70" filter="url(#blob)" fill="#8a1410"/>
<ellipse cx="248.1" cy="137.9" rx="1.2" ry="1.0" fill="#4a0404" opacity="0.85" filter="url(#blob)"/>
<defs><g id="q71"><ellipse cx="245.6" cy="162.8" rx="6.0" ry="5.3"/><circle cx="238.7" cy="166.3" r="3.6"/><circle cx="243.1" cy="165.3" r="3.1"/><circle cx="245.7" cy="163.3" r="3.4"/><circle cx="238.8" cy="165.9" r="2.5"/><circle cx="249.8" cy="159.4" r="2.1"/><circle cx="251.8" cy="163.3" r="3.0"/><circle cx="247.7" cy="161.6" r="2.9"/><circle cx="241.4" cy="166.7" r="2.1"/><circle cx="244.3" cy="168.1" r="3.5"/><circle cx="250.1" cy="166.1" r="3.2"/><circle cx="249.2" cy="162.1" r="2.1"/><circle cx="253.4" cy="160.2" r="2.7"/><circle cx="253.2" cy="165.2" r="2.5"/><circle cx="251.0" cy="159.5" r="3.3"/><circle cx="249.6" cy="168.4" r="2.2"/><circle cx="239.1" cy="166.7" r="3.3"/><circle cx="247.2" cy="166.0" r="2.5"/><circle cx="240.3" cy="162.3" r="2.0"/><circle cx="245.7" cy="169.2" r="3.4"/><circle cx="251.7" cy="164.2" r="3.2"/><circle cx="253.1" cy="164.4" r="2.0"/><circle cx="240.5" cy="159.6" r="2.9"/><circle cx="243.7" cy="167.3" r="2.9"/><circle cx="239.4" cy="165.5" r="2.6"/><circle cx="244.4" cy="163.2" r="2.9"/><circle cx="241.5" cy="163.0" r="3.2"/><circle cx="246.6" cy="157.8" r="2.1"/><circle cx="242.8" cy="163.2" r="2.1"/><circle cx="243.2" cy="163.8" r="2.6"/><circle cx="243.8" cy="162.7" r="3.0"/><circle cx="251.8" cy="166.0" r="3.2"/><circle cx="243.6" cy="162.7" r="2.7"/><circle cx="239.6" cy="167.9" r="2.1"/><circle cx="250.8" cy="157.0" r="3.1"/><circle cx="247.0" cy="159.8" r="3.6"/><circle cx="232.3" cy="163.4" r="1.3"/><circle cx="252.0" cy="172.5" r="1.4"/><circle cx="255.8" cy="166.8" r="1.2"/><circle cx="252.6" cy="172.5" r="0.9"/><circle cx="249.7" cy="154.3" r="1.1"/><circle cx="254.9" cy="158.2" r="0.9"/><circle cx="234.5" cy="162.4" r="0.7"/><circle cx="249.9" cy="171.3" r="1.4"/></g></defs>
<use href="#q71" filter="url(#blobR)" fill="#b02a18"/>
<use href="#q71" filter="url(#blob)" fill="#8a1410"/>
<g fill="#4a0404" opacity="0.7" filter="url(#blob2)"><ellipse cx="243.8" cy="159.6" rx="2.5" ry="2.2"/><ellipse cx="247.3" cy="165.5" rx="2.5" ry="2.2"/><ellipse cx="247.3" cy="164.2" rx="2.5" ry="2.2"/><ellipse cx="244.5" cy="161.7" rx="2.5" ry="2.2"/></g>
<defs><g id="q72"><ellipse cx="231.1" cy="164.2" rx="2.5" ry="2.5"/></g></defs>
<use href="#q72" filter="url(#blobR)" fill="#b02a18"/>
<use href="#q72" filter="url(#blob)" fill="#8a1410"/>
<ellipse cx="231.1" cy="164.2" rx="1.2" ry="1.2" fill="#4a0404" opacity="0.85" filter="url(#blob)"/>
<defs><g id="q73"><ellipse cx="204.4" cy="164.2" rx="2.5" ry="2.5"/></g></defs>
<use href="#q73" filter="url(#blobR)" fill="#b02a18"/>
<use href="#q73" filter="url(#blob)" fill="#8a1410"/>
<ellipse cx="204.4" cy="164.2" rx="1.2" ry="1.2" fill="#4a0404" opacity="0.85" filter="url(#blob)"/>
<defs><g id="q74"><ellipse cx="211.3" cy="166.2" rx="2.1" ry="2.1"/><circle cx="212.8" cy="164.6" r="1.5"/><circle cx="212.0" cy="165.6" r="1.8"/><circle cx="210.0" cy="164.8" r="1.6"/><circle cx="211.0" cy="169.1" r="1.5"/><circle cx="208.5" cy="169.6" r="1.0"/><circle cx="213.3" cy="170.2" r="0.7"/><circle cx="212.9" cy="162.8" r="1.1"/></g></defs>
<use href="#q74" filter="url(#blobR)" fill="#b02a18"/>
<use href="#q74" filter="url(#blob)" fill="#8a1410"/>
<g fill="#4a0404" opacity="0.7" filter="url(#blob2)"><ellipse cx="212.2" cy="166.1" rx="0.9" ry="0.9"/><ellipse cx="211.0" cy="165.8" rx="0.9" ry="0.9"/><ellipse cx="211.4" cy="166.2" rx="0.9" ry="0.9"/><ellipse cx="211.9" cy="167.0" rx="0.9" ry="0.9"/></g>
<defs><g id="q75"><ellipse cx="223.7" cy="170.3" rx="2.0" ry="1.7"/></g></defs>
<use href="#q75" filter="url(#blobR)" fill="#b02a18"/>
<use href="#q75" filter="url(#blob)" fill="#8a1410"/>
<ellipse cx="223.7" cy="170.3" rx="1.0" ry="0.8" fill="#4a0404" opacity="0.85" filter="url(#blob)"/>
<defs><g id="q76"><ellipse cx="255.5" cy="124.5" rx="4.5" ry="2.5"/></g></defs>
<use href="#q76" filter="url(#blobR)" fill="#b02a18"/>
<use href="#q76" filter="url(#blob)" fill="#8a1410"/>
<ellipse cx="255.5" cy="124.5" rx="2.2" ry="1.2" fill="#4a0404" opacity="0.85" filter="url(#blob)"/>
<defs><g id="q77"><ellipse cx="265.5" cy="123.5" rx="3.5" ry="2.5"/></g></defs>
<use href="#q77" filter="url(#blobR)" fill="#b02a18"/>
<use href="#q77" filter="url(#blob)" fill="#8a1410"/>
<ellipse cx="265.5" cy="123.5" rx="1.8" ry="1.2" fill="#4a0404" opacity="0.85" filter="url(#blob)"/>
<defs><g id="q78"><ellipse cx="278.8" cy="125.0" rx="4.2" ry="2.4"/><circle cx="274.9" cy="126.0" r="1.9"/><circle cx="280.7" cy="126.2" r="1.7"/><circle cx="279.0" cy="125.0" r="1.4"/><circle cx="281.5" cy="126.3" r="1.3"/><circle cx="274.8" cy="123.7" r="1.3"/><circle cx="275.9" cy="123.4" r="1.3"/><circle cx="281.4" cy="124.3" r="1.3"/><circle cx="282.6" cy="126.5" r="1.9"/><circle cx="279.5" cy="122.9" r="1.4"/><circle cx="283.5" cy="125.2" r="1.6"/><circle cx="276.0" cy="127.2" r="1.5"/><circle cx="286.8" cy="123.1" r="0.9"/><circle cx="284.5" cy="122.7" r="1.1"/><circle cx="272.5" cy="127.4" r="0.7"/><circle cx="280.0" cy="121.0" r="1.1"/></g></defs>
<use href="#q78" filter="url(#blobR)" fill="#b02a18"/>
<use href="#q78" filter="url(#blob)" fill="#8a1410"/>
<g fill="#4a0404" opacity="0.7" filter="url(#blob2)"><ellipse cx="279.2" cy="124.9" rx="1.7" ry="1.0"/><ellipse cx="279.3" cy="126.0" rx="1.7" ry="1.0"/><ellipse cx="276.7" cy="124.9" rx="1.7" ry="1.0"/><ellipse cx="279.0" cy="124.7" rx="1.7" ry="1.0"/></g>
<defs><g id="q79"><ellipse cx="254.5" cy="135.5" rx="2.5" ry="2.5"/></g></defs>
<use href="#q79" filter="url(#blobR)" fill="#b02a18"/>
<use href="#q79" filter="url(#blob)" fill="#8a1410"/>
<ellipse cx="254.5" cy="135.5" rx="1.2" ry="1.2" fill="#4a0404" opacity="0.85" filter="url(#blob)"/>
<defs><g id="q80"><ellipse cx="271.9" cy="137.4" rx="5.4" ry="3.3"/><circle cx="270.3" cy="139.7" r="1.4"/><circle cx="277.0" cy="134.7" r="2.1"/><circle cx="278.8" cy="137.5" r="2.2"/><circle cx="265.5" cy="138.2" r="1.9"/><circle cx="272.2" cy="138.8" r="1.6"/><circle cx="276.1" cy="138.0" r="2.2"/><circle cx="269.5" cy="133.3" r="2.1"/><circle cx="271.3" cy="140.8" r="1.8"/><circle cx="273.2" cy="134.1" r="1.7"/><circle cx="267.2" cy="133.8" r="1.6"/><circle cx="272.5" cy="137.0" r="1.6"/><circle cx="272.4" cy="141.3" r="2.4"/><circle cx="271.7" cy="134.7" r="2.3"/><circle cx="270.1" cy="139.3" r="2.4"/><circle cx="267.5" cy="134.5" r="2.1"/><circle cx="277.0" cy="136.9" r="2.3"/><circle cx="269.6" cy="133.3" r="1.8"/><circle cx="270.9" cy="133.9" r="1.7"/><circle cx="273.3" cy="140.9" r="1.4"/><circle cx="279.8" cy="134.3" r="0.7"/><circle cx="281.1" cy="141.8" r="0.9"/><circle cx="277.5" cy="141.6" r="0.7"/><circle cx="268.0" cy="131.1" r="1.2"/><circle cx="271.1" cy="131.8" r="1.1"/></g></defs>
<use href="#q80" filter="url(#blobR)" fill="#b02a18"/>
<use href="#q80" filter="url(#blob)" fill="#8a1410"/>
<g fill="#4a0404" opacity="0.7" filter="url(#blob2)"><ellipse cx="269.7" cy="138.9" rx="2.2" ry="1.4"/><ellipse cx="273.4" cy="135.4" rx="2.2" ry="1.4"/><ellipse cx="275.0" cy="138.2" rx="2.2" ry="1.4"/><ellipse cx="275.1" cy="136.2" rx="2.2" ry="1.4"/></g>
<defs><g id="q81"><ellipse cx="251.0" cy="138.5" rx="2.0" ry="2.5"/></g></defs>
<use href="#q81" filter="url(#blobR)" fill="#b02a18"/>
<use href="#q81" filter="url(#blob)" fill="#8a1410"/>
<ellipse cx="251.0" cy="138.5" rx="1.0" ry="1.2" fill="#4a0404" opacity="0.85" filter="url(#blob)"/>
<defs><g id="q82"><ellipse cx="269.4" cy="148.8" rx="2.5" ry="2.0"/></g></defs>
<use href="#q82" filter="url(#blobR)" fill="#b02a18"/>
<use href="#q82" filter="url(#blob)" fill="#8a1410"/>
<ellipse cx="269.4" cy="148.8" rx="1.2" ry="1.0" fill="#4a0404" opacity="0.85" filter="url(#blob)"/>
<defs><g id="q83"><ellipse cx="254.0" cy="155.8" rx="3.0" ry="3.0"/><circle cx="255.5" cy="156.9" r="1.4"/><circle cx="257.8" cy="156.6" r="2.1"/><circle cx="251.4" cy="152.9" r="1.9"/><circle cx="253.7" cy="157.0" r="1.4"/><circle cx="254.1" cy="153.8" r="1.6"/><circle cx="253.5" cy="156.0" r="1.5"/><circle cx="253.3" cy="159.2" r="1.7"/><circle cx="252.2" cy="159.5" r="1.8"/><circle cx="256.0" cy="153.1" r="1.3"/><circle cx="249.1" cy="158.7" r="1.2"/><circle cx="250.4" cy="160.8" r="1.1"/><circle cx="255.4" cy="162.1" r="0.8"/><circle cx="256.3" cy="151.0" r="0.7"/></g></defs>
<use href="#q83" filter="url(#blobR)" fill="#b02a18"/>
<use href="#q83" filter="url(#blob)" fill="#8a1410"/>
<g fill="#4a0404" opacity="0.7" filter="url(#blob2)"><ellipse cx="254.5" cy="157.4" rx="1.2" ry="1.2"/><ellipse cx="254.0" cy="155.7" rx="1.2" ry="1.2"/><ellipse cx="252.9" cy="155.8" rx="1.2" ry="1.2"/><ellipse cx="254.1" cy="155.4" rx="1.2" ry="1.2"/></g>
<defs><g id="q84"><ellipse cx="266.9" cy="162.2" rx="4.8" ry="3.9"/><circle cx="262.9" cy="162.4" r="2.6"/><circle cx="266.4" cy="167.6" r="1.9"/><circle cx="268.1" cy="166.7" r="2.1"/><circle cx="271.0" cy="165.0" r="1.6"/><circle cx="268.2" cy="157.8" r="2.5"/><circle cx="264.1" cy="159.9" r="2.0"/><circle cx="261.8" cy="165.4" r="1.6"/><circle cx="267.7" cy="161.7" r="1.8"/><circle cx="266.3" cy="167.4" r="2.1"/><circle cx="262.2" cy="165.8" r="1.8"/><circle cx="262.1" cy="163.2" r="2.5"/><circle cx="267.0" cy="157.8" r="2.0"/><circle cx="265.6" cy="164.2" r="2.6"/><circle cx="263.8" cy="158.2" r="1.7"/><circle cx="261.3" cy="164.1" r="2.3"/><circle cx="270.1" cy="164.9" r="2.6"/><circle cx="267.1" cy="164.6" r="1.9"/><circle cx="265.0" cy="157.4" r="1.7"/><circle cx="268.7" cy="164.5" r="1.9"/><circle cx="264.2" cy="161.9" r="1.9"/><circle cx="270.8" cy="170.3" r="1.2"/><circle cx="275.4" cy="167.4" r="0.8"/><circle cx="258.9" cy="168.0" r="1.3"/><circle cx="265.9" cy="154.9" r="0.8"/><circle cx="261.5" cy="157.1" r="0.8"/><circle cx="260.7" cy="166.5" r="1.0"/></g></defs>
<use href="#q84" filter="url(#blobR)" fill="#b02a18"/>
<use href="#q84" filter="url(#blob)" fill="#8a1410"/>
<g fill="#4a0404" opacity="0.7" filter="url(#blob2)"><ellipse cx="267.5" cy="160.3" rx="2.0" ry="1.6"/><ellipse cx="264.6" cy="162.2" rx="2.0" ry="1.6"/><ellipse cx="266.4" cy="162.3" rx="2.0" ry="1.6"/><ellipse cx="265.7" cy="161.5" rx="2.0" ry="1.6"/></g>
<defs><g id="q85"><ellipse cx="285.8" cy="165.3" rx="6.0" ry="4.0"/><circle cx="285.3" cy="160.0" r="2.1"/><circle cx="279.2" cy="163.2" r="2.1"/><circle cx="286.7" cy="170.1" r="2.7"/><circle cx="286.8" cy="160.7" r="2.7"/><circle cx="282.9" cy="161.3" r="2.1"/><circle cx="283.2" cy="169.5" r="1.7"/><circle cx="279.2" cy="167.8" r="2.5"/><circle cx="282.8" cy="163.3" r="2.1"/><circle cx="279.3" cy="166.6" r="2.1"/><circle cx="282.1" cy="160.5" r="1.8"/><circle cx="281.5" cy="161.2" r="2.0"/><circle cx="277.4" cy="165.7" r="1.6"/><circle cx="282.5" cy="164.7" r="2.6"/><circle cx="291.4" cy="163.9" r="1.7"/><circle cx="280.2" cy="163.5" r="2.5"/><circle cx="279.0" cy="165.0" r="2.6"/><circle cx="280.4" cy="164.9" r="2.8"/><circle cx="287.5" cy="169.9" r="2.1"/><circle cx="286.0" cy="163.4" r="2.8"/><circle cx="284.5" cy="166.4" r="1.9"/><circle cx="285.0" cy="165.7" r="2.1"/><circle cx="279.5" cy="167.6" r="2.0"/><circle cx="285.4" cy="168.0" r="2.5"/><circle cx="291.5" cy="163.8" r="1.8"/><circle cx="287.4" cy="162.0" r="1.8"/><circle cx="290.9" cy="169.0" r="2.6"/><circle cx="278.1" cy="159.6" r="1.1"/><circle cx="287.8" cy="174.1" r="0.9"/><circle cx="277.5" cy="158.8" r="1.3"/><circle cx="275.0" cy="166.8" r="1.1"/><circle cx="294.8" cy="171.4" r="0.9"/><circle cx="292.2" cy="159.5" r="1.0"/></g></defs>
<use href="#q85" filter="url(#blobR)" fill="#b02a18"/>
<use href="#q85" filter="url(#blob)" fill="#8a1410"/>
<g fill="#4a0404" opacity="0.7" filter="url(#blob2)"><ellipse cx="285.7" cy="166.6" rx="2.5" ry="1.7"/><ellipse cx="285.8" cy="165.4" rx="2.5" ry="1.7"/><ellipse cx="285.5" cy="164.5" rx="2.5" ry="1.7"/><ellipse cx="285.8" cy="166.3" rx="2.5" ry="1.7"/></g>
<defs><g id="q86"><ellipse cx="302.6" cy="160.8" rx="3.6" ry="3.0"/><circle cx="299.4" cy="161.1" r="1.9"/><circle cx="301.0" cy="158.6" r="2.2"/><circle cx="303.4" cy="160.0" r="2.1"/><circle cx="306.4" cy="158.7" r="1.4"/><circle cx="304.6" cy="157.8" r="1.3"/><circle cx="307.6" cy="161.0" r="1.9"/><circle cx="302.6" cy="162.1" r="1.4"/><circle cx="303.1" cy="164.4" r="1.6"/><circle cx="305.4" cy="164.0" r="2.1"/><circle cx="305.0" cy="164.2" r="1.9"/><circle cx="303.5" cy="157.4" r="2.2"/><circle cx="304.5" cy="154.5" r="0.8"/><circle cx="300.2" cy="155.3" r="1.2"/><circle cx="295.4" cy="163.2" r="1.1"/><circle cx="302.1" cy="166.1" r="0.8"/></g></defs>
<use href="#q86" filter="url(#blobR)" fill="#b02a18"/>
<use href="#q86" filter="url(#blob)" fill="#8a1410"/>
<g fill="#4a0404" opacity="0.7" filter="url(#blob2)"><ellipse cx="302.5" cy="160.8" rx="1.5" ry="1.2"/><ellipse cx="302.3" cy="160.8" rx="1.5" ry="1.2"/><ellipse cx="301.3" cy="160.8" rx="1.5" ry="1.2"/><ellipse cx="300.4" cy="160.3" rx="1.5" ry="1.2"/></g>
<defs><g id="q87"><ellipse cx="313.8" cy="155.8" rx="2.5" ry="4.2"/><circle cx="317.1" cy="156.0" r="1.6"/><circle cx="311.1" cy="153.9" r="1.9"/><circle cx="312.2" cy="158.5" r="2.0"/><circle cx="316.3" cy="157.9" r="1.7"/><circle cx="316.5" cy="156.6" r="1.8"/><circle cx="315.7" cy="154.3" r="2.0"/><circle cx="311.3" cy="155.5" r="1.9"/><circle cx="316.8" cy="156.8" r="1.7"/><circle cx="312.0" cy="160.4" r="1.5"/><circle cx="311.2" cy="156.4" r="1.8"/><circle cx="314.4" cy="159.5" r="1.5"/><circle cx="308.7" cy="152.8" r="0.9"/><circle cx="316.0" cy="148.7" r="1.1"/><circle cx="313.1" cy="163.9" r="1.4"/><circle cx="310.8" cy="148.4" r="0.9"/></g></defs>
<use href="#q87" filter="url(#blobR)" fill="#b02a18"/>
<use href="#q87" filter="url(#blob)" fill="#8a1410"/>
<g fill="#4a0404" opacity="0.7" filter="url(#blob2)"><ellipse cx="313.6" cy="156.6" rx="1.0" ry="1.7"/><ellipse cx="312.8" cy="154.7" rx="1.0" ry="1.7"/><ellipse cx="313.8" cy="155.6" rx="1.0" ry="1.7"/><ellipse cx="313.5" cy="153.0" rx="1.0" ry="1.7"/></g>
<defs><g id="q88"><ellipse cx="311.3" cy="167.8" rx="4.0" ry="2.5"/><circle cx="310.1" cy="167.6" r="1.4"/><circle cx="313.8" cy="167.9" r="1.9"/><circle cx="307.7" cy="166.0" r="1.8"/><circle cx="315.1" cy="166.4" r="1.7"/><circle cx="308.0" cy="165.7" r="1.7"/><circle cx="310.2" cy="166.4" r="1.7"/><circle cx="306.5" cy="168.7" r="1.3"/><circle cx="311.8" cy="168.5" r="1.8"/><circle cx="315.3" cy="166.4" r="1.5"/><circle cx="313.5" cy="165.0" r="1.6"/><circle cx="311.1" cy="169.8" r="1.5"/><circle cx="308.1" cy="172.2" r="1.1"/><circle cx="317.5" cy="166.1" r="1.1"/><circle cx="318.1" cy="168.9" r="1.3"/><circle cx="303.4" cy="165.4" r="1.0"/></g></defs>
<use href="#q88" filter="url(#blobR)" fill="#b02a18"/>
<use href="#q88" filter="url(#blob)" fill="#8a1410"/>
<g fill="#4a0404" opacity="0.7" filter="url(#blob2)"><ellipse cx="312.5" cy="167.9" rx="1.7" ry="1.0"/><ellipse cx="308.9" cy="166.9" rx="1.7" ry="1.0"/><ellipse cx="312.7" cy="167.7" rx="1.7" ry="1.0"/><ellipse cx="311.0" cy="167.9" rx="1.7" ry="1.0"/></g>
<defs><g id="q89"><ellipse cx="310.6" cy="124.0" rx="2.0" ry="2.0"/></g></defs>
<use href="#q89" filter="url(#blobR)" fill="#b02a18"/>
<use href="#q89" filter="url(#blob)" fill="#8a1410"/>
<ellipse cx="310.6" cy="124.0" rx="1.0" ry="1.0" fill="#4a0404" opacity="0.85" filter="url(#blob)"/>
<defs><g id="q90"><ellipse cx="315.3" cy="147.8" rx="1.6" ry="1.8"/><circle cx="314.6" cy="146.9" r="1.1"/><circle cx="315.5" cy="147.8" r="1.3"/><circle cx="316.9" cy="149.5" r="1.0"/><circle cx="317.2" cy="145.5" r="0.7"/><circle cx="314.7" cy="144.6" r="1.2"/></g></defs>
<use href="#q90" filter="url(#blobR)" fill="#b02a18"/>
<use href="#q90" filter="url(#blob)" fill="#8a1410"/>
<ellipse cx="315.3" cy="147.8" rx="1.3" ry="1.5" fill="#4a0404" opacity="0.85" filter="url(#blob)"/>
<defs><g id="q91"><ellipse cx="189.4" cy="182.9" rx="3.5" ry="2.0"/></g></defs>
<use href="#q91" filter="url(#blobR)" fill="#b02a18"/>
<use href="#q91" filter="url(#blob)" fill="#8a1410"/>
<ellipse cx="189.4" cy="182.9" rx="1.7" ry="1.0" fill="#4a0404" opacity="0.85" filter="url(#blob)"/>
<defs><g id="q92"><ellipse cx="188.9" cy="196.3" rx="1.5" ry="1.5"/></g></defs>
<use href="#q92" filter="url(#blobR)" fill="#b02a18"/>
<use href="#q92" filter="url(#blob)" fill="#8a1410"/>
<ellipse cx="188.9" cy="196.3" rx="0.7" ry="0.8" fill="#4a0404" opacity="0.85" filter="url(#blob)"/>
<defs><g id="q93"><ellipse cx="211.3" cy="188.4" rx="5.0" ry="4.5"/><circle cx="211.9" cy="189.7" r="2.8"/><circle cx="209.8" cy="182.6" r="2.7"/><circle cx="216.2" cy="190.9" r="2.7"/><circle cx="204.6" cy="189.8" r="2.0"/><circle cx="217.2" cy="187.2" r="1.7"/><circle cx="217.0" cy="188.8" r="2.9"/><circle cx="214.8" cy="190.0" r="2.7"/><circle cx="214.6" cy="193.4" r="2.4"/><circle cx="215.3" cy="189.8" r="2.5"/><circle cx="205.9" cy="190.3" r="1.9"/><circle cx="212.6" cy="184.7" r="2.6"/><circle cx="208.1" cy="185.4" r="2.2"/><circle cx="212.9" cy="182.4" r="2.8"/><circle cx="207.8" cy="187.0" r="1.7"/><circle cx="217.2" cy="187.5" r="2.9"/><circle cx="208.6" cy="192.6" r="3.1"/><circle cx="214.0" cy="184.1" r="2.1"/><circle cx="205.2" cy="190.9" r="2.2"/><circle cx="209.1" cy="183.8" r="3.0"/><circle cx="212.6" cy="185.2" r="1.6"/><circle cx="210.9" cy="192.5" r="2.5"/><circle cx="214.0" cy="182.9" r="1.7"/><circle cx="214.5" cy="183.4" r="2.9"/><circle cx="207.9" cy="186.9" r="2.9"/><circle cx="213.4" cy="183.4" r="3.0"/><circle cx="206.4" cy="194.6" r="1.1"/><circle cx="213.9" cy="180.7" r="1.2"/><circle cx="219.6" cy="185.0" r="1.1"/><circle cx="207.0" cy="180.6" r="0.8"/><circle cx="211.0" cy="197.8" r="1.3"/><circle cx="202.9" cy="190.3" r="1.3"/><circle cx="212.6" cy="180.4" r="1.1"/></g></defs>
<use href="#q93" filter="url(#blobR)" fill="#b02a18"/>
<use href="#q93" filter="url(#blob)" fill="#8a1410"/>
<g fill="#4a0404" opacity="0.7" filter="url(#blob2)"><ellipse cx="214.0" cy="186.6" rx="2.1" ry="1.9"/><ellipse cx="209.5" cy="188.1" rx="2.1" ry="1.9"/><ellipse cx="210.7" cy="188.0" rx="2.1" ry="1.9"/><ellipse cx="211.5" cy="188.9" rx="2.1" ry="1.9"/></g>
<defs><g id="q94"><ellipse cx="207.8" cy="200.3" rx="2.4" ry="2.1"/><circle cx="207.2" cy="198.6" r="1.5"/><circle cx="205.8" cy="201.5" r="1.2"/><circle cx="211.1" cy="201.1" r="1.4"/><circle cx="209.9" cy="201.8" r="1.6"/><circle cx="209.3" cy="202.2" r="1.3"/><circle cx="203.8" cy="199.9" r="0.7"/><circle cx="213.0" cy="200.0" r="1.0"/><circle cx="203.8" cy="198.7" r="1.2"/></g></defs>
<use href="#q94" filter="url(#blobR)" fill="#b02a18"/>
<use href="#q94" filter="url(#blob)" fill="#8a1410"/>
<g fill="#4a0404" opacity="0.7" filter="url(#blob2)"><ellipse cx="206.3" cy="201.0" rx="1.0" ry="0.9"/><ellipse cx="208.0" cy="199.0" rx="1.0" ry="0.9"/><ellipse cx="208.2" cy="200.2" rx="1.0" ry="0.9"/><ellipse cx="208.2" cy="200.4" rx="1.0" ry="0.9"/></g>
<defs><g id="q95"><ellipse cx="222.7" cy="201.3" rx="3.0" ry="2.5"/></g></defs>
<use href="#q95" filter="url(#blobR)" fill="#b02a18"/>
<use href="#q95" filter="url(#blob)" fill="#8a1410"/>
<ellipse cx="222.7" cy="201.3" rx="1.5" ry="1.2" fill="#4a0404" opacity="0.85" filter="url(#blob)"/>
<defs><g id="q96"><ellipse cx="233.1" cy="176.4" rx="6.3" ry="3.3"/><circle cx="234.2" cy="177.7" r="1.4"/><circle cx="225.4" cy="174.9" r="1.9"/><circle cx="241.2" cy="175.0" r="1.4"/><circle cx="228.6" cy="174.8" r="1.5"/><circle cx="237.5" cy="175.9" r="2.0"/><circle cx="227.6" cy="172.9" r="2.1"/><circle cx="228.5" cy="178.4" r="1.5"/><circle cx="241.8" cy="175.5" r="1.6"/><circle cx="237.5" cy="177.0" r="1.7"/><circle cx="240.1" cy="173.9" r="2.3"/><circle cx="240.7" cy="177.6" r="2.1"/><circle cx="227.8" cy="172.8" r="1.4"/><circle cx="237.9" cy="179.6" r="2.4"/><circle cx="231.0" cy="174.2" r="2.0"/><circle cx="233.3" cy="174.9" r="1.7"/><circle cx="233.0" cy="178.1" r="1.9"/><circle cx="235.3" cy="178.4" r="1.5"/><circle cx="232.7" cy="176.0" r="2.1"/><circle cx="233.7" cy="177.3" r="2.4"/><circle cx="234.7" cy="180.9" r="2.3"/><circle cx="235.7" cy="175.3" r="1.9"/><circle cx="240.2" cy="179.0" r="2.3"/><circle cx="224.8" cy="171.9" r="0.9"/><circle cx="238.6" cy="170.7" r="1.1"/><circle cx="240.2" cy="181.0" r="0.7"/><circle cx="230.3" cy="170.1" r="0.8"/><circle cx="241.0" cy="172.1" r="1.0"/></g></defs>
<use href="#q96" filter="url(#blobR)" fill="#b02a18"/>
<use href="#q96" filter="url(#blob)" fill="#8a1410"/>
<g fill="#4a0404" opacity="0.7" filter="url(#blob2)"><ellipse cx="233.9" cy="177.0" rx="2.6" ry="1.4"/><ellipse cx="234.0" cy="175.8" rx="2.6" ry="1.4"/><ellipse cx="234.3" cy="177.5" rx="2.6" ry="1.4"/><ellipse cx="231.4" cy="178.5" rx="2.6" ry="1.4"/></g>
<defs><g id="q97"><ellipse cx="230.6" cy="188.4" rx="3.0" ry="2.1"/><circle cx="233.8" cy="190.3" r="1.1"/><circle cx="233.4" cy="186.9" r="1.2"/><circle cx="228.4" cy="188.6" r="1.3"/><circle cx="231.4" cy="190.1" r="1.8"/><circle cx="234.7" cy="188.4" r="1.2"/><circle cx="229.7" cy="191.1" r="1.1"/><circle cx="229.8" cy="184.6" r="1.4"/><circle cx="237.0" cy="188.9" r="0.9"/><circle cx="233.8" cy="191.1" r="1.3"/></g></defs>
<use href="#q97" filter="url(#blobR)" fill="#b02a18"/>
<use href="#q97" filter="url(#blob)" fill="#8a1410"/>
<g fill="#4a0404" opacity="0.7" filter="url(#blob2)"><ellipse cx="230.2" cy="188.4" rx="1.2" ry="0.9"/><ellipse cx="228.8" cy="189.0" rx="1.2" ry="0.9"/><ellipse cx="230.9" cy="189.3" rx="1.2" ry="0.9"/><ellipse cx="230.9" cy="188.6" rx="1.2" ry="0.9"/></g>
<defs><g id="q98"><ellipse cx="241.8" cy="196.9" rx="4.9" ry="4.2"/><circle cx="242.6" cy="191.9" r="1.8"/><circle cx="243.6" cy="197.7" r="2.4"/><circle cx="238.2" cy="196.9" r="1.9"/><circle cx="237.3" cy="193.6" r="2.7"/><circle cx="239.1" cy="195.5" r="1.7"/><circle cx="241.3" cy="193.1" r="2.6"/><circle cx="247.7" cy="198.7" r="2.0"/><circle cx="245.3" cy="192.2" r="2.3"/><circle cx="248.4" cy="197.4" r="2.2"/><circle cx="244.3" cy="194.7" r="1.8"/><circle cx="243.9" cy="193.7" r="1.8"/><circle cx="238.1" cy="200.1" r="1.6"/><circle cx="237.2" cy="196.4" r="2.3"/><circle cx="246.1" cy="200.3" r="2.7"/><circle cx="244.4" cy="194.3" r="2.6"/><circle cx="237.4" cy="200.3" r="1.7"/><circle cx="246.5" cy="192.7" r="2.3"/><circle cx="236.7" cy="196.5" r="2.3"/><circle cx="248.6" cy="197.6" r="1.9"/><circle cx="242.7" cy="198.6" r="1.9"/><circle cx="242.3" cy="195.9" r="1.7"/><circle cx="240.8" cy="194.4" r="1.6"/><circle cx="233.8" cy="192.0" r="1.1"/><circle cx="239.3" cy="190.0" r="1.3"/><circle cx="240.1" cy="189.9" r="0.8"/><circle cx="232.2" cy="197.2" r="0.9"/><circle cx="248.5" cy="202.4" r="0.8"/><circle cx="232.9" cy="191.9" r="0.8"/></g></defs>
<use href="#q98" filter="url(#blobR)" fill="#b02a18"/>
<use href="#q98" filter="url(#blob)" fill="#8a1410"/>
<g fill="#4a0404" opacity="0.7" filter="url(#blob2)"><ellipse cx="239.3" cy="195.8" rx="2.1" ry="1.7"/><ellipse cx="243.4" cy="199.1" rx="2.1" ry="1.7"/><ellipse cx="243.1" cy="196.4" rx="2.1" ry="1.7"/><ellipse cx="239.1" cy="198.1" rx="2.1" ry="1.7"/></g>
<defs><g id="q99"><ellipse cx="219.2" cy="210.8" rx="3.3" ry="3.0"/><circle cx="216.4" cy="210.3" r="2.2"/><circle cx="219.7" cy="208.3" r="1.5"/><circle cx="217.7" cy="213.1" r="2.3"/><circle cx="220.7" cy="207.0" r="2.1"/><circle cx="219.9" cy="210.0" r="1.8"/><circle cx="223.6" cy="209.7" r="1.5"/><circle cx="216.0" cy="212.3" r="1.7"/><circle cx="218.1" cy="210.5" r="1.7"/><circle cx="218.6" cy="210.7" r="1.4"/><circle cx="223.3" cy="210.0" r="2.2"/><circle cx="214.6" cy="206.0" r="1.3"/><circle cx="223.4" cy="207.4" r="1.1"/><circle cx="218.6" cy="216.8" r="0.9"/><circle cx="212.3" cy="209.0" r="1.1"/></g></defs>
<use href="#q99" filter="url(#blobR)" fill="#b02a18"/>
<use href="#q99" filter="url(#blob)" fill="#8a1410"/>
<g fill="#4a0404" opacity="0.7" filter="url(#blob2)"><ellipse cx="219.2" cy="211.9" rx="1.4" ry="1.2"/><ellipse cx="217.1" cy="211.6" rx="1.4" ry="1.2"/><ellipse cx="219.1" cy="211.4" rx="1.4" ry="1.2"/><ellipse cx="219.1" cy="210.5" rx="1.4" ry="1.2"/></g>
<defs><g id="q100"><ellipse cx="190.9" cy="210.2" rx="3.0" ry="2.5"/></g></defs>
<use href="#q100" filter="url(#blobR)" fill="#b02a18"/>
<use href="#q100" filter="url(#blob)" fill="#8a1410"/>
<ellipse cx="190.9" cy="210.2" rx="1.5" ry="1.2" fill="#4a0404" opacity="0.85" filter="url(#blob)"/>
<defs><g id="q101"><ellipse cx="196.9" cy="214.1" rx="2.4" ry="4.5"/><circle cx="194.1" cy="210.7" r="1.6"/><circle cx="196.6" cy="218.4" r="1.6"/><circle cx="197.6" cy="215.9" r="1.3"/><circle cx="196.3" cy="218.0" r="1.4"/><circle cx="196.9" cy="216.0" r="1.6"/><circle cx="198.3" cy="210.0" r="1.6"/><circle cx="196.0" cy="211.8" r="1.7"/><circle cx="194.5" cy="215.3" r="1.7"/><circle cx="195.0" cy="214.8" r="1.4"/><circle cx="197.3" cy="218.6" r="1.5"/><circle cx="196.6" cy="213.8" r="1.4"/><circle cx="199.7" cy="208.0" r="1.1"/><circle cx="192.5" cy="214.6" r="1.4"/><circle cx="195.5" cy="223.2" r="0.8"/><circle cx="201.7" cy="218.1" r="1.0"/></g></defs>
<use href="#q101" filter="url(#blobR)" fill="#b02a18"/>
<use href="#q101" filter="url(#blob)" fill="#8a1410"/>
<g fill="#4a0404" opacity="0.7" filter="url(#blob2)"><ellipse cx="197.5" cy="214.6" rx="1.0" ry="1.9"/><ellipse cx="195.7" cy="215.1" rx="1.0" ry="1.9"/><ellipse cx="197.2" cy="214.6" rx="1.0" ry="1.9"/><ellipse cx="198.2" cy="213.5" rx="1.0" ry="1.9"/></g>
<defs><g id="q102"><ellipse cx="243.1" cy="218.2" rx="2.5" ry="2.5"/></g></defs>
<use href="#q102" filter="url(#blobR)" fill="#b02a18"/>
<use href="#q102" filter="url(#blob)" fill="#8a1410"/>
<ellipse cx="243.1" cy="218.2" rx="1.2" ry="1.2" fill="#4a0404" opacity="0.85" filter="url(#blob)"/>
<defs><g id="q103"><ellipse cx="248.5" cy="186.4" rx="2.0" ry="2.5"/></g></defs>
<use href="#q103" filter="url(#blobR)" fill="#b02a18"/>
<use href="#q103" filter="url(#blob)" fill="#8a1410"/>
<ellipse cx="248.5" cy="186.4" rx="1.0" ry="1.2" fill="#4a0404" opacity="0.85" filter="url(#blob)"/>
<defs><g id="q104"><ellipse cx="262.4" cy="175.4" rx="4.5" ry="3.9"/><circle cx="264.5" cy="178.1" r="2.0"/><circle cx="260.2" cy="171.6" r="2.6"/><circle cx="264.4" cy="171.9" r="2.5"/><circle cx="262.2" cy="170.7" r="2.1"/><circle cx="263.6" cy="170.9" r="2.7"/><circle cx="266.6" cy="179.1" r="1.5"/><circle cx="262.9" cy="171.3" r="2.1"/><circle cx="267.1" cy="174.5" r="2.0"/><circle cx="263.7" cy="170.4" r="2.3"/><circle cx="259.4" cy="178.0" r="2.1"/><circle cx="261.9" cy="172.5" r="2.0"/><circle cx="258.8" cy="174.3" r="1.9"/><circle cx="263.8" cy="170.5" r="2.1"/><circle cx="259.9" cy="176.3" r="1.9"/><circle cx="265.4" cy="178.7" r="2.3"/><circle cx="267.6" cy="178.2" r="1.9"/><circle cx="265.7" cy="171.3" r="2.7"/><circle cx="263.6" cy="178.9" r="2.7"/><circle cx="263.8" cy="175.5" r="2.2"/><circle cx="252.6" cy="175.6" r="1.2"/><circle cx="252.7" cy="173.4" r="1.1"/><circle cx="253.3" cy="174.6" r="1.0"/><circle cx="256.8" cy="181.5" r="0.9"/><circle cx="271.2" cy="172.9" r="1.1"/><circle cx="269.3" cy="179.7" r="1.0"/></g></defs>
<use href="#q104" filter="url(#blobR)" fill="#b02a18"/>
<use href="#q104" filter="url(#blob)" fill="#8a1410"/>
<g fill="#4a0404" opacity="0.7" filter="url(#blob2)"><ellipse cx="260.7" cy="174.8" rx="1.9" ry="1.6"/><ellipse cx="264.8" cy="173.5" rx="1.9" ry="1.6"/><ellipse cx="261.0" cy="175.6" rx="1.9" ry="1.6"/><ellipse cx="260.1" cy="173.4" rx="1.9" ry="1.6"/></g>
<defs><g id="q105"><ellipse cx="283.8" cy="174.0" rx="3.0" ry="1.8"/><circle cx="282.1" cy="175.5" r="1.5"/><circle cx="284.9" cy="175.3" r="1.6"/><circle cx="285.1" cy="172.4" r="1.1"/><circle cx="286.5" cy="172.7" r="1.5"/><circle cx="287.7" cy="173.9" r="1.3"/><circle cx="286.8" cy="176.7" r="1.1"/><circle cx="278.5" cy="173.9" r="0.8"/><circle cx="279.6" cy="171.3" r="0.9"/></g></defs>
<use href="#q105" filter="url(#blobR)" fill="#b02a18"/>
<use href="#q105" filter="url(#blob)" fill="#8a1410"/>
<ellipse cx="283.8" cy="174.0" rx="2.5" ry="1.5" fill="#4a0404" opacity="0.85" filter="url(#blob)"/>
<defs><g id="q106"><ellipse cx="252.0" cy="185.9" rx="1.8" ry="2.4"/><circle cx="254.0" cy="185.8" r="1.0"/><circle cx="250.1" cy="187.5" r="1.2"/><circle cx="251.9" cy="185.7" r="1.2"/><circle cx="253.1" cy="183.7" r="1.4"/><circle cx="253.2" cy="190.3" r="1.1"/><circle cx="251.6" cy="190.8" r="1.1"/><circle cx="255.6" cy="185.8" r="1.0"/></g></defs>
<use href="#q106" filter="url(#blobR)" fill="#b02a18"/>
<use href="#q106" filter="url(#blob)" fill="#8a1410"/>
<ellipse cx="252.0" cy="185.9" rx="1.5" ry="2.0" fill="#4a0404" opacity="0.85" filter="url(#blob)"/>
<defs><g id="q107"><ellipse cx="285.2" cy="189.4" rx="5.1" ry="4.5"/><circle cx="287.3" cy="191.1" r="2.8"/><circle cx="287.0" cy="190.6" r="1.9"/><circle cx="278.8" cy="188.5" r="2.6"/><circle cx="285.9" cy="187.9" r="1.7"/><circle cx="285.8" cy="185.8" r="2.7"/><circle cx="283.5" cy="191.4" r="2.0"/><circle cx="290.8" cy="192.9" r="2.5"/><circle cx="282.4" cy="192.8" r="2.2"/><circle cx="291.6" cy="191.4" r="2.5"/><circle cx="289.9" cy="188.3" r="2.6"/><circle cx="285.3" cy="190.7" r="3.0"/><circle cx="287.7" cy="186.5" r="3.0"/><circle cx="286.8" cy="186.2" r="2.5"/><circle cx="290.1" cy="188.2" r="3.1"/><circle cx="285.4" cy="193.3" r="2.7"/><circle cx="286.0" cy="192.8" r="2.9"/><circle cx="278.9" cy="189.9" r="2.0"/><circle cx="287.2" cy="192.7" r="1.9"/><circle cx="289.1" cy="188.7" r="2.5"/><circle cx="289.2" cy="192.4" r="2.2"/><circle cx="283.7" cy="190.3" r="1.8"/><circle cx="287.2" cy="186.0" r="2.0"/><circle cx="286.6" cy="192.5" r="2.0"/><circle cx="291.0" cy="190.5" r="2.2"/><circle cx="288.6" cy="193.8" r="1.8"/><circle cx="283.9" cy="198.9" r="0.8"/><circle cx="275.0" cy="192.7" r="1.3"/><circle cx="290.4" cy="196.4" r="1.2"/><circle cx="277.2" cy="196.3" r="0.8"/><circle cx="294.7" cy="186.7" r="0.9"/><circle cx="276.8" cy="191.6" r="1.2"/><circle cx="284.5" cy="199.1" r="1.1"/></g></defs>
<use href="#q107" filter="url(#blobR)" fill="#b02a18"/>
<use href="#q107" filter="url(#blob)" fill="#8a1410"/>
<g fill="#4a0404" opacity="0.7" filter="url(#blob2)"><ellipse cx="284.6" cy="190.0" rx="2.1" ry="1.9"/><ellipse cx="284.6" cy="188.9" rx="2.1" ry="1.9"/><ellipse cx="285.6" cy="189.1" rx="2.1" ry="1.9"/><ellipse cx="283.2" cy="189.2" rx="2.1" ry="1.9"/></g>
<defs><g id="q108"><ellipse cx="297.6" cy="182.4" rx="2.4" ry="3.3"/><circle cx="297.3" cy="186.5" r="1.5"/><circle cx="296.3" cy="179.5" r="1.4"/><circle cx="296.9" cy="183.3" r="1.3"/><circle cx="298.8" cy="180.3" r="1.7"/><circle cx="299.6" cy="184.6" r="1.4"/><circle cx="295.8" cy="182.4" r="1.2"/><circle cx="297.1" cy="184.5" r="1.3"/><circle cx="297.3" cy="180.0" r="1.5"/><circle cx="301.9" cy="178.7" r="1.3"/><circle cx="300.3" cy="178.1" r="0.9"/><circle cx="302.5" cy="183.7" r="1.2"/></g></defs>
<use href="#q108" filter="url(#blobR)" fill="#b02a18"/>
<use href="#q108" filter="url(#blob)" fill="#8a1410"/>
<g fill="#4a0404" opacity="0.7" filter="url(#blob2)"><ellipse cx="297.2" cy="183.3" rx="1.0" ry="1.4"/><ellipse cx="297.0" cy="181.0" rx="1.0" ry="1.4"/><ellipse cx="297.7" cy="184.5" rx="1.0" ry="1.4"/><ellipse cx="297.0" cy="183.7" rx="1.0" ry="1.4"/></g>
<defs><g id="q109"><ellipse cx="287.2" cy="202.8" rx="6.9" ry="4.8"/><circle cx="288.6" cy="204.8" r="3.2"/><circle cx="286.4" cy="197.1" r="1.8"/><circle cx="291.0" cy="203.4" r="2.0"/><circle cx="285.3" cy="206.7" r="1.8"/><circle cx="284.3" cy="207.8" r="2.0"/><circle cx="291.2" cy="198.4" r="2.9"/><circle cx="287.1" cy="207.2" r="2.8"/><circle cx="287.1" cy="202.9" r="3.0"/><circle cx="288.1" cy="199.2" r="1.8"/><circle cx="291.9" cy="198.6" r="1.8"/><circle cx="287.4" cy="205.0" r="3.0"/><circle cx="289.6" cy="209.0" r="2.9"/><circle cx="294.2" cy="205.7" r="2.3"/><circle cx="287.1" cy="196.6" r="2.2"/><circle cx="295.2" cy="206.3" r="2.4"/><circle cx="294.6" cy="200.4" r="2.9"/><circle cx="291.0" cy="198.1" r="2.4"/><circle cx="294.9" cy="204.6" r="2.4"/><circle cx="277.9" cy="202.3" r="1.9"/><circle cx="287.4" cy="201.3" r="2.8"/><circle cx="289.0" cy="199.5" r="2.6"/><circle cx="294.9" cy="201.7" r="2.6"/><circle cx="287.3" cy="204.4" r="2.3"/><circle cx="283.5" cy="204.3" r="2.2"/><circle cx="292.6" cy="207.0" r="2.8"/><circle cx="287.6" cy="206.1" r="2.5"/><circle cx="278.4" cy="205.0" r="2.3"/><circle cx="284.5" cy="208.8" r="1.9"/><circle cx="282.1" cy="201.2" r="3.0"/><circle cx="279.1" cy="201.0" r="2.0"/><circle cx="283.5" cy="198.2" r="2.4"/><circle cx="288.1" cy="196.6" r="1.9"/><circle cx="285.8" cy="206.7" r="2.0"/><circle cx="292.0" cy="204.1" r="2.0"/><circle cx="285.3" cy="198.4" r="1.9"/><circle cx="284.2" cy="206.9" r="2.3"/><circle cx="293.0" cy="209.8" r="0.7"/><circle cx="301.7" cy="202.3" r="0.8"/><circle cx="284.1" cy="192.3" r="1.1"/><circle cx="297.6" cy="208.6" r="1.0"/><circle cx="292.3" cy="211.5" r="0.7"/><circle cx="299.5" cy="198.0" r="1.1"/><circle cx="300.2" cy="198.9" r="0.9"/></g></defs>
<use href="#q109" filter="url(#blobR)" fill="#b02a18"/>
<use href="#q109" filter="url(#blob)" fill="#8a1410"/>
<g fill="#4a0404" opacity="0.7" filter="url(#blob2)"><ellipse cx="287.3" cy="203.2" rx="2.9" ry="2.0"/><ellipse cx="291.2" cy="203.2" rx="2.9" ry="2.0"/><ellipse cx="288.1" cy="201.9" rx="2.9" ry="2.0"/><ellipse cx="288.5" cy="204.8" rx="2.9" ry="2.0"/></g>
<defs><g id="q110"><ellipse cx="306.1" cy="204.8" rx="5.6" ry="4.2"/><circle cx="310.5" cy="200.1" r="1.8"/><circle cx="307.7" cy="199.5" r="2.6"/><circle cx="304.5" cy="207.0" r="2.7"/><circle cx="304.0" cy="208.0" r="2.3"/><circle cx="301.1" cy="208.7" r="1.9"/><circle cx="311.9" cy="205.9" r="2.4"/><circle cx="308.9" cy="200.3" r="2.8"/><circle cx="311.4" cy="203.3" r="2.3"/><circle cx="308.5" cy="207.5" r="2.4"/><circle cx="311.9" cy="207.1" r="1.8"/><circle cx="298.7" cy="206.8" r="1.7"/><circle cx="311.2" cy="205.7" r="1.8"/><circle cx="306.0" cy="204.4" r="2.7"/><circle cx="310.5" cy="200.6" r="2.2"/><circle cx="304.8" cy="209.5" r="2.3"/><circle cx="302.0" cy="206.4" r="2.2"/><circle cx="302.4" cy="200.1" r="2.8"/><circle cx="308.3" cy="207.5" r="2.2"/><circle cx="301.8" cy="203.4" r="1.8"/><circle cx="310.0" cy="206.5" r="2.2"/><circle cx="313.6" cy="203.7" r="2.8"/><circle cx="313.8" cy="203.8" r="2.4"/><circle cx="306.8" cy="203.4" r="2.5"/><circle cx="302.7" cy="202.7" r="2.4"/><circle cx="311.4" cy="203.6" r="2.5"/><circle cx="304.7" cy="208.0" r="2.8"/><circle cx="316.0" cy="206.0" r="1.2"/><circle cx="296.9" cy="207.1" r="1.2"/><circle cx="298.3" cy="210.8" r="1.0"/><circle cx="295.0" cy="203.2" r="1.0"/><circle cx="313.6" cy="209.6" r="1.3"/><circle cx="296.8" cy="202.6" r="1.3"/></g></defs>
<use href="#q110" filter="url(#blobR)" fill="#b02a18"/>
<use href="#q110" filter="url(#blob)" fill="#8a1410"/>
<g fill="#4a0404" opacity="0.7" filter="url(#blob2)"><ellipse cx="306.1" cy="205.0" rx="2.4" ry="1.7"/><ellipse cx="305.1" cy="204.6" rx="2.4" ry="1.7"/><ellipse cx="303.8" cy="204.9" rx="2.4" ry="1.7"/><ellipse cx="306.5" cy="206.5" rx="2.4" ry="1.7"/></g>
<defs><g id="q111"><ellipse cx="308.6" cy="193.4" rx="3.6" ry="2.7"/><circle cx="311.3" cy="195.1" r="1.7"/><circle cx="311.4" cy="194.5" r="1.3"/><circle cx="304.2" cy="194.7" r="1.7"/><circle cx="307.6" cy="190.1" r="1.3"/><circle cx="312.8" cy="193.2" r="1.3"/><circle cx="310.1" cy="191.3" r="1.4"/><circle cx="312.2" cy="192.6" r="1.9"/><circle cx="311.5" cy="195.9" r="1.3"/><circle cx="308.8" cy="195.7" r="1.2"/><circle cx="306.6" cy="192.4" r="1.5"/><circle cx="306.7" cy="188.4" r="1.3"/><circle cx="302.9" cy="189.3" r="1.1"/><circle cx="315.3" cy="190.5" r="0.8"/><circle cx="308.4" cy="188.4" r="1.2"/></g></defs>
<use href="#q111" filter="url(#blobR)" fill="#b02a18"/>
<use href="#q111" filter="url(#blob)" fill="#8a1410"/>
<g fill="#4a0404" opacity="0.7" filter="url(#blob2)"><ellipse cx="307.6" cy="191.9" rx="1.5" ry="1.1"/><ellipse cx="309.3" cy="193.9" rx="1.5" ry="1.1"/><ellipse cx="308.3" cy="191.5" rx="1.5" ry="1.1"/><ellipse cx="308.5" cy="193.3" rx="1.5" ry="1.1"/></g>
<defs><g id="q112"><ellipse cx="258.4" cy="203.2" rx="3.3" ry="2.7"/><circle cx="257.3" cy="202.5" r="1.7"/><circle cx="259.0" cy="202.0" r="2.0"/><circle cx="257.4" cy="201.5" r="1.4"/><circle cx="254.4" cy="204.4" r="1.7"/><circle cx="259.0" cy="203.6" r="1.3"/><circle cx="259.1" cy="201.7" r="1.7"/><circle cx="257.5" cy="206.3" r="1.6"/><circle cx="261.1" cy="206.0" r="1.7"/><circle cx="256.9" cy="200.1" r="2.1"/><circle cx="264.5" cy="203.7" r="0.8"/><circle cx="251.3" cy="203.2" r="1.3"/><circle cx="264.1" cy="204.3" r="1.3"/><circle cx="255.8" cy="198.7" r="1.0"/></g></defs>
<use href="#q112" filter="url(#blobR)" fill="#b02a18"/>
<use href="#q112" filter="url(#blob)" fill="#8a1410"/>
<g fill="#4a0404" opacity="0.7" filter="url(#blob2)"><ellipse cx="259.6" cy="204.7" rx="1.4" ry="1.1"/><ellipse cx="256.8" cy="204.3" rx="1.4" ry="1.1"/><ellipse cx="258.3" cy="203.2" rx="1.4" ry="1.1"/><ellipse cx="258.2" cy="203.6" rx="1.4" ry="1.1"/></g>
<defs><g id="q113"><ellipse cx="255.9" cy="213.2" rx="4.2" ry="3.3"/><circle cx="259.5" cy="211.0" r="1.4"/><circle cx="257.7" cy="215.7" r="1.9"/><circle cx="252.7" cy="211.8" r="1.8"/><circle cx="260.4" cy="213.3" r="1.7"/><circle cx="259.9" cy="213.6" r="2.5"/><circle cx="258.1" cy="213.7" r="2.1"/><circle cx="255.5" cy="215.6" r="1.9"/><circle cx="255.6" cy="216.7" r="2.0"/><circle cx="261.6" cy="212.0" r="1.4"/><circle cx="251.1" cy="211.7" r="2.3"/><circle cx="256.7" cy="209.5" r="2.1"/><circle cx="253.9" cy="215.1" r="2.2"/><circle cx="259.9" cy="210.0" r="2.1"/><circle cx="254.2" cy="217.1" r="2.2"/><circle cx="251.2" cy="213.0" r="1.8"/><circle cx="248.4" cy="211.2" r="0.7"/><circle cx="251.9" cy="218.4" r="1.4"/><circle cx="248.2" cy="213.9" r="0.9"/><circle cx="256.7" cy="219.3" r="0.8"/><circle cx="265.0" cy="213.5" r="1.0"/></g></defs>
<use href="#q113" filter="url(#blobR)" fill="#b02a18"/>
<use href="#q113" filter="url(#blob)" fill="#8a1410"/>
<g fill="#4a0404" opacity="0.7" filter="url(#blob2)"><ellipse cx="254.3" cy="213.7" rx="1.7" ry="1.4"/><ellipse cx="255.8" cy="213.6" rx="1.7" ry="1.4"/><ellipse cx="256.8" cy="213.5" rx="1.7" ry="1.4"/><ellipse cx="255.1" cy="214.9" rx="1.7" ry="1.4"/></g>
<defs><g id="q114"><ellipse cx="274.8" cy="215.7" rx="1.8" ry="1.8"/><circle cx="272.5" cy="214.9" r="1.2"/><circle cx="276.5" cy="214.8" r="1.1"/><circle cx="275.6" cy="217.5" r="1.6"/><circle cx="272.4" cy="218.7" r="1.0"/><circle cx="276.9" cy="213.4" r="1.0"/><circle cx="277.5" cy="213.8" r="0.9"/></g></defs>
<use href="#q114" filter="url(#blobR)" fill="#b02a18"/>
<use href="#q114" filter="url(#blob)" fill="#8a1410"/>
<ellipse cx="274.8" cy="215.7" rx="1.5" ry="1.5" fill="#4a0404" opacity="0.85" filter="url(#blob)"/>
<defs><g id="q115"><ellipse cx="270.4" cy="220.8" rx="2.5" ry="2.2"/></g></defs>
<use href="#q115" filter="url(#blobR)" fill="#b02a18"/>
<use href="#q115" filter="url(#blob)" fill="#8a1410"/>
<ellipse cx="270.4" cy="220.8" rx="1.2" ry="1.1" fill="#4a0404" opacity="0.85" filter="url(#blob)"/>
<defs><g id="q116"><ellipse cx="314.3" cy="216.2" rx="3.7" ry="2.5"/></g></defs>
<use href="#q116" filter="url(#blobR)" fill="#b02a18"/>
<use href="#q116" filter="url(#blob)" fill="#8a1410"/>
<ellipse cx="314.3" cy="216.2" rx="1.8" ry="1.2" fill="#4a0404" opacity="0.85" filter="url(#blob)"/>
<defs><g id="q117"><ellipse cx="302.6" cy="177.0" rx="2.0" ry="2.0"/></g></defs>
<use href="#q117" filter="url(#blobR)" fill="#b02a18"/>
<use href="#q117" filter="url(#blob)" fill="#8a1410"/>
<ellipse cx="302.6" cy="177.0" rx="1.0" ry="1.0" fill="#4a0404" opacity="0.85" filter="url(#blob)"/>
<defs><g id="q118"><ellipse cx="308.6" cy="185.9" rx="2.0" ry="2.0"/></g></defs>
<use href="#q118" filter="url(#blobR)" fill="#b02a18"/>
<use href="#q118" filter="url(#blob)" fill="#8a1410"/>
<ellipse cx="308.6" cy="185.9" rx="1.0" ry="1.0" fill="#4a0404" opacity="0.85" filter="url(#blob)"/>
</g>
<circle cx="298.9" cy="139.6" r="16.8" fill="#e2e0e6" stroke="#a9a7b4" stroke-width="0.7"/>
<circle cx="298.9" cy="139.6" r="15.900000000000002" fill="none" stroke="#c4c2cc" stroke-width="0.6"/>
<circle cx="299.2" cy="139.79999999999998" r="15.100000000000001" fill="url(#dishD)"/>
<circle cx="299.2" cy="139.79999999999998" r="15.100000000000001" filter="url(#dspk)"/>
<rect x="305.1" y="218.5" width="10.4" height="2.1" fill="#f4f4f4"/>
<defs>
<filter id="bb1" x="-30%" y="-60%" width="160%" height="220%"><feGaussianBlur stdDeviation="1.5"/></filter>
<filter id="bb2" x="-30%" y="-60%" width="160%" height="220%"><feGaussianBlur stdDeviation="2.2"/></filter>
<filter id="bb3" x="-30%" y="-60%" width="160%" height="220%"><feGaussianBlur stdDeviation="3.5"/></filter>
<linearGradient id="rowL" x1="0" y1="0" x2="0" y2="1">
 <stop offset="0" stop-color="#a9a8ba"/><stop offset="0.18" stop-color="#c9c9d8"/><stop offset="0.8" stop-color="#d0d0de"/><stop offset="1" stop-color="#bdbccc"/></linearGradient>
<linearGradient id="rowA7" x1="0" y1="0" x2="0" y2="1">
 <stop offset="0" stop-color="#8e8c9e"/><stop offset="0.35" stop-color="#b0afc0"/><stop offset="1" stop-color="#c0bfce"/></linearGradient>
<linearGradient id="rowA14" x1="0" y1="0" x2="0" y2="1">
 <stop offset="0" stop-color="#4a4656"/><stop offset="0.3" stop-color="#7a7686"/><stop offset="0.7" stop-color="#9d98a8"/><stop offset="1" stop-color="#b0a8b6"/></linearGradient>
<linearGradient id="rowC7" x1="0" y1="0" x2="0" y2="1">
 <stop offset="0" stop-color="#6e6c7e"/><stop offset="0.5" stop-color="#8a889a"/><stop offset="1" stop-color="#7e7c8e"/></linearGradient>
<linearGradient id="rowC14" x1="0" y1="0" x2="0" y2="1">
 <stop offset="0" stop-color="#a8a7b8"/><stop offset="0.5" stop-color="#bebdcc"/><stop offset="1" stop-color="#b0afc0"/></linearGradient>
</defs>
<g>
<clipPath id="c7a"><rect x="59.6" y="275" width="83.20000000000002" height="25"/></clipPath>
<clipPath id="c7b"><rect x="59.6" y="300.5" width="83.20000000000002" height="24.5"/></clipPath>
<clipPath id="c7c"><rect x="59.6" y="325.3" width="83.20000000000002" height="24.5"/></clipPath>
<clipPath id="c7d"><rect x="59.6" y="350" width="83.20000000000002" height="24.5"/></clipPath>
<g clip-path="url(#c7a)">
<rect x="59.6" y="275" width="83.20000000000002" height="25.19999999999999" fill="url(#rowA7)"/>
<ellipse cx="101.00" cy="287.50" rx="30.00" ry="7.00" fill="#9a98ab" filter="url(#bb3)" opacity="0.6"/>
<g fill="#000" filter="url(#bb1)" opacity="1"><ellipse cx="70.50" cy="287.60" rx="8.50" ry="4.32"/><rect x="62.85" y="283.84" width="15.30" height="7.52" rx="3.60"/></g>
<g fill="#141420" filter="url(#bb1)" opacity="0.9"><ellipse cx="88.25" cy="287.75" rx="6.75" ry="2.65"/><rect x="82.17" y="285.45" width="12.15" height="4.61" rx="2.20"/></g>
<g fill="#000" filter="url(#bb1)" opacity="1"><ellipse cx="122.50" cy="288.40" rx="18.50" ry="5.83"/><rect x="105.85" y="283.32" width="33.30" height="10.15" rx="4.86"/></g>
</g>
<g clip-path="url(#c7b)">
<rect x="59.6" y="300.2" width="83.20000000000002" height="25.0" fill="url(#rowL)"/>
<g fill="#2c2c40" filter="url(#bb2)" opacity="0.85"><ellipse cx="79.00" cy="312.70" rx="15.50" ry="4.43"/><rect x="65.05" y="308.85" width="27.90" height="7.71" rx="3.69"/></g>
<g fill="#2a2a3e" filter="url(#bb1)" opacity="0.7"><ellipse cx="83.50" cy="312.70" rx="9.50" ry="3.13"/><rect x="74.95" y="309.97" width="17.10" height="5.45" rx="2.61"/></g>
<g fill="#2c2c40" filter="url(#bb2)" opacity="0.85"><ellipse cx="122.75" cy="312.70" rx="17.25" ry="4.43"/><rect x="107.22" y="308.85" width="31.05" height="7.71" rx="3.69"/></g>
<g fill="#2a2a3e" filter="url(#bb1)" opacity="0.7"><ellipse cx="130.50" cy="312.70" rx="8.50" ry="3.13"/><rect x="122.85" y="309.97" width="15.30" height="5.45" rx="2.61"/></g>
</g>
<g clip-path="url(#c7c)">
<rect x="59.6" y="325.2" width="83.20000000000002" height="24.400000000000034" fill="url(#rowC7)"/>
<ellipse cx="101.00" cy="340.00" rx="6.00" ry="14.00" fill="#a8a6b8" filter="url(#bb3)" opacity="0.7"/>
<ellipse cx="65.00" cy="337.00" rx="6.00" ry="10.00" fill="#1a1a26" filter="url(#bb2)" opacity="0.8"/>
<g fill="#000" filter="url(#bb1)" opacity="1"><ellipse cx="79.25" cy="337.00" rx="17.75" ry="6.26"/><rect x="63.27" y="331.55" width="31.95" height="10.90" rx="5.22"/></g>
<ellipse cx="70.00" cy="337.50" rx="8.00" ry="6.50" fill="#000" filter="url(#bb1)" opacity="1"/>
<g fill="#000" filter="url(#bb1)" opacity="1"><ellipse cx="124.00" cy="337.35" rx="18.00" ry="6.64"/><rect x="107.80" y="331.57" width="32.40" height="11.56" rx="5.54"/></g>
<ellipse cx="135.00" cy="342.00" rx="8.00" ry="9.00" fill="#000" filter="url(#bb2)" opacity="1"/>
<ellipse cx="80.00" cy="346.00" rx="14.00" ry="4.00" fill="#3a3848" filter="url(#bb3)" opacity="0.6"/>
</g>
<g clip-path="url(#c7d)">
<rect x="59.6" y="349.8" width="83.20000000000002" height="24.599999999999966" fill="url(#rowL)"/>
<g fill="#000" filter="url(#bb1)" opacity="1"><ellipse cx="79.75" cy="363.60" rx="17.75" ry="6.26"/><rect x="63.77" y="358.15" width="31.95" height="10.90" rx="5.22"/></g>
<g fill="#000" filter="url(#bb1)" opacity="1"><ellipse cx="123.25" cy="363.30" rx="17.75" ry="5.94"/><rect x="107.28" y="358.13" width="31.95" height="10.34" rx="4.95"/></g>
</g>
<rect x="59.6" y="275.2" width="83.20000000000002" height="99.0" fill="none" stroke="#1a1a1a" stroke-width="0.9"/>
<line x1="59.6" y1="300.2" x2="142.8" y2="300.2" stroke="#111" stroke-width="1.1"/>
<line x1="59.6" y1="325.2" x2="142.8" y2="325.2" stroke="#111" stroke-width="1.1"/>
<line x1="59.6" y1="349.8" x2="142.8" y2="349.8" stroke="#111" stroke-width="1.1"/>
</g>
<clipPath id="c14a"><rect x="201.6" y="275.5" width="82.00000000000003" height="25"/></clipPath>
<clipPath id="c14b"><rect x="201.6" y="300.7" width="82.00000000000003" height="24.5"/></clipPath>
<clipPath id="c14c"><rect x="201.6" y="325.5" width="82.00000000000003" height="24.5"/></clipPath>
<clipPath id="c14d"><rect x="201.6" y="350.5" width="82.00000000000003" height="24.5"/></clipPath>
<g clip-path="url(#c14a)">
<rect x="201.6" y="275.5" width="82.00000000000003" height="25.0" fill="url(#rowA14)"/>
<g fill="#000" filter="url(#bb1)" opacity="1"><ellipse cx="220.50" cy="292.10" rx="17.00" ry="5.94"/><rect x="205.20" y="286.93" width="30.60" height="10.34" rx="4.95"/></g>
<g fill="#000" filter="url(#bb1)" opacity="1"><ellipse cx="263.25" cy="291.60" rx="18.75" ry="6.91"/><rect x="246.38" y="285.58" width="33.75" height="12.03" rx="5.76"/></g>
</g>
<g clip-path="url(#c14b)">
<rect x="201.6" y="300.5" width="82.00000000000003" height="24.899999999999977" fill="url(#rowL)"/>
<g fill="#000" filter="url(#bb1)" opacity="1"><ellipse cx="222.00" cy="315.60" rx="17.00" ry="6.48"/><rect x="206.70" y="309.96" width="30.60" height="11.28" rx="5.40"/></g>
<g fill="#000" filter="url(#bb1)" opacity="1"><ellipse cx="262.50" cy="315.40" rx="18.00" ry="6.70"/><rect x="246.30" y="309.57" width="32.40" height="11.66" rx="5.58"/></g>
</g>
<g clip-path="url(#c14c)">
<rect x="201.6" y="325.4" width="82.00000000000003" height="24.80000000000001" fill="url(#rowC14)"/>
<g fill="#6a6878" filter="url(#bb2)" opacity="0.7"><ellipse cx="218.50" cy="339.50" rx="13.50" ry="2.70"/><rect x="206.35" y="337.15" width="24.30" height="4.70" rx="2.25"/></g>
<ellipse cx="236.60" cy="339.80" rx="4.60" ry="4.40" fill="#000" filter="url(#bb1)" opacity="1"/>
<g fill="#000" filter="url(#bb1)" opacity="1"><ellipse cx="265.55" cy="338.50" rx="18.05" ry="5.29"/><rect x="249.31" y="333.89" width="32.49" height="9.21" rx="4.41"/></g>
<rect x="251" y="338" width="34" height="14" fill="#000" filter="url(#bb1)"/>
</g>
<g clip-path="url(#c14d)">
<rect x="201.6" y="350.2" width="82.00000000000003" height="24.400000000000034" fill="url(#rowL)"/>
<g fill="#000" filter="url(#bb1)" opacity="1"><ellipse cx="222.00" cy="364.90" rx="17.00" ry="6.37"/><rect x="206.70" y="359.35" width="30.60" height="11.09" rx="5.31"/></g>
<g fill="#000" filter="url(#bb1)" opacity="1"><ellipse cx="262.50" cy="364.70" rx="18.00" ry="6.59"/><rect x="246.30" y="358.97" width="32.40" height="11.47" rx="5.49"/></g>
</g>
<rect x="201.6" y="275.7" width="82.00000000000003" height="98.8" fill="none" stroke="#1a1a1a" stroke-width="0.9"/>
<line x1="201.6" y1="300.5" x2="283.6" y2="300.5" stroke="#111" stroke-width="1.1"/>
<line x1="201.6" y1="325.4" x2="283.6" y2="325.4" stroke="#111" stroke-width="1.1"/>
<line x1="201.6" y1="350.2" x2="283.6" y2="350.2" stroke="#111" stroke-width="1.1"/>
<text x="55.3" y="294.1" font-size="13.3" text-anchor="end" fill="#111">ALP</text>
<text x="55.9" y="317.8" font-size="12.9" text-anchor="end" fill="#111">GAPDH</text>
<text x="55.3" y="343.6" font-size="13.3" text-anchor="end" fill="#111">COL1</text>
<text x="55.5" y="368.2" font-size="12.9" text-anchor="end" fill="#111">GAPDH</text>
<text x="194.4" y="292.4" font-size="13.3" text-anchor="end" fill="#111">ALP</text>
<text x="195.6" y="321.7" font-size="12.9" text-anchor="end" fill="#111">GAPDH</text>
<text x="195.2" y="344.7" font-size="13.3" text-anchor="end" fill="#111">COL1</text>
<text x="195.0" y="367.7" font-size="12.9" text-anchor="end" fill="#111">GAPDH</text>
<text x="103.7" y="249.9" font-size="14" text-anchor="middle" fill="#111">7 d</text>
<text x="243.9" y="250.3" font-size="13.8" text-anchor="middle" fill="#111">14 d</text>
<rect x="70" y="259.1" width="62" height="1.8" fill="#000"/>
<rect x="212" y="259.5" width="62" height="1.8" fill="#000"/>
<text x="100.9" y="272.2" font-size="7.3" text-anchor="middle" fill="#222">M0-CM+OB M2-CM+OB</text>
<text x="243.0" y="272.7" font-size="7.3" text-anchor="middle" fill="#222">M0-CM+OB M2-CM+OB</text>
<text x="1.4" y="20.8" font-size="17.3" font-weight="bold" text-anchor="start" fill="#000" >(a)</text>
<text x="0.1" y="127.4" font-size="17.3" font-weight="bold" text-anchor="start" fill="#000" >(c)</text>
<text x="332.2" y="15" font-size="17.3" font-weight="bold" text-anchor="start" fill="#000" >(b)</text>
<text x="452.45" y="15" font-size="17.3" font-weight="bold" text-anchor="start" fill="#000" >(e)</text>
<text x="330.85" y="131" font-size="17.3" font-weight="bold" text-anchor="start" fill="#000" >(d)</text>
<text x="458.2" y="131.6" font-size="17.3" font-weight="bold" text-anchor="start" fill="#000" >(f)</text>
<text x="14.74" y="258.4" font-size="17.3" font-weight="bold" text-anchor="start" fill="#000" >(g)</text>
<text x="302" y="262.5" font-size="17.3" font-weight="bold" text-anchor="start" fill="#000" >(h)</text>
<text x="488.1" y="264.2" font-size="17.3" font-weight="bold" text-anchor="start" fill="#000" >(i)</text>
<text x="13.4" y="412.4" font-size="17.3" font-weight="bold" text-anchor="start" fill="#000" >(j)</text>
<text x="250.9" y="411.4" font-size="17.3" font-weight="bold" text-anchor="start" fill="#000" >(k)</text>
<text x="462" y="410.7" font-size="17.3" font-weight="bold" text-anchor="start" fill="#000" >(l)</text>
<text x="78.7" y="10.6" font-size="13.55" text-anchor="start" fill="#111" >M0-CM+OB</text>
<text x="216" y="10.5" font-size="13.75" text-anchor="start" fill="#111" >M2-CM+OB</text>
<text transform="translate(32.6,91.8) rotate(-90)" font-size="13.4" text-anchor="start" fill="#111" >Osteo-7 d</text>
<text transform="translate(31.2,201.3) rotate(-90)" font-size="13.2" text-anchor="start" fill="#111" textLength="63.0" lengthAdjust="spacingAndGlyphs">Osteo-28 d</text>
<rect x="380" y="58.8" width="13.5" height="29.9" fill="#0000ff" />
<line x1="386.5" y1="53.5" x2="386.5" y2="58.8" stroke="#333" stroke-width="1.0"/>
<line x1="383.75" y1="53.5" x2="389.75" y2="53.5" stroke="#333" stroke-width="1.0"/>
<rect x="400.5" y="38.4" width="13.4" height="50.3" fill="#ff0000" />
<line x1="407.5" y1="34.5" x2="407.5" y2="38.4" stroke="#333" stroke-width="1.0"/>
<line x1="404.2" y1="34.5" x2="410.2" y2="34.5" stroke="#333" stroke-width="1.0"/>
<line x1="373.5" y1="17" x2="373.5" y2="89" stroke="#262626" stroke-width="1.0"/>
<line x1="370.6" y1="88.5" x2="420.8" y2="88.5" stroke="#262626" stroke-width="1.0"/>
<line x1="370.6" y1="88.5" x2="373.5" y2="88.5" stroke="#262626" stroke-width="1.0"/>
<text x="369.6" y="91.03" font-size="5.5" font-weight="bold" text-anchor="end" fill="#222" stroke="#222" stroke-width="0.12">0</text>
<line x1="370.6" y1="74.5" x2="373.5" y2="74.5" stroke="#262626" stroke-width="1.0"/>
<text x="369.6" y="76.73" font-size="5.5" font-weight="bold" text-anchor="end" fill="#222" stroke="#222" stroke-width="0.12">50</text>
<line x1="370.6" y1="60.5" x2="373.5" y2="60.5" stroke="#262626" stroke-width="1.0"/>
<text x="369.6" y="62.42" font-size="5.5" font-weight="bold" text-anchor="end" fill="#222" stroke="#222" stroke-width="0.12">100</text>
<line x1="370.6" y1="45.5" x2="373.5" y2="45.5" stroke="#262626" stroke-width="1.0"/>
<text x="369.6" y="48.12" font-size="5.5" font-weight="bold" text-anchor="end" fill="#222" stroke="#222" stroke-width="0.12">150</text>
<line x1="370.6" y1="31.5" x2="373.5" y2="31.5" stroke="#262626" stroke-width="1.0"/>
<text x="369.6" y="33.82" font-size="5.5" font-weight="bold" text-anchor="end" fill="#222" stroke="#222" stroke-width="0.12">200</text>
<line x1="370.6" y1="17.5" x2="373.5" y2="17.5" stroke="#262626" stroke-width="1.0"/>
<text x="369.6" y="19.52" font-size="5.5" font-weight="bold" text-anchor="end" fill="#222" stroke="#222" stroke-width="0.12">250</text>
<line x1="386.75" y1="88.5" x2="386.75" y2="91.7" stroke="#262626" stroke-width="1.0"/>
<text transform="translate(388.25,97) rotate(-45)" font-size="5.6" font-weight="bold" text-anchor="end" fill="#222" stroke="#222" stroke-width="0.18">M0-CM+OB</text>
<line x1="407.2" y1="88.5" x2="407.2" y2="91.7" stroke="#262626" stroke-width="1.0"/>
<text transform="translate(408.7,97) rotate(-45)" font-size="5.6" font-weight="bold" text-anchor="end" fill="#222" stroke="#222" stroke-width="0.18">M2-CM+OB</text>
<polyline points="386.5,52 386.5,26.5 406.5,26.5 406.5,33.4" fill="none" stroke="#3c3c3c" stroke-width="1.0"/>
<text x="392.61" y="25.37" font-size="8" font-weight="bold" text-anchor="start" fill="#111" letter-spacing="1.3" stroke="#111" stroke-width="0.32">**</text>
<text transform="translate(357.1,52.6) rotate(-90)" font-size="6.2" font-weight="bold" text-anchor="middle" fill="#111" textLength="53.8" lengthAdjust="spacingAndGlyphs" stroke="#111" stroke-width="0.1">ALP Activity(g/prot)</text>
<rect x="384.1" y="171.9" width="13.5" height="27.3" fill="#0000ff" />
<line x1="390.5" y1="165.5" x2="390.5" y2="171.9" stroke="#333" stroke-width="1.0"/>
<line x1="387.85" y1="165.5" x2="393.85" y2="165.5" stroke="#333" stroke-width="1.0"/>
<rect x="404.2" y="157.9" width="13.2" height="41.3" fill="#ff0000" />
<line x1="410.5" y1="145.5" x2="410.5" y2="157.9" stroke="#333" stroke-width="1.0"/>
<line x1="407.8" y1="145.5" x2="413.8" y2="145.5" stroke="#333" stroke-width="1.0"/>
<line x1="377.5" y1="129" x2="377.5" y2="200" stroke="#262626" stroke-width="1.0"/>
<line x1="374.8" y1="199.5" x2="424.3" y2="199.5" stroke="#262626" stroke-width="1.0"/>
<line x1="374.8" y1="199.5" x2="377.5" y2="199.5" stroke="#262626" stroke-width="1.0"/>
<text x="373.8" y="201.53" font-size="5.5" font-weight="bold" text-anchor="end" fill="#222" stroke="#222" stroke-width="0.12">0.0</text>
<line x1="374.8" y1="181.5" x2="377.5" y2="181.5" stroke="#262626" stroke-width="1.0"/>
<text x="373.8" y="184.2" font-size="5.5" font-weight="bold" text-anchor="end" fill="#222" stroke="#222" stroke-width="0.12">0.2</text>
<line x1="374.8" y1="164.5" x2="377.5" y2="164.5" stroke="#262626" stroke-width="1.0"/>
<text x="373.8" y="166.87" font-size="5.5" font-weight="bold" text-anchor="end" fill="#222" stroke="#222" stroke-width="0.12">0.4</text>
<line x1="374.8" y1="147.5" x2="377.5" y2="147.5" stroke="#262626" stroke-width="1.0"/>
<text x="373.8" y="149.53" font-size="5.5" font-weight="bold" text-anchor="end" fill="#222" stroke="#222" stroke-width="0.12">0.6</text>
<line x1="374.8" y1="129.5" x2="377.5" y2="129.5" stroke="#262626" stroke-width="1.0"/>
<text x="373.8" y="132.21" font-size="5.5" font-weight="bold" text-anchor="end" fill="#222" stroke="#222" stroke-width="0.12">0.8</text>
<line x1="390.9" y1="199.5" x2="390.9" y2="202.7" stroke="#262626" stroke-width="1.0"/>
<text transform="translate(393.2,207.7) rotate(-45)" font-size="5.5" font-weight="bold" text-anchor="end" fill="#222" stroke="#222" stroke-width="0.18">M0-CM+OB</text>
<line x1="410.5" y1="199.5" x2="410.5" y2="202.7" stroke="#262626" stroke-width="1.0"/>
<text transform="translate(412.8,207.7) rotate(-45)" font-size="5.5" font-weight="bold" text-anchor="end" fill="#222" stroke="#222" stroke-width="0.18">M2-CM+OB</text>
<polyline points="390.5,164 390.5,139.5 410.5,139.5 410.5,143.4" fill="none" stroke="#3c3c3c" stroke-width="1.0"/>
<text x="396.66" y="139.22" font-size="8" font-weight="bold" text-anchor="start" fill="#111" letter-spacing="1.0" stroke="#111" stroke-width="0.32">**</text>
<text transform="translate(357.5,163.8) rotate(-90)" font-size="6.1" font-weight="bold" text-anchor="middle" fill="#111" textLength="47.4" lengthAdjust="spacingAndGlyphs" stroke="#111" stroke-width="0.1">Quantification of</text>
<text transform="translate(363.6,164.15) rotate(-90)" font-size="6.1" font-weight="bold" text-anchor="middle" fill="#111" textLength="58.5" lengthAdjust="spacingAndGlyphs" stroke="#111" stroke-width="0.1">Alizarin Red staining</text>
<rect x="533.2" y="50.1" width="13.8" height="41.2" fill="#0000ff" />
<line x1="540.5" y1="47.5" x2="540.5" y2="50.1" stroke="#333" stroke-width="1.0"/>
<line x1="536.9" y1="47.5" x2="543.3" y2="47.5" stroke="#333" stroke-width="1.0"/>
<rect x="547.5" y="33.4" width="13.5" height="57.9" fill="#ff0000" />
<line x1="554.5" y1="30.5" x2="554.5" y2="33.4" stroke="#333" stroke-width="1.0"/>
<line x1="551.05" y1="30.5" x2="557.45" y2="30.5" stroke="#333" stroke-width="1.0"/>
<rect x="575.2" y="50.1" width="13.7" height="41.2" fill="#0000ff" />
<line x1="582.5" y1="48.5" x2="582.5" y2="50.1" stroke="#333" stroke-width="1.0"/>
<line x1="578.85" y1="48.5" x2="585.25" y2="48.5" stroke="#333" stroke-width="1.0"/>
<rect x="589.3" y="46" width="13.6" height="45.3" fill="#ff0000" />
<line x1="596.5" y1="42.5" x2="596.5" y2="46" stroke="#333" stroke-width="1.0"/>
<line x1="592.9" y1="42.5" x2="599.3" y2="42.5" stroke="#333" stroke-width="1.0"/>
<line x1="526.5" y1="8" x2="526.5" y2="92" stroke="#262626" stroke-width="1.0"/>
<line x1="523.2" y1="91.5" x2="610.5" y2="91.5" stroke="#262626" stroke-width="1.0"/>
<line x1="523.2" y1="91.5" x2="526.5" y2="91.5" stroke="#262626" stroke-width="1.0"/>
<text x="522.2" y="94.12" font-size="6.9" font-weight="bold" text-anchor="end" fill="#222" stroke="#222" stroke-width="0.12">0.0</text>
<line x1="523.2" y1="70.5" x2="526.5" y2="70.5" stroke="#262626" stroke-width="1.0"/>
<text x="522.2" y="73.42" font-size="6.9" font-weight="bold" text-anchor="end" fill="#222" stroke="#222" stroke-width="0.12">0.5</text>
<line x1="523.2" y1="49.5" x2="526.5" y2="49.5" stroke="#262626" stroke-width="1.0"/>
<text x="522.2" y="52.71" font-size="6.9" font-weight="bold" text-anchor="end" fill="#222" stroke="#222" stroke-width="0.12">1.0</text>
<line x1="523.2" y1="29.5" x2="526.5" y2="29.5" stroke="#262626" stroke-width="1.0"/>
<text x="522.2" y="32.02" font-size="6.9" font-weight="bold" text-anchor="end" fill="#222" stroke="#222" stroke-width="0.12">1.5</text>
<line x1="523.2" y1="8.5" x2="526.5" y2="8.5" stroke="#262626" stroke-width="1.0"/>
<text x="522.2" y="11.31" font-size="6.9" font-weight="bold" text-anchor="end" fill="#222" stroke="#222" stroke-width="0.12">2.0</text>
<line x1="547.2" y1="91.5" x2="547.2" y2="94.7" stroke="#262626" stroke-width="1.0"/>
<text x="547.2" y="102.2" font-size="6.8" font-weight="bold" text-anchor="middle" fill="#222" stroke="#222" stroke-width="0.12">7d</text>
<line x1="589.1" y1="91.5" x2="589.1" y2="94.7" stroke="#262626" stroke-width="1.0"/>
<text x="589.1" y="102.2" font-size="6.8" font-weight="bold" text-anchor="middle" fill="#222" stroke="#222" stroke-width="0.12">14d</text>
<polyline points="539.5,47.2 539.5,23.5 553.5,23.5 553.5,27.5" fill="none" stroke="#3c3c3c" stroke-width="1.0"/>
<text x="536.81" y="22.78" font-size="10.2" font-weight="bold" text-anchor="start" fill="#111" letter-spacing="1.05" stroke="#111" stroke-width="0.41">****</text>
<polyline points="582.5,47.5 582.5,34.5 596.5,34.5 596.5,41.5" fill="none" stroke="#3c3c3c" stroke-width="1.0"/>
<text x="584.28" y="34.73" font-size="10.2" font-weight="bold" text-anchor="start" fill="#111" letter-spacing="1.05" stroke="#111" stroke-width="0.41">**</text>
<text transform="translate(492.3,51.1) rotate(-90)" font-size="7.0" font-weight="bold" text-anchor="middle" fill="#111" textLength="86.5" lengthAdjust="spacingAndGlyphs" stroke="#111" stroke-width="0.1">Relative expression of ALP</text>
<text transform="translate(500.7,48.55) rotate(-90)" font-size="7.0" font-weight="bold" text-anchor="middle" fill="#111" textLength="61.0" lengthAdjust="spacingAndGlyphs" stroke="#111" stroke-width="0.1">(Examed by qPCR)</text>
<rect x="628.8" y="12.1" width="9.2" height="4.2" fill="#0000ff" />
<text x="642.23" y="16.6" font-size="7.0" text-anchor="start" fill="#222" >M0-CM+OB</text>
<rect x="628.8" y="23.1" width="9.2" height="4.5" fill="#ff0000" />
<text x="642.23" y="27.7" font-size="7.0" text-anchor="start" fill="#222" >M2-CM+OB</text>
<rect x="536.8" y="165.1" width="13.4" height="41.4" fill="#0000ff" />
<line x1="543.5" y1="163.5" x2="543.5" y2="165.1" stroke="#333" stroke-width="1.0"/>
<line x1="540.3" y1="163.5" x2="546.7" y2="163.5" stroke="#333" stroke-width="1.0"/>
<rect x="550.9" y="146.3" width="13.8" height="60.2" fill="#ff0000" />
<line x1="557.5" y1="137.5" x2="557.5" y2="146.3" stroke="#333" stroke-width="1.0"/>
<line x1="554.6" y1="137.5" x2="561" y2="137.5" stroke="#333" stroke-width="1.0"/>
<rect x="578.8" y="164.6" width="13.3" height="41.9" fill="#0000ff" />
<line x1="585.5" y1="158.5" x2="585.5" y2="164.6" stroke="#333" stroke-width="1.0"/>
<line x1="582.25" y1="158.5" x2="588.65" y2="158.5" stroke="#333" stroke-width="1.0"/>
<rect x="593" y="148.6" width="13.6" height="57.9" fill="#ff0000" />
<line x1="599.5" y1="133.5" x2="599.5" y2="148.6" stroke="#333" stroke-width="1.0"/>
<line x1="596.6" y1="133.5" x2="603" y2="133.5" stroke="#333" stroke-width="1.0"/>
<line x1="529.5" y1="123" x2="529.5" y2="207" stroke="#262626" stroke-width="1.0"/>
<line x1="526.2" y1="206.5" x2="613.7" y2="206.5" stroke="#262626" stroke-width="1.0"/>
<line x1="526.2" y1="206.5" x2="529.5" y2="206.5" stroke="#262626" stroke-width="1.0"/>
<text x="525.2" y="209.31" font-size="6.9" font-weight="bold" text-anchor="end" fill="#222" stroke="#222" stroke-width="0.12">0.0</text>
<line x1="526.2" y1="185.5" x2="529.5" y2="185.5" stroke="#262626" stroke-width="1.0"/>
<text x="525.2" y="188.53" font-size="6.9" font-weight="bold" text-anchor="end" fill="#222" stroke="#222" stroke-width="0.12">0.5</text>
<line x1="526.2" y1="164.5" x2="529.5" y2="164.5" stroke="#262626" stroke-width="1.0"/>
<text x="525.2" y="167.75" font-size="6.9" font-weight="bold" text-anchor="end" fill="#222" stroke="#222" stroke-width="0.12">1.0</text>
<line x1="526.2" y1="144.5" x2="529.5" y2="144.5" stroke="#262626" stroke-width="1.0"/>
<text x="525.2" y="146.97" font-size="6.9" font-weight="bold" text-anchor="end" fill="#222" stroke="#222" stroke-width="0.12">1.5</text>
<line x1="526.2" y1="123.5" x2="529.5" y2="123.5" stroke="#262626" stroke-width="1.0"/>
<text x="525.2" y="126.2" font-size="6.9" font-weight="bold" text-anchor="end" fill="#222" stroke="#222" stroke-width="0.12">2.0</text>
<line x1="550.5" y1="206.5" x2="550.5" y2="209.7" stroke="#262626" stroke-width="1.0"/>
<text x="550.5" y="216.6" font-size="6.8" font-weight="bold" text-anchor="middle" fill="#222" stroke="#222" stroke-width="0.12">7d</text>
<line x1="592.5" y1="206.5" x2="592.5" y2="209.7" stroke="#262626" stroke-width="1.0"/>
<text x="592.5" y="216.6" font-size="6.8" font-weight="bold" text-anchor="middle" fill="#222" stroke="#222" stroke-width="0.12">14d</text>
<polyline points="543.5,162.5 543.5,127.5 557.5,127.5 557.5,136.5" fill="none" stroke="#3c3c3c" stroke-width="1.0"/>
<text x="542.53" y="127.43" font-size="10" font-weight="bold" text-anchor="start" fill="#111" letter-spacing="1.4" stroke="#111" stroke-width="0.40">***</text>
<polyline points="585.5,157.5 585.5,124.5 598.5,124.5 598.5,132" fill="none" stroke="#3c3c3c" stroke-width="1.0"/>
<text x="587.18" y="124.33" font-size="10" font-weight="bold" text-anchor="start" fill="#111" letter-spacing="1.4" stroke="#111" stroke-width="0.40">**</text>
<text transform="translate(496.7,165.15) rotate(-90)" font-size="7.0" font-weight="bold" text-anchor="middle" fill="#111" textLength="93.2" lengthAdjust="spacingAndGlyphs" stroke="#111" stroke-width="0.1">Relative expression of COL1</text>
<text transform="translate(504.5,164.6) rotate(-90)" font-size="7.0" font-weight="bold" text-anchor="middle" fill="#111" textLength="60.9" lengthAdjust="spacingAndGlyphs" stroke="#111" stroke-width="0.1">(Examed by qPCR)</text>
<rect x="632.2" y="127" width="9.1" height="4.1" fill="#0000ff" />
<text x="645.63" y="131.6" font-size="6.95" text-anchor="start" fill="#222" >M0-CM+OB</text>
<rect x="632.2" y="138.1" width="9.1" height="4.3" fill="#ff0000" />
<text x="645.63" y="142.6" font-size="6.95" text-anchor="start" fill="#222" >M2-CM+OB</text>
<rect x="343.2" y="308.5" width="14.2" height="55.9" fill="#0000ff" />
<line x1="350.5" y1="304.5" x2="350.5" y2="308.5" stroke="#333" stroke-width="1.0"/>
<line x1="347.1" y1="304.5" x2="353.5" y2="304.5" stroke="#333" stroke-width="1.0"/>
<rect x="358" y="296" width="14" height="68.4" fill="#ff0000" />
<line x1="365.5" y1="289.5" x2="365.5" y2="296" stroke="#333" stroke-width="1.0"/>
<line x1="361.8" y1="289.5" x2="368.2" y2="289.5" stroke="#333" stroke-width="1.0"/>
<rect x="386.3" y="310.8" width="14" height="53.6" fill="#0000ff" />
<line x1="393.5" y1="309.5" x2="393.5" y2="310.8" stroke="#333" stroke-width="1.0"/>
<line x1="390.1" y1="309.5" x2="396.5" y2="309.5" stroke="#333" stroke-width="1.0"/>
<rect x="400.9" y="307.3" width="13.7" height="57.1" fill="#ff0000" />
<line x1="407.5" y1="305.5" x2="407.5" y2="307.3" stroke="#333" stroke-width="1.0"/>
<line x1="404.55" y1="305.5" x2="410.95" y2="305.5" stroke="#333" stroke-width="1.0"/>
<line x1="336.5" y1="278" x2="336.5" y2="365" stroke="#262626" stroke-width="1.0"/>
<line x1="332.9" y1="364.5" x2="422" y2="364.5" stroke="#262626" stroke-width="1.0"/>
<line x1="332.9" y1="364.5" x2="336.5" y2="364.5" stroke="#262626" stroke-width="1.0"/>
<text x="331.9" y="367.21" font-size="6.9" font-weight="bold" text-anchor="end" fill="#222" stroke="#222" stroke-width="0.12">0.0</text>
<line x1="332.9" y1="335.5" x2="336.5" y2="335.5" stroke="#262626" stroke-width="1.0"/>
<text x="331.9" y="338.64" font-size="6.9" font-weight="bold" text-anchor="end" fill="#222" stroke="#222" stroke-width="0.12">0.5</text>
<line x1="332.9" y1="307.5" x2="336.5" y2="307.5" stroke="#262626" stroke-width="1.0"/>
<text x="331.9" y="310.07" font-size="6.9" font-weight="bold" text-anchor="end" fill="#222" stroke="#222" stroke-width="0.12">1.0</text>
<line x1="332.9" y1="278.5" x2="336.5" y2="278.5" stroke="#262626" stroke-width="1.0"/>
<text x="331.9" y="281.5" font-size="6.9" font-weight="bold" text-anchor="end" fill="#222" stroke="#222" stroke-width="0.12">1.5</text>
<line x1="357.7" y1="364.5" x2="357.7" y2="367.7" stroke="#262626" stroke-width="1.0"/>
<text x="357.7" y="374" font-size="6.6" font-weight="bold" text-anchor="middle" fill="#222" stroke="#222" stroke-width="0.12">7d</text>
<line x1="400.6" y1="364.5" x2="400.6" y2="367.7" stroke="#262626" stroke-width="1.0"/>
<text x="400.6" y="374" font-size="6.6" font-weight="bold" text-anchor="middle" fill="#222" stroke="#222" stroke-width="0.12">14d</text>
<polyline points="350.5,303.5 350.5,283.5 364.5,283.5 364.5,287.3" fill="none" stroke="#3c3c3c" stroke-width="1.0"/>
<text x="352.58" y="282.67" font-size="10" font-weight="bold" text-anchor="start" fill="#111" letter-spacing="1.4" stroke="#111" stroke-width="0.40">**</text>
<polyline points="393.5,308.3 393.5,299.5 407.5,299.5 407.5,304.5" fill="none" stroke="#3c3c3c" stroke-width="1.0"/>
<text x="398.14" y="298.72" font-size="9.4" font-weight="bold" text-anchor="start" fill="#111" letter-spacing="1.2" stroke="#111" stroke-width="0.38">*</text>
<text transform="translate(311.7,321.8) rotate(-90)" font-size="7.0" font-weight="bold" text-anchor="middle" fill="#111" textLength="80.5" lengthAdjust="spacingAndGlyphs" stroke="#111" stroke-width="0.1">Relative expression of ALP</text>
<text transform="translate(319.3,320.65) rotate(-90)" font-size="6.6" font-weight="bold" text-anchor="middle" fill="#111" textLength="50.2" lengthAdjust="spacingAndGlyphs" stroke="#111" stroke-width="0.1">( Examed by WB)</text>
<rect x="440.8" y="283.1" width="9.2" height="4.5" fill="#0000ff" />
<text x="454.22" y="287.6" font-size="7.05" text-anchor="start" fill="#222" >M0-CM+OB</text>
<rect x="440.8" y="294.2" width="9.2" height="4.8" fill="#ff0000" />
<text x="454.22" y="299" font-size="7.05" text-anchor="start" fill="#222" >M2-CM+OB</text>
<rect x="536" y="320" width="13.8" height="42.2" fill="#0000ff" />
<line x1="542.5" y1="318.5" x2="542.5" y2="320" stroke="#333" stroke-width="1.0"/>
<line x1="539.7" y1="318.5" x2="546.1" y2="318.5" stroke="#333" stroke-width="1.0"/>
<rect x="550.7" y="307.4" width="13.8" height="54.8" fill="#ff0000" />
<line x1="557.5" y1="300.5" x2="557.5" y2="307.4" stroke="#333" stroke-width="1.0"/>
<line x1="554.4" y1="300.5" x2="560.8" y2="300.5" stroke="#333" stroke-width="1.0"/>
<rect x="579" y="342.1" width="13.8" height="20.1" fill="#0000ff" />
<line x1="585.5" y1="339.5" x2="585.5" y2="342.1" stroke="#333" stroke-width="1.0"/>
<line x1="582.7" y1="339.5" x2="589.1" y2="339.5" stroke="#333" stroke-width="1.0"/>
<rect x="593.6" y="330.6" width="13.6" height="31.6" fill="#ff0000" />
<line x1="600.5" y1="326.5" x2="600.5" y2="330.6" stroke="#333" stroke-width="1.0"/>
<line x1="597.2" y1="326.5" x2="603.6" y2="326.5" stroke="#333" stroke-width="1.0"/>
<line x1="529.5" y1="278" x2="529.5" y2="363" stroke="#262626" stroke-width="1.0"/>
<line x1="526" y1="362.5" x2="614.3" y2="362.5" stroke="#262626" stroke-width="1.0"/>
<line x1="526" y1="362.5" x2="529.5" y2="362.5" stroke="#262626" stroke-width="1.0"/>
<text x="525" y="364.91" font-size="6.6" font-weight="bold" text-anchor="end" fill="#222" stroke="#222" stroke-width="0.12">0.0</text>
<line x1="526" y1="341.5" x2="529.5" y2="341.5" stroke="#262626" stroke-width="1.0"/>
<text x="525" y="343.86" font-size="6.6" font-weight="bold" text-anchor="end" fill="#222" stroke="#222" stroke-width="0.12">0.5</text>
<line x1="526" y1="320.5" x2="529.5" y2="320.5" stroke="#262626" stroke-width="1.0"/>
<text x="525" y="322.81" font-size="6.6" font-weight="bold" text-anchor="end" fill="#222" stroke="#222" stroke-width="0.12">1.0</text>
<line x1="526" y1="299.5" x2="529.5" y2="299.5" stroke="#262626" stroke-width="1.0"/>
<text x="525" y="301.76" font-size="6.6" font-weight="bold" text-anchor="end" fill="#222" stroke="#222" stroke-width="0.12">1.5</text>
<line x1="526" y1="278.5" x2="529.5" y2="278.5" stroke="#262626" stroke-width="1.0"/>
<text x="525" y="280.71" font-size="6.6" font-weight="bold" text-anchor="end" fill="#222" stroke="#222" stroke-width="0.12">2.0</text>
<line x1="550.3" y1="362.5" x2="550.3" y2="365.7" stroke="#262626" stroke-width="1.0"/>
<text x="550.3" y="372.9" font-size="6.6" font-weight="bold" text-anchor="middle" fill="#222" stroke="#222" stroke-width="0.12">7d</text>
<line x1="593.1" y1="362.5" x2="593.1" y2="365.7" stroke="#262626" stroke-width="1.0"/>
<text x="593.1" y="372.9" font-size="6.6" font-weight="bold" text-anchor="middle" fill="#222" stroke="#222" stroke-width="0.12">14d</text>
<polyline points="543.5,316 543.5,294.5 557.5,294.5 557.5,299.3" fill="none" stroke="#3c3c3c" stroke-width="1.0"/>
<text x="548.05" y="293.42" font-size="8.6" font-weight="bold" text-anchor="start" fill="#111" letter-spacing="1" stroke="#111" stroke-width="0.34">*</text>
<polyline points="585.5,339.3 585.5,320.5 600.5,320.5 600.5,325.8" fill="none" stroke="#3c3c3c" stroke-width="1.0"/>
<text x="591.35" y="319.22" font-size="8.6" font-weight="bold" text-anchor="start" fill="#111" letter-spacing="1" stroke="#111" stroke-width="0.34">*</text>
<text transform="translate(505.2,319.2) rotate(-90)" font-size="6.8" font-weight="bold" text-anchor="middle" fill="#111" textLength="84.3" lengthAdjust="spacingAndGlyphs" stroke="#111" stroke-width="0.1">Relative expression of COL1</text>
<text transform="translate(512.3,318.2) rotate(-90)" font-size="6.6" font-weight="bold" text-anchor="middle" fill="#111" textLength="54.3" lengthAdjust="spacingAndGlyphs" stroke="#111" stroke-width="0.1">( Examed by WB)</text>
<rect x="633.4" y="281.2" width="9.4" height="4.6" fill="#0000ff" />
<text x="647.23" y="285.8" font-size="6.95" text-anchor="start" fill="#222" >M0-CM+OB</text>
<rect x="633.4" y="292.5" width="9.4" height="4.5" fill="#ff0000" />
<text x="647.23" y="297" font-size="6.95" text-anchor="start" fill="#222" >M2-CM+OB</text>
<rect x="86.9" y="475.6" width="14.9" height="46.6" fill="#0000ff" />
<line x1="94.5" y1="465.5" x2="94.5" y2="475.6" stroke="#333" stroke-width="1.0"/>
<line x1="91.15" y1="465.5" x2="97.55" y2="465.5" stroke="#333" stroke-width="1.0"/>
<rect x="102.3" y="455.3" width="14.9" height="66.9" fill="#ff0000" />
<line x1="109.5" y1="444.5" x2="109.5" y2="455.3" stroke="#333" stroke-width="1.0"/>
<line x1="106.55" y1="444.5" x2="112.95" y2="444.5" stroke="#333" stroke-width="1.0"/>
<rect x="133" y="476.3" width="14.8" height="45.9" fill="#0000ff" />
<line x1="140.5" y1="467.5" x2="140.5" y2="476.3" stroke="#333" stroke-width="1.0"/>
<line x1="137.2" y1="467.5" x2="143.6" y2="467.5" stroke="#333" stroke-width="1.0"/>
<rect x="148.4" y="487.9" width="15.2" height="34.3" fill="#ff0000" />
<line x1="156.5" y1="478.5" x2="156.5" y2="487.9" stroke="#333" stroke-width="1.0"/>
<line x1="152.8" y1="478.5" x2="159.2" y2="478.5" stroke="#333" stroke-width="1.0"/>
<line x1="79.5" y1="430" x2="79.5" y2="523" stroke="#262626" stroke-width="1.0"/>
<line x1="75" y1="522.5" x2="171.7" y2="522.5" stroke="#262626" stroke-width="1.0"/>
<line x1="75" y1="522.5" x2="79.5" y2="522.5" stroke="#262626" stroke-width="1.0"/>
<text x="74" y="525.05" font-size="7.0" font-weight="bold" text-anchor="end" fill="#222" stroke="#222" stroke-width="0.12">0.0</text>
<line x1="75" y1="499.5" x2="79.5" y2="499.5" stroke="#262626" stroke-width="1.0"/>
<text x="74" y="502.05" font-size="7.0" font-weight="bold" text-anchor="end" fill="#222" stroke="#222" stroke-width="0.12">0.5</text>
<line x1="75" y1="476.5" x2="79.5" y2="476.5" stroke="#262626" stroke-width="1.0"/>
<text x="74" y="479.05" font-size="7.0" font-weight="bold" text-anchor="end" fill="#222" stroke="#222" stroke-width="0.12">1.0</text>
<line x1="75" y1="453.5" x2="79.5" y2="453.5" stroke="#262626" stroke-width="1.0"/>
<text x="74" y="456.05" font-size="7.0" font-weight="bold" text-anchor="end" fill="#222" stroke="#222" stroke-width="0.12">1.5</text>
<line x1="75" y1="430.5" x2="79.5" y2="430.5" stroke="#262626" stroke-width="1.0"/>
<text x="74" y="433.05" font-size="7.0" font-weight="bold" text-anchor="end" fill="#222" stroke="#222" stroke-width="0.12">2.0</text>
<line x1="101.9" y1="522.5" x2="101.9" y2="525.7" stroke="#262626" stroke-width="1.0"/>
<text x="101.9" y="533.3" font-size="7.2" font-weight="bold" text-anchor="middle" fill="#222" stroke="#222" stroke-width="0.12">7d</text>
<line x1="148.1" y1="522.5" x2="148.1" y2="525.7" stroke="#262626" stroke-width="1.0"/>
<text x="148.1" y="533.3" font-size="7.2" font-weight="bold" text-anchor="middle" fill="#222" stroke="#222" stroke-width="0.12">14d</text>
<polyline points="94.5,464 94.5,433.5 109.5,433.5 109.5,439.5" fill="none" stroke="#3c3c3c" stroke-width="1.0"/>
<text x="93.87" y="433.43" font-size="10.8" font-weight="bold" text-anchor="start" fill="#111" letter-spacing="1.2" stroke="#111" stroke-width="0.43">***</text>
<polyline points="140.5,466 140.5,457.5 156.5,457.5 156.5,477" fill="none" stroke="#3c3c3c" stroke-width="1.0"/>
<text x="145.95" y="457.43" font-size="10.4" font-weight="bold" text-anchor="start" fill="#111" letter-spacing="1.2" stroke="#111" stroke-width="0.42">*</text>
<text transform="translate(45.2,475) rotate(-90)" font-size="6.8" font-weight="bold" text-anchor="middle" fill="#111" textLength="86.5" lengthAdjust="spacingAndGlyphs" stroke="#111" stroke-width="0.1">Relative expression of RANKL</text>
<text transform="translate(52.7,472.85) rotate(-90)" font-size="6.8" font-weight="bold" text-anchor="middle" fill="#111" textLength="61.0" lengthAdjust="spacingAndGlyphs" stroke="#111" stroke-width="0.1">(Examed by qPCR)</text>
<rect x="191.9" y="434" width="10.1" height="4.9" fill="#0000ff" />
<text x="207.09" y="438.9" font-size="7.45" text-anchor="start" fill="#222" >M0-CM+OB</text>
<rect x="191.9" y="446.4" width="10.1" height="5.1" fill="#ff0000" />
<text x="207.09" y="451.5" font-size="7.45" text-anchor="start" fill="#222" >M2-CM+OB</text>
<rect x="302.8" y="478" width="14.4" height="45.6" fill="#0000ff" />
<line x1="310.5" y1="476.5" x2="310.5" y2="478" stroke="#333" stroke-width="1.0"/>
<line x1="306.8" y1="476.5" x2="313.2" y2="476.5" stroke="#333" stroke-width="1.0"/>
<rect x="318.6" y="469.3" width="14.3" height="54.3" fill="#ff0000" />
<line x1="325.5" y1="463.5" x2="325.5" y2="469.3" stroke="#333" stroke-width="1.0"/>
<line x1="322.55" y1="463.5" x2="328.95" y2="463.5" stroke="#333" stroke-width="1.0"/>
<rect x="349" y="478" width="14.4" height="45.6" fill="#0000ff" />
<line x1="356.5" y1="476.5" x2="356.5" y2="478" stroke="#333" stroke-width="1.0"/>
<line x1="353" y1="476.5" x2="359.4" y2="476.5" stroke="#333" stroke-width="1.0"/>
<rect x="364.8" y="456.3" width="14.4" height="67.3" fill="#ff0000" />
<line x1="372.5" y1="447.5" x2="372.5" y2="456.3" stroke="#333" stroke-width="1.0"/>
<line x1="368.8" y1="447.5" x2="375.2" y2="447.5" stroke="#333" stroke-width="1.0"/>
<line x1="294.5" y1="431" x2="294.5" y2="524" stroke="#262626" stroke-width="1.0"/>
<line x1="290.6" y1="523.5" x2="386.2" y2="523.5" stroke="#262626" stroke-width="1.0"/>
<line x1="290.6" y1="523.5" x2="294.5" y2="523.5" stroke="#262626" stroke-width="1.0"/>
<text x="289.6" y="526.52" font-size="7.2" font-weight="bold" text-anchor="end" fill="#222" stroke="#222" stroke-width="0.12">0.0</text>
<line x1="290.6" y1="500.5" x2="294.5" y2="500.5" stroke="#262626" stroke-width="1.0"/>
<text x="289.6" y="503.57" font-size="7.2" font-weight="bold" text-anchor="end" fill="#222" stroke="#222" stroke-width="0.12">0.5</text>
<line x1="290.6" y1="477.5" x2="294.5" y2="477.5" stroke="#262626" stroke-width="1.0"/>
<text x="289.6" y="480.62" font-size="7.2" font-weight="bold" text-anchor="end" fill="#222" stroke="#222" stroke-width="0.12">1.0</text>
<line x1="290.6" y1="454.5" x2="294.5" y2="454.5" stroke="#262626" stroke-width="1.0"/>
<text x="289.6" y="457.67" font-size="7.2" font-weight="bold" text-anchor="end" fill="#222" stroke="#222" stroke-width="0.12">1.5</text>
<line x1="290.6" y1="431.5" x2="294.5" y2="431.5" stroke="#262626" stroke-width="1.0"/>
<text x="289.6" y="434.72" font-size="7.2" font-weight="bold" text-anchor="end" fill="#222" stroke="#222" stroke-width="0.12">2.0</text>
<line x1="317.9" y1="523.5" x2="317.9" y2="526.7" stroke="#262626" stroke-width="1.0"/>
<text x="317.9" y="535" font-size="7.4" font-weight="bold" text-anchor="middle" fill="#222" stroke="#222" stroke-width="0.12">7d</text>
<line x1="364.1" y1="523.5" x2="364.1" y2="526.7" stroke="#262626" stroke-width="1.0"/>
<text x="364.1" y="535" font-size="7.4" font-weight="bold" text-anchor="middle" fill="#222" stroke="#222" stroke-width="0.12">14d</text>
<polyline points="309.5,475 309.5,446.5 325.5,446.5 325.5,462" fill="none" stroke="#3c3c3c" stroke-width="1.0"/>
<text x="312.58" y="445.68" font-size="10.5" font-weight="bold" text-anchor="start" fill="#111" letter-spacing="1.2" stroke="#111" stroke-width="0.42">**</text>
<polyline points="355.5,475 355.5,434.5 371.5,434.5 371.5,444.2" fill="none" stroke="#3c3c3c" stroke-width="1.0"/>
<text x="353.35" y="434.28" font-size="10.5" font-weight="bold" text-anchor="start" fill="#111" letter-spacing="1.2" stroke="#111" stroke-width="0.42">****</text>
<text transform="translate(260.4,478.2) rotate(-90)" font-size="6.8" font-weight="bold" text-anchor="middle" fill="#111" textLength="84.3" lengthAdjust="spacingAndGlyphs" stroke="#111" stroke-width="0.1">Relative expression of OPG</text>
<text transform="translate(268.7,475.35) rotate(-90)" font-size="6.8" font-weight="bold" text-anchor="middle" fill="#111" textLength="62.0" lengthAdjust="spacingAndGlyphs" stroke="#111" stroke-width="0.1">(Examed by qPCR)</text>
<rect x="407.7" y="436.1" width="9.9" height="4.6" fill="#0000ff" />
<text x="422.58" y="441" font-size="7.5" text-anchor="start" fill="#222" >M0-CM+OB</text>
<rect x="407.7" y="448.2" width="9.9" height="4.7" fill="#ff0000" />
<text x="422.58" y="452.9" font-size="7.5" text-anchor="start" fill="#222" >M2-CM+OB</text>
<rect x="512" y="474.8" width="15.9" height="50.1" fill="#0000ff" />
<line x1="519.5" y1="474.5" x2="519.5" y2="474.8" stroke="#333" stroke-width="1.0"/>
<line x1="516.75" y1="474.5" x2="523.15" y2="474.5" stroke="#333" stroke-width="1.0"/>
<rect x="528.8" y="464.6" width="16" height="60.3" fill="#ff0000" />
<line x1="536.5" y1="452.5" x2="536.5" y2="464.6" stroke="#333" stroke-width="1.0"/>
<line x1="533.6" y1="452.5" x2="540" y2="452.5" stroke="#333" stroke-width="1.0"/>
<rect x="561.4" y="475.6" width="15.9" height="49.3" fill="#0000ff" />
<line x1="569.5" y1="475.5" x2="569.5" y2="475.6" stroke="#333" stroke-width="1.0"/>
<line x1="566.15" y1="475.5" x2="572.55" y2="475.5" stroke="#333" stroke-width="1.0"/>
<rect x="578.1" y="499" width="15.9" height="25.9" fill="#ff0000" />
<line x1="586.5" y1="489.5" x2="586.5" y2="499" stroke="#333" stroke-width="1.0"/>
<line x1="582.85" y1="489.5" x2="589.25" y2="489.5" stroke="#333" stroke-width="1.0"/>
<line x1="504.5" y1="427" x2="504.5" y2="525" stroke="#262626" stroke-width="1.0"/>
<line x1="499.7" y1="524.5" x2="599.2" y2="524.5" stroke="#262626" stroke-width="1.0"/>
<line x1="499.7" y1="524.5" x2="504.5" y2="524.5" stroke="#262626" stroke-width="1.0"/>
<text x="498.7" y="527.92" font-size="7.5" font-weight="bold" text-anchor="end" fill="#222" stroke="#222" stroke-width="0.12">0.0</text>
<line x1="499.7" y1="500.5" x2="504.5" y2="500.5" stroke="#262626" stroke-width="1.0"/>
<text x="498.7" y="503.57" font-size="7.5" font-weight="bold" text-anchor="end" fill="#222" stroke="#222" stroke-width="0.12">0.5</text>
<line x1="499.7" y1="476.5" x2="504.5" y2="476.5" stroke="#262626" stroke-width="1.0"/>
<text x="498.7" y="479.22" font-size="7.5" font-weight="bold" text-anchor="end" fill="#222" stroke="#222" stroke-width="0.12">1.0</text>
<line x1="499.7" y1="451.5" x2="504.5" y2="451.5" stroke="#262626" stroke-width="1.0"/>
<text x="498.7" y="454.87" font-size="7.5" font-weight="bold" text-anchor="end" fill="#222" stroke="#222" stroke-width="0.12">1.5</text>
<line x1="499.7" y1="427.5" x2="504.5" y2="427.5" stroke="#262626" stroke-width="1.0"/>
<text x="498.7" y="430.52" font-size="7.5" font-weight="bold" text-anchor="end" fill="#222" stroke="#222" stroke-width="0.12">2.0</text>
<line x1="528.1" y1="524.5" x2="528.1" y2="527.7" stroke="#262626" stroke-width="1.0"/>
<text x="528.1" y="536.8" font-size="7.6" font-weight="bold" text-anchor="middle" fill="#222" stroke="#222" stroke-width="0.12">7d</text>
<line x1="577.4" y1="524.5" x2="577.4" y2="527.7" stroke="#262626" stroke-width="1.0"/>
<text x="577.4" y="536.8" font-size="7.6" font-weight="bold" text-anchor="middle" fill="#222" stroke="#222" stroke-width="0.12">14d</text>
<polyline points="517.5,471.8 517.5,442.5 536.5,442.5 536.5,449.5" fill="none" stroke="#3c3c3c" stroke-width="1.0"/>
<text x="527" y="437.8" font-size="8.6" text-anchor="middle" fill="#222" >ns</text>
<polyline points="568.5,471.8 568.5,459.5 586.5,459.5 586.5,486.5" fill="none" stroke="#3c3c3c" stroke-width="1.0"/>
<text x="571.98" y="458.13" font-size="10.5" font-weight="bold" text-anchor="start" fill="#111" letter-spacing="1.2" stroke="#111" stroke-width="0.42">**</text>
<text transform="translate(485.3,475.95) rotate(-90)" font-size="9.6" font-weight="bold" text-anchor="middle" fill="#111" textLength="95.7" lengthAdjust="spacingAndGlyphs" stroke="#111" stroke-width="0.1">The ratio of RANKL/OPG</text>
<rect x="624.3" y="431.2" width="10.7" height="5.4" fill="#0000ff" />
<text x="640.44" y="436.6" font-size="8.1" text-anchor="start" fill="#222" >M0-CM+OB</text>
<rect x="624.3" y="444.3" width="10.7" height="5.4" fill="#ff0000" />
<text x="640.44" y="449.5" font-size="8.1" text-anchor="start" fill="#222" >M2-CM+OB</text>
</svg></body></html>
